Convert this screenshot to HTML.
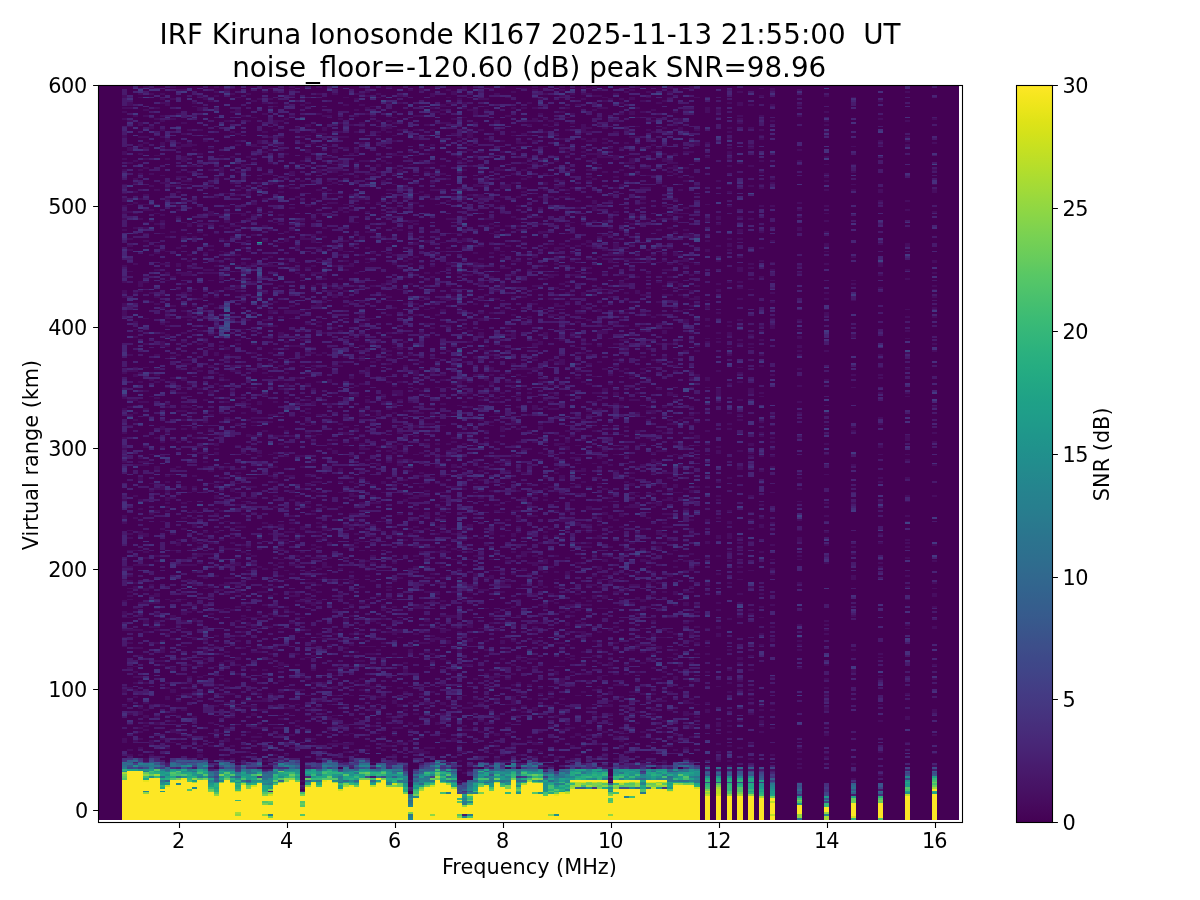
<!DOCTYPE html>
<html lang="en"><head><meta charset="utf-8"><title>IRF Kiruna Ionosonde KI167</title>
<style>html,body{margin:0;padding:0;background:#fff}svg{display:block}text{font-family:"DejaVu Sans","Liberation Sans",sans-serif;fill:#000}</style></head>
<body>
<svg width="1200" height="900" viewBox="0 0 1200 900">
<rect width="1200" height="900" fill="#fff"/>
<defs><linearGradient id="vg" x1="0" y1="0" x2="0" y2="1"><stop offset="0.0000" stop-color="#fde725"/><stop offset="0.0159" stop-color="#f4e61e"/><stop offset="0.0317" stop-color="#eae51a"/><stop offset="0.0476" stop-color="#dfe318"/><stop offset="0.0635" stop-color="#d5e21a"/><stop offset="0.0794" stop-color="#cae11f"/><stop offset="0.0952" stop-color="#c0df25"/><stop offset="0.1111" stop-color="#b5de2b"/><stop offset="0.1270" stop-color="#aadc32"/><stop offset="0.1429" stop-color="#a0da39"/><stop offset="0.1587" stop-color="#95d840"/><stop offset="0.1746" stop-color="#8bd646"/><stop offset="0.1905" stop-color="#81d34d"/><stop offset="0.2063" stop-color="#77d153"/><stop offset="0.2222" stop-color="#6ece58"/><stop offset="0.2381" stop-color="#65cb5e"/><stop offset="0.2540" stop-color="#5ac864"/><stop offset="0.2698" stop-color="#52c569"/><stop offset="0.2857" stop-color="#4ac16d"/><stop offset="0.3016" stop-color="#42be71"/><stop offset="0.3175" stop-color="#3bbb75"/><stop offset="0.3333" stop-color="#35b779"/><stop offset="0.3492" stop-color="#2fb47c"/><stop offset="0.3651" stop-color="#2ab07f"/><stop offset="0.3810" stop-color="#26ad81"/><stop offset="0.3968" stop-color="#23a983"/><stop offset="0.4127" stop-color="#21a585"/><stop offset="0.4286" stop-color="#1fa187"/><stop offset="0.4444" stop-color="#1f9e89"/><stop offset="0.4603" stop-color="#1f9a8a"/><stop offset="0.4762" stop-color="#1f968b"/><stop offset="0.4921" stop-color="#20928c"/><stop offset="0.5079" stop-color="#218e8d"/><stop offset="0.5238" stop-color="#238a8d"/><stop offset="0.5397" stop-color="#24868e"/><stop offset="0.5556" stop-color="#26828e"/><stop offset="0.5714" stop-color="#277f8e"/><stop offset="0.5873" stop-color="#297b8e"/><stop offset="0.6032" stop-color="#2a778e"/><stop offset="0.6190" stop-color="#2c738e"/><stop offset="0.6349" stop-color="#2d708e"/><stop offset="0.6508" stop-color="#2f6c8e"/><stop offset="0.6667" stop-color="#31688e"/><stop offset="0.6825" stop-color="#32648e"/><stop offset="0.6984" stop-color="#34608d"/><stop offset="0.7143" stop-color="#365c8d"/><stop offset="0.7302" stop-color="#38588c"/><stop offset="0.7460" stop-color="#3a538b"/><stop offset="0.7619" stop-color="#3d4e8a"/><stop offset="0.7778" stop-color="#3e4989"/><stop offset="0.7937" stop-color="#404588"/><stop offset="0.8095" stop-color="#424086"/><stop offset="0.8254" stop-color="#443b84"/><stop offset="0.8413" stop-color="#453781"/><stop offset="0.8571" stop-color="#46327e"/><stop offset="0.8730" stop-color="#472d7b"/><stop offset="0.8889" stop-color="#482878"/><stop offset="0.9048" stop-color="#482374"/><stop offset="0.9206" stop-color="#481d6f"/><stop offset="0.9365" stop-color="#48186a"/><stop offset="0.9524" stop-color="#471365"/><stop offset="0.9683" stop-color="#470d60"/><stop offset="0.9841" stop-color="#46075a"/><stop offset="1.0000" stop-color="#440154"/></linearGradient><clipPath id="ac"><rect x="99" y="86" width="860" height="734"/></clipPath></defs>
<g clip-path="url(#ac)" shape-rendering="crispEdges"><rect x="99" y="86" width="860" height="734" fill="#440154"/>
<g transform="translate(121.850 818.694) scale(5.400 -1.8120)" fill="none" stroke-width="1">
<path stroke="#470d60" d="M33 17h1m91 3h1m-93 1h1m19 0h1m8 0h1m72 1h1m4 2h1m-78 1h1m71 1h1m-74 1h1m1 0h1m55 0h1m-105 1h1m8 0h1m39 0h1m11 0h1m4 0h1m42 0h1m-109 1h1m9 0h1m51 0h1m8 0h2m22 0h1m37 0h1m-86 1h1m26 0h1m5 0h1m1 0h1m24 0h1m9 0h1m-128 1h1m11 0h2m14 0h1m3 0h1m5 0h2m4 0h1m33 0h1m3 0h2m1 0h1m-90 1h1m11 0h1m9 0h1m1 0h1m11 0h1m21 0h1m6 0h3m24 0h3m1 0h1m4 0h1m4 0h1m1 0h1m-109 1h1m13 0h1m1 0h1m29 0h1m18 0h1m5 0h1m4 0h1m2 0h1m7 0h1m12 0h1m11 0h1m8 0h1m-112 1h1m7 0h1m13 0h1m2 0h1m1 0h1m34 0h1m1 0h1m1 0h1m8 0h1m40 0h1m-130 1h1m1 0h1m1 0h1m8 0h1m13 0h1m1 0h1m12 0h1m6 0h1m19 0h1m2 0h1m10 0h1m35 0h1m-65 1h1m8 0h1m2 0h1m16 0h1m3 0h1m3 0h1m4 0h1m31 0h1m19 0h1m-137 1h1m8 0h1m17 0h1m12 0h3m5 0h2m13 0h1m32 0h1m14 0h1m14 0h1m-140 1h1m26 0h1m14 0h1m1 0h1m2 0h1m5 0h2m11 0h1m1 0h1m1 0h2m3 0h1m3 0h1m21 0h1m-100 1h1m4 0h1m17 0h1m4 0h1m24 0h2m1 0h1m32 0h1m11 0h1m9 0h1m10 0h1m-112 1h1m1 0h1m3 0h1m20 0h1m3 0h1m2 0h2m12 0h1m4 0h1m4 0h1m10 0h1m1 0h1m15 0h1m10 0h1m-108 1h1m32 0h5m5 0h1m2 0h1m24 0h2m10 0h1m21 0h1m5 0h1m-117 1h1m4 0h1m2 0h2m1 0h1m6 0h1m16 0h1m6 0h1m7 0h3m19 0h1m3 0h1m3 0h1m13 0h1m50 0h1m-146 1h1m1 0h1m2 0h1m7 0h1m5 0h1m4 0h1m14 0h1m13 0h1m5 0h1m1 0h1m3 0h1m9 0h1m16 0h1m9 0h2m-104 1h1m2 0h1m3 0h1m11 0h1m1 0h1m13 0h1m23 0h1m1 0h1m36 0h1m2 0h1m-90 1h1m2 0h1m8 0h2m22 0h1m6 0h1m27 0h1m4 0h1m2 0h1m1 0h1m2 0h1m6 0h1m1 0h1m-77 1h1m1 0h1m9 0h1m8 0h1m18 0h1m1 0h1m12 0h1m1 0h1m15 0h1m3 0h1m23 0h1m19 0h1m-149 1h1m7 0h1m6 0h2m6 0h1m12 0h1m3 0h1m4 0h1m11 0h1m8 0h2m11 0h1m2 0h1m8 0h1m3 0h1m32 0h1m-128 1h1m5 0h2m6 0h1m5 0h1m42 0h1m10 0h1m11 0h1m2 0h1m3 0h1m3 0h1m11 0h1m5 0h1m-115 1h1m4 0h1m3 0h1m24 0h1m14 0h1m9 0h2m16 0h1m-79 1h1m15 0h1m4 0h2m2 0h2m13 0h1m6 0h2m7 0h1m22 0h2m21 0h1m14 0h1m-117 1h1m15 0h1m11 0h1m6 0h1m1 0h1m4 0h1m16 0h1m15 0h1m5 0h1m19 0h1m4 0h1m1 0h1m5 0h1m-118 1h1m3 0h2m3 0h1m14 0h1m15 0h1m11 0h1m1 0h1m2 0h1m3 0h1m4 0h1m31 0h1m5 0h1m4 0h1m3 0h1m15 0h1m-127 1h1m1 0h1m9 0h1m33 0h1m2 0h1m4 0h1m8 0h1m3 0h1m10 0h1m7 0h1m4 0h1m14 0h1m7 0h1m-110 1h1m22 0h1m33 0h1m20 0h1m5 0h1m6 0h1m11 0h1m1 0h1m3 0h1m21 0h1m-112 1h1m8 0h2m3 0h1m3 0h1m2 0h1m13 0h1m25 0h1m8 0h1m45 0h1m-142 1h1m1 0h1m6 0h1m6 0h1m14 0h1m2 0h1m10 0h1m5 0h1m1 0h1m3 0h1m7 0h1m10 0h1m7 0h1m7 0h1m1 0h1m7 0h1m38 0h1m-142 1h1m3 0h1m1 0h1m7 0h1m5 0h1m4 0h1m4 0h1m4 0h1m16 0h1m11 0h2m3 0h1m6 0h1m23 0h1m-104 1h1m1 0h1m20 0h1m12 0h1m13 0h1m2 0h1m4 0h1m27 0h1m2 0h1m7 0h1m5 0h2m10 0h1m-114 1h1m5 0h1m10 0h1m14 0h1m35 0h1m2 0h1m20 0h1m8 0h1m3 0h1m41 0h1m-147 1h1m6 0h1m8 0h1m4 0h2m10 0h1m8 0h1m5 0h1m9 0h1m5 0h1m4 0h1m2 0h1m21 0h1m2 0h1m6 0h1m9 0h1m1 0h1m9 0h1m19 0h1m-148 1h1m17 0h1m2 0h1m5 0h2m1 0h1m1 0h1m10 0h1m16 0h2m7 0h1m3 0h1m6 0h1m2 0h1m6 0h1m4 0h1m31 0h1m-131 1h1m6 0h1m9 0h1m1 0h1m2 0h3m3 0h1m12 0h1m2 0h1m6 0h1m8 0h2m12 0h1m4 0h1m9 0h2m27 0h1m-114 1h1m1 0h1m10 0h1m13 0h1m5 0h1m12 0h2m1 0h1m1 0h1m2 0h1m8 0h1m2 0h2m4 0h1m3 0h1m8 0h1m15 0h1m9 0h1m3 0h1m19 0h1m-137 1h1m14 0h1m30 0h1m2 0h1m2 0h1m2 0h1m4 0h1m1 0h1m5 0h1m31 0h2m2 0h1m9 0h1m-118 1h1m8 0h1m11 0h5m9 0h1m2 0h1m8 0h1m1 0h1m3 0h1m14 0h1m2 0h1m17 0h1m6 0h1m1 0h2m3 0h1m-97 1h1m4 0h1m12 0h1m38 0h1m6 0h1m2 0h1m1 0h1m3 0h1m23 0h1m10 0h1m-115 1h1m5 0h1m36 0h1m1 0h2m2 0h1m20 0h1m6 0h1m8 0h1m3 0h1m7 0h1m29 0h1m-121 1h1m1 0h2m14 0h1m3 0h1m1 0h1m4 0h1m2 0h1m3 0h1m16 0h1m9 0h1m10 0h1m9 0h1m2 0h1m16 0h1m1 0h1m-106 1h2m2 0h1m2 0h3m4 0h1m1 0h1m27 0h1m18 0h1m2 0h1m12 0h1m5 0h1m1 0h1m31 0h1m14 0h1m-146 1h1m8 0h1m3 0h1m10 0h1m4 0h1m15 0h1m6 0h1m4 0h1m21 0h1m5 0h1m4 0h1m3 0h1m6 0h1m10 0h1m-113 1h1m1 0h1m6 0h1m22 0h2m10 0h1m42 0h1m12 0h1m13 0h1m1 0h1m-116 1h1m6 0h1m3 0h1m24 0h1m1 0h1m6 0h1m4 0h1m16 0h1m1 0h1m6 0h1m20 0h1m4 0h1m26 0h1m-131 1h1m14 0h2m2 0h1m19 0h1m1 0h1m3 0h2m2 0h1m5 0h1m24 0h1m2 0h1m4 0h1m7 0h1m7 0h1m5 0h1m-94 1h1m27 0h1m13 0h1m12 0h1m2 0h1m15 0h2m-91 1h1m1 0h1m3 0h1m3 0h1m22 0h1m1 0h1m35 0h1m7 0h1m30 0h1m-110 1h1m15 0h1m4 0h1m4 0h1m13 0h1m37 0h1m4 0h1m18 0h1m8 0h1m-97 1h1m15 0h1m9 0h1m20 0h1m2 0h1m2 0h1m9 0h1m6 0h1m10 0h1m2 0h1m27 0h1m9 0h1m9 0h1m-149 1h2m8 0h1m1 0h1m7 0h1m3 0h1m6 0h1m34 0h2m18 0h1m11 0h1m1 0h1m17 0h1m-106 1h1m2 0h1m20 0h1m12 0h1m16 0h1m19 0h1m50 0h1m-120 1h1m45 0h1m4 0h1m7 0h1m4 0h2m4 0h1m1 0h1m-92 1h1m49 0h1m27 0h1m2 0h1m11 0h1m4 0h1m7 0h1m26 0h1m-127 1h1m14 0h1m1 0h1m8 0h1m2 0h2m12 0h1m8 0h1m6 0h2m42 0h1m3 0h1m18 0h1m-135 1h1m7 0h1m12 0h1m6 0h1m11 0h1m15 0h1m15 0h2m1 0h1m13 0h1m7 0h1m26 0h1m-124 1h1m5 0h1m8 0h1m21 0h1m2 0h1m3 0h1m9 0h1m6 0h1m17 0h1m21 0h1m-97 1h1m4 0h1m1 0h1m6 0h1m7 0h2m1 0h1m12 0h1m17 0h2m7 0h1m17 0h1m2 0h1m9 0h1m26 0h1m19 0h1m-136 1h1m2 0h1m10 0h1m22 0h1m32 0h1m2 0h1m1 0h1m5 0h1m8 0h1m8 0h1m-109 1h2m11 0h2m22 0h2m1 0h1m10 0h1m2 0h1m13 0h1m6 0h1m12 0h1m2 0h1m-88 1h1m1 0h1m2 0h1m5 0h1m5 0h1m5 0h1m25 0h1m10 0h1m2 0h1m1 0h2m6 0h1m14 0h1m6 0h1m4 0h1m3 0h1m-104 1h1m9 0h1m12 0h1m12 0h2m3 0h1m29 0h1m7 0h1m6 0h1m3 0h1m12 0h1m25 0h1m-138 1h1m31 0h1m6 0h1m30 0h1m9 0h1m3 0h1m28 0h1m-99 1h1m8 0h1m4 0h1m12 0h2m3 0h1m6 0h1m40 0h1m3 0h1m3 0h1m1 0h1m31 0h1m-134 1h1m7 0h1m3 0h1m4 0h2m9 0h1m5 0h1m1 0h1m9 0h1m2 0h1m5 0h1m5 0h1m16 0h1m10 0h1m-90 1h1m7 0h1m12 0h1m18 0h1m5 0h1m8 0h1m4 0h1m13 0h1m6 0h1m2 0h1m2 0h1m7 0h1m9 0h1m12 0h1m9 0h1m-134 1h2m12 0h1m5 0h1m2 0h1m2 0h1m9 0h1m2 0h1m21 0h1m31 0h1m3 0h1m-100 1h1m6 0h1m3 0h1m3 0h1m1 0h1m7 0h1m18 0h3m52 0h1m8 0h1m-71 1h1m3 0h1m10 0h1m12 0h1m10 0h1m4 0h1m10 0h1m1 0h3m20 0h1m6 0h1m-125 1h1m4 0h1m28 0h1m12 0h1m6 0h2m3 0h1m9 0h1m9 0h2m6 0h1m2 0h1m14 0h1m-100 1h1m7 0h1m5 0h1m35 0h1m2 0h1m3 0h1m2 0h1m2 0h1m1 0h1m3 0h1m10 0h1m7 0h1m9 0h1m2 0h1m11 0h1m4 0h1m-117 1h1m3 0h1m6 0h1m16 0h1m6 0h1m1 0h1m10 0h3m4 0h1m18 0h1m22 0h1m13 0h1m-121 1h1m12 0h1m1 0h1m17 0h1m2 0h1m10 0h1m3 0h1m6 0h1m6 0h1m19 0h1m6 0h1m6 0h2m24 0h1m-109 1h1m3 0h1m35 0h1m4 0h1m23 0h1m11 0h1m11 0h1m-103 1h1m27 0h1m2 0h1m2 0h1m1 0h1m5 0h1m3 0h1m30 0h1m12 0h1m3 0h1m2 0h1m4 0h1m7 0h1m11 0h1m-127 1h1m17 0h1m9 0h1m10 0h1m5 0h3m4 0h1m2 0h1m2 0h1m19 0h1m1 0h2m2 0h1m12 0h1m3 0h1m-106 1h4m2 0h1m27 0h1m5 0h1m6 0h1m3 0h1m7 0h2m8 0h1m6 0h1m13 0h1m9 0h1m29 0h1m-122 1h1m1 0h1m11 0h1m5 0h1m1 0h1m14 0h1m11 0h1m3 0h1m3 0h1m1 0h1m13 0h1m13 0h1m11 0h1m1 0h1m34 0h1m4 0h1m-146 1h2m17 0h1m2 0h1m21 0h1m8 0h1m2 0h1m2 0h1m11 0h1m8 0h1m5 0h1m14 0h1m3 0h1m9 0h1m29 0h1m-144 1h1m2 0h1m12 0h1m20 0h1m11 0h1m7 0h1m17 0h1m42 0h1m4 0h1m14 0h1m-142 1h1m9 0h1m8 0h1m7 0h1m15 0h1m20 0h1m1 0h1m5 0h2m4 0h1m2 0h1m18 0h1m-101 1h1m1 0h1m4 0h1m1 0h1m7 0h1m19 0h1m4 0h1m4 0h1m4 0h1m14 0h1m12 0h1m13 0h1m6 0h1m24 0h1m-123 1h1m4 0h1m8 0h1m18 0h1m6 0h1m61 0h1m1 0h1m-113 1h2m7 0h1m13 0h4m5 0h2m4 0h1m21 0h2m32 0h1m3 0h1m2 0h2m2 0h1m8 0h1m3 0h1m-116 1h1m5 0h1m12 0h1m5 0h1m13 0h1m16 0h3m6 0h1m4 0h1m3 0h1m5 0h1m30 0h1m20 0h1m-136 1h1m5 0h1m4 0h1m4 0h1m8 0h1m1 0h1m67 0h1m20 0h1m-117 1h1m10 0h2m18 0h1m37 0h1m11 0h1m1 0h1m2 0h1m19 0h1m7 0h1m-102 1h1m4 0h1m1 0h1m9 0h1m8 0h1m8 0h1m33 0h1m1 0h1m11 0h1m13 0h1m5 0h1m-115 1h1m3 0h1m5 0h1m6 0h1m28 0h1m5 0h2m11 0h1m3 0h1m13 0h1m2 0h2m1 0h1m7 0h1m-85 1h1m5 0h1m1 0h1m3 0h2m1 0h1m19 0h1m3 0h2m16 0h1m5 0h1m3 0h1m14 0h1m20 0h1m31 0h1m-138 1h1m8 0h1m3 0h1m8 0h1m6 0h1m2 0h1m2 0h1m6 0h1m3 0h1m17 0h2m3 0h2m1 0h2m5 0h1m9 0h1m1 0h1m1 0h1m13 0h1m-118 1h4m27 0h2m8 0h1m35 0h1m3 0h1m9 0h1m9 0h1m5 0h1m3 0h1m-115 1h1m8 0h2m21 0h2m2 0h1m20 0h1m1 0h1m3 0h1m15 0h1m3 0h1m2 0h1m9 0h1m-96 1h1m6 0h1m2 0h1m13 0h1m8 0h1m7 0h1m2 0h1m4 0h1m22 0h1m21 0h2m7 0h1m40 0h1m-130 1h1m17 0h1m5 0h1m8 0h1m14 0h1m20 0h1m1 0h1m1 0h1m2 0h1m2 0h1m-95 1h1m3 0h2m20 0h1m3 0h2m14 0h1m39 0h1m1 0h1m60 0h1m-145 1h1m4 0h1m7 0h1m2 0h1m5 0h1m3 0h1m7 0h1m17 0h1m15 0h1m1 0h1m2 0h1m4 0h1m13 0h1m3 0h1m11 0h1m3 0h1m31 0h1m-150 1h1m19 0h1m3 0h2m4 0h1m4 0h1m19 0h3m2 0h1m2 0h1m5 0h1m11 0h1m8 0h2m7 0h1m1 0h1m1 0h2m-102 1h1m12 0h2m16 0h1m13 0h1m16 0h2m16 0h1m8 0h1m-93 1h2m1 0h2m9 0h1m23 0h1m37 0h1m14 0h1m57 0h1m-149 1h1m13 0h1m9 0h1m1 0h1m15 0h1m4 0h1m15 0h1m12 0h1m1 0h2m6 0h1m16 0h1m10 0h1m28 0h1m-141 1h1m7 0h1m1 0h1m2 0h2m1 0h1m14 0h1m3 0h1m18 0h1m4 0h1m5 0h2m2 0h1m2 0h1m8 0h2m6 0h2m12 0h1m-107 1h1m16 0h1m2 0h1m11 0h2m6 0h1m12 0h2m1 0h1m11 0h1m6 0h1m12 0h1m6 0h1m1 0h1m8 0h1m3 0h1m12 0h1m24 0h1m-150 1h1m10 0h1m15 0h1m9 0h1m3 0h1m3 0h1m3 0h1m20 0h1m16 0h1m1 0h1m7 0h1m-99 1h1m11 0h1m11 0h1m5 0h1m3 0h1m1 0h1m3 0h1m2 0h1m36 0h1m7 0h1m13 0h1m5 0h1m5 0h1m20 0h1m-121 1h1m3 0h2m16 0h1m4 0h1m8 0h1m5 0h1m1 0h1m7 0h2m6 0h1m16 0h1m42 0h1m-135 1h1m15 0h1m11 0h1m4 0h1m10 0h1m14 0h1m4 0h1m2 0h1m8 0h1m9 0h1m1 0h1m11 0h1m33 0h1m9 0h1m-115 1h1m5 0h1m19 0h1m7 0h1m6 0h1m2 0h1m6 0h1m10 0h1m1 0h1m7 0h1m6 0h1m9 0h1m-108 1h1m20 0h1m7 0h1m19 0h1m7 0h1m7 0h1m1 0h1m1 0h1m8 0h1m6 0h1m15 0h1m-114 1h1m21 0h1m6 0h1m14 0h1m22 0h1m8 0h1m5 0h1m13 0h1m6 0h2m10 0h1m-93 1h1m1 0h1m1 0h1m7 0h1m3 0h1m12 0h1m8 0h1m11 0h1m13 0h1m16 0h1m14 0h1m-121 1h2m15 0h1m7 0h1m9 0h1m1 0h2m6 0h1m8 0h1m4 0h1m19 0h1m8 0h1m8 0h1m4 0h1m11 0h1m25 0h1m-139 1h3m5 0h4m6 0h2m6 0h1m2 0h2m4 0h1m38 0h1m29 0h1m-93 1h1m6 0h1m2 0h1m4 0h1m7 0h1m6 0h1m1 0h1m3 0h1m24 0h4m5 0h1m45 0h1m9 0h1m-135 1h1m38 0h1m16 0h1m8 0h1m6 0h1m10 0h1m6 0h2m4 0h1m1 0h1m7 0h1m1 0h1m35 0h1m-142 1h1m19 0h1m1 0h1m12 0h1m3 0h1m1 0h1m3 0h1m6 0h1m2 0h1m3 0h1m9 0h1m7 0h1m2 0h1m3 0h1m2 0h1m1 0h1m7 0h1m13 0h1m4 0h1m-122 1h1m7 0h1m8 0h1m11 0h1m1 0h4m17 0h1m2 0h1m13 0h1m3 0h1m4 0h1m4 0h1m20 0h1m36 0h1m-140 1h1m6 0h2m9 0h1m7 0h1m7 0h1m5 0h1m7 0h1m10 0h2m7 0h1m1 0h1m3 0h1m8 0h1m6 0h1m13 0h1m14 0h1m-112 1h3m6 0h1m50 0h1m12 0h1m5 0h1m7 0h1m3 0h1m29 0h1m-132 1h1m5 0h1m11 0h1m10 0h1m21 0h1m2 0h3m3 0h1m4 0h1m2 0h1m1 0h2m36 0h1m5 0h1m-118 1h2m6 0h1m20 0h1m13 0h1m14 0h1m2 0h1m3 0h1m9 0h1m2 0h1m14 0h1m7 0h1m-90 1h1m5 0h3m3 0h1m3 0h1m5 0h1m25 0h1m31 0h1m2 0h1m2 0h1m14 0h1m-101 1h1m8 0h1m12 0h1m4 0h3m10 0h1m2 0h1m27 0h2m3 0h1m8 0h1m35 0h1m9 0h1m-136 1h1m11 0h1m12 0h1m16 0h1m2 0h1m4 0h1m2 0h1m3 0h1m52 0h1m9 0h1m19 0h1m-141 1h1m3 0h1m1 0h1m3 0h1m9 0h1m7 0h1m4 0h1m33 0h1m6 0h1m1 0h1m7 0h1m4 0h1m8 0h1m5 0h1m25 0h1m4 0h1m-133 1h1m13 0h1m16 0h1m6 0h1m20 0h1m20 0h1m10 0h1m3 0h1m7 0h1m8 0h1m-116 1h1m2 0h1m4 0h1m10 0h2m1 0h1m3 0h1m6 0h1m8 0h1m9 0h2m37 0h1m23 0h1m19 0h1m-145 1h1m18 0h1m16 0h1m16 0h2m8 0h1m1 0h1m14 0h1m5 0h2m21 0h1m1 0h1m1 0h1m10 0h1m-122 1h1m10 0h1m13 0h1m16 0h1m4 0h2m17 0h1m1 0h1m2 0h1m2 0h1m1 0h1m7 0h1m21 0h1m1 0h1m-112 1h1m1 0h2m4 0h1m17 0h1m4 0h1m10 0h1m9 0h1m4 0h1m2 0h1m6 0h1m3 0h1m22 0h1m3 0h2m4 0h1m6 0h1m27 0h1m-138 1h1m11 0h1m1 0h1m12 0h2m4 0h1m14 0h1m2 0h1m4 0h1m2 0h1m5 0h1m4 0h1m4 0h1m7 0h1m12 0h1m30 0h1m-130 1h1m32 0h1m2 0h1m3 0h1m8 0h1m12 0h2m11 0h1m8 0h1m1 0h1m3 0h1m10 0h1m2 0h1m14 0h1m4 0h1m-119 1h1m3 0h1m15 0h1m3 0h1m1 0h1m3 0h2m8 0h1m5 0h1m2 0h1m4 0h1m1 0h1m15 0h1m6 0h1m9 0h1m8 0h1m10 0h1m-104 1h1m7 0h2m6 0h1m3 0h1m2 0h1m4 0h2m1 0h1m9 0h1m3 0h2m4 0h1m5 0h1m2 0h1m16 0h1m1 0h1m7 0h2m16 0h1m-106 1h1m13 0h1m1 0h1m7 0h1m3 0h1m3 0h2m12 0h1m4 0h1m17 0h1m1 0h1m1 0h1m1 0h1m29 0h1m-119 1h1m20 0h1m4 0h1m4 0h1m4 0h1m6 0h1m40 0h1m15 0h1m11 0h1m7 0h1m-114 1h1m11 0h1m12 0h1m9 0h1m5 0h1m32 0h2m3 0h1m21 0h1m3 0h1m32 0h1m-103 1h1m10 0h1m16 0h1m1 0h1m7 0h3m4 0h1m2 0h1m13 0h1m2 0h1m7 0h1m8 0h1m-126 1h1m1 0h1m8 0h1m1 0h1m9 0h1m34 0h1m14 0h1m14 0h1m1 0h1m6 0h1m3 0h1m8 0h1m7 0h1m-119 1h1m30 0h1m24 0h1m2 0h1m3 0h1m11 0h2m4 0h1m5 0h1m2 0h1m1 0h1m37 0h1m14 0h1m-141 1h1m11 0h1m4 0h1m12 0h1m6 0h2m7 0h1m4 0h1m32 0h1m2 0h1m7 0h2m-89 1h1m10 0h1m31 0h1m13 0h1m8 0h1m1 0h1m7 0h1m20 0h1m5 0h1m-111 1h1m1 0h1m4 0h1m4 0h1m16 0h1m23 0h1m9 0h1m2 0h2m6 0h1m1 0h1m29 0h1m-110 1h1m13 0h1m4 0h1m7 0h1m23 0h1m31 0h1m17 0h1m-97 1h1m19 0h1m5 0h1m2 0h1m2 0h1m17 0h2m13 0h1m12 0h1m2 0h1m3 0h3m2 0h1m-78 1h1m47 0h1m5 0h1m18 0h2m3 0h1m18 0h1m-111 1h1m2 0h1m11 0h1m9 0h2m9 0h1m1 0h2m50 0h2m30 0h1m4 0h1m4 0h1m-137 1h1m7 0h1m9 0h1m9 0h1m19 0h1m6 0h1m11 0h1m16 0h1m1 0h1m11 0h1m1 0h1m20 0h1m14 0h1m4 0h1m-146 1h1m2 0h1m4 0h1m22 0h1m20 0h1m23 0h1m1 0h1m4 0h1m10 0h1m5 0h2m3 0h1m4 0h1m-103 1h2m7 0h1m2 0h1m2 0h2m28 0h2m4 0h1m2 0h1m3 0h1m7 0h1m15 0h1m10 0h1m1 0h1m-102 1h1m14 0h1m10 0h1m3 0h1m9 0h2m2 0h1m7 0h3m21 0h1m16 0h1m14 0h1m5 0h1m28 0h1m4 0h1m-109 1h1m9 0h1m2 0h1m20 0h1m4 0h1m2 0h1m5 0h1m3 0h1m2 0h2m-91 1h1m3 0h1m8 0h1m14 0h1m3 0h1m7 0h1m4 0h1m4 0h2m9 0h1m25 0h1m6 0h2m1 0h1m14 0h1m-116 1h1m2 0h1m4 0h1m1 0h1m2 0h1m1 0h1m7 0h1m2 0h1m3 0h1m20 0h1m9 0h1m1 0h1m4 0h1m6 0h1m20 0h1m3 0h1m-100 1h2m3 0h1m8 0h1m12 0h1m12 0h1m16 0h1m8 0h1m5 0h1m10 0h1m14 0h1m20 0h1m-119 1h1m3 0h1m1 0h1m9 0h2m25 0h1m4 0h1m5 0h2m7 0h1m8 0h1m3 0h1m2 0h1m13 0h1m1 0h1m3 0h1m1 0h1m-92 1h1m16 0h1m11 0h1m28 0h1m8 0h1m9 0h1m5 0h1m1 0h1m-98 1h2m9 0h1m4 0h1m7 0h1m13 0h1m4 0h1m2 0h1m3 0h2m1 0h2m5 0h1m8 0h1m3 0h1m9 0h1m5 0h1m2 0h1m20 0h1m-111 1h1m9 0h1m9 0h1m6 0h2m3 0h1m1 0h1m2 0h1m2 0h1m19 0h1m16 0h1m7 0h1m16 0h1m29 0h1m-138 1h1m48 0h1m13 0h1m-64 1h1m14 0h1m4 0h2m3 0h1m15 0h1m11 0h2m7 0h1m12 0h1m2 0h1m6 0h1m5 0h1m6 0h1m10 0h1m12 0h1m14 0h1m4 0h1m-138 1h1m4 0h1m7 0h1m5 0h1m2 0h2m2 0h1m20 0h1m3 0h1m3 0h1m17 0h1m-73 1h1m25 0h1m47 0h1m8 0h1m37 0h1m-110 1h1m6 0h1m8 0h1m17 0h1m18 0h1m5 0h1m7 0h1m5 0h1m3 0h1m1 0h2m23 0h1m-110 1h1m23 0h1m3 0h1m8 0h1m12 0h1m4 0h1m12 0h2m5 0h1m26 0h1m-113 1h1m2 0h1m8 0h1m2 0h2m17 0h1m22 0h1m3 0h1m5 0h1m6 0h1m4 0h1m2 0h1m25 0h1m-109 1h1m3 0h1m4 0h1m1 0h1m1 0h1m8 0h1m4 0h1m24 0h2m1 0h1m4 0h1m14 0h1m13 0h1m7 0h1m10 0h1m5 0h1m-119 1h3m21 0h1m20 0h1m3 0h1m6 0h1m2 0h1m6 0h1m1 0h1m4 0h1m14 0h1m5 0h1m2 0h1m3 0h1m31 0h1m14 0h1m-112 1h1m7 0h1m3 0h1m4 0h1m25 0h1m1 0h1m2 0h1m1 0h1m-90 1h1m2 0h2m10 0h1m19 0h1m13 0h1m3 0h1m11 0h1m4 0h1m18 0h1m8 0h2m-55 1h1m5 0h1m1 0h1m17 0h1m5 0h1m2 0h1m17 0h1m46 0h1m-143 1h1m54 0h1m10 0h1m13 0h2m3 0h1m17 0h1m-100 1h1m7 0h1m9 0h1m4 0h1m1 0h2m8 0h1m16 0h1m12 0h1m15 0h1m4 0h1m9 0h1m12 0h1m1 0h1m1 0h1m-116 1h1m11 0h1m9 0h1m26 0h1m1 0h1m4 0h1m10 0h1m5 0h2m4 0h1m6 0h1m10 0h1m5 0h1m21 0h1m9 0h1m4 0h1m-132 1h2m1 0h1m4 0h1m2 0h1m2 0h1m1 0h1m8 0h1m10 0h1m1 0h1m2 0h1m21 0h1m20 0h1m11 0h1m5 0h1m-104 1h1m11 0h1m13 0h1m9 0h1m1 0h1m8 0h2m27 0h1m9 0h2m5 0h1m3 0h1m3 0h1m-115 1h1m16 0h1m20 0h1m5 0h2m4 0h1m11 0h1m11 0h2m6 0h1m8 0h1m1 0h1m26 0h1m-117 1h1m2 0h1m6 0h2m28 0h1m2 0h1m2 0h1m30 0h2m5 0h1m15 0h1m5 0h1m29 0h1m-124 1h1m3 0h1m19 0h1m7 0h2m14 0h1m6 0h1m7 0h1m3 0h1m7 0h2m1 0h1m10 0h1m9 0h1m23 0h1m-124 1h1m11 0h1m8 0h1m5 0h1m6 0h1m4 0h1m1 0h1m1 0h1m2 0h1m16 0h2m14 0h1m11 0h1m7 0h1m13 0h1m-124 1h1m2 0h1m24 0h1m25 0h1m5 0h1m1 0h1m3 0h1m2 0h1m5 0h1m7 0h1m11 0h1m17 0h1m29 0h1m-142 1h1m29 0h1m3 0h1m38 0h1m2 0h1m59 0h1m-146 1h1m5 0h1m6 0h1m20 0h1m7 0h1m18 0h1m2 0h1m32 0h2m7 0h1m13 0h1m4 0h1m19 0h1m-128 1h1m4 0h2m3 0h2m1 0h1m3 0h1m18 0h1m26 0h1m1 0h1m11 0h1m10 0h1m11 0h1m26 0h1m-134 1h1m2 0h1m7 0h1m3 0h1m8 0h1m4 0h1m2 0h1m1 0h1m17 0h1m11 0h1m3 0h1m9 0h1m1 0h1m27 0h1m9 0h1m-131 1h1m7 0h1m25 0h1m6 0h2m8 0h1m4 0h1m38 0h1m4 0h1m4 0h1m12 0h1m31 0h1m-125 1h1m3 0h1m36 0h1m2 0h1m4 0h1m6 0h1m1 0h1m2 0h1m7 0h1m3 0h1m1 0h1m6 0h1m26 0h1m-129 1h1m3 0h1m1 0h1m2 0h1m26 0h1m26 0h1m2 0h1m3 0h1m12 0h1m21 0h1m-106 1h1m21 0h1m11 0h1m12 0h1m8 0h1m6 0h1m6 0h1m13 0h1m1 0h1m41 0h1m-136 1h2m13 0h1m8 0h1m9 0h1m16 0h1m2 0h2m3 0h1m8 0h1m51 0h1m9 0h1m-110 1h1m13 0h1m4 0h1m15 0h2m14 0h2m3 0h1m23 0h2m1 0h1m7 0h1m27 0h1m-128 1h1m1 0h1m8 0h1m2 0h1m6 0h1m11 0h1m21 0h1m3 0h1m33 0h1m11 0h1m-117 1h1m8 0h1m8 0h1m2 0h1m42 0h1m18 0h1m11 0h1m3 0h1m1 0h1m10 0h1m-103 1h1m6 0h1m4 0h3m23 0h1m6 0h1m24 0h1m21 0h2m34 0h1m-137 1h2m25 0h1m1 0h1m3 0h1m3 0h1m2 0h1m1 0h1m21 0h2m14 0h1m3 0h1m7 0h1m3 0h1m-100 1h1m14 0h1m10 0h2m7 0h1m7 0h1m2 0h1m9 0h1m17 0h1m10 0h1m18 0h1m8 0h1m5 0h1m-119 1h1m15 0h1m3 0h1m11 0h1m9 0h1m2 0h1m2 0h1m3 0h2m5 0h1m7 0h1m25 0h1m2 0h1m7 0h1m5 0h1m12 0h1m4 0h1m-121 1h2m4 0h1m7 0h1m21 0h1m5 0h1m33 0h1m10 0h2m9 0h1m-109 1h1m3 0h1m8 0h1m20 0h1m9 0h1m4 0h1m26 0h1m2 0h2m7 0h1m-88 1h1m6 0h1m2 0h2m10 0h1m40 0h1m1 0h1m6 0h1m2 0h1m1 0h1m11 0h1m1 0h1m4 0h1m2 0h1m4 0h1m44 0h1m-149 1h1m8 0h1m26 0h1m11 0h1m4 0h1m1 0h1m4 0h1m13 0h1m15 0h1m37 0h1m-123 1h1m14 0h1m1 0h1m7 0h1m1 0h1m2 0h1m11 0h1m8 0h1m31 0h1m-89 1h2m14 0h1m2 0h1m2 0h1m2 0h1m3 0h1m2 0h1m9 0h1m2 0h1m4 0h1m9 0h1m5 0h1m9 0h1m7 0h1m22 0h1m14 0h1m-125 1h2m12 0h1m7 0h1m10 0h1m10 0h1m5 0h1m14 0h1m11 0h1m9 0h1m3 0h1m1 0h2m2 0h1m3 0h1m11 0h1m-115 1h1m5 0h1m14 0h1m8 0h1m17 0h1m18 0h1m1 0h1m3 0h1m-69 1h1m5 0h1m12 0h1m18 0h1m1 0h1m7 0h1m35 0h1m28 0h1m26 0h1m-120 1h1m15 0h2m4 0h1m2 0h1m4 0h1m6 0h1m9 0h1m6 0h1m1 0h1m8 0h1m9 0h2m7 0h1m-101 1h2m4 0h1m33 0h2m12 0h1m5 0h1m4 0h1m3 0h1m7 0h2m2 0h1m3 0h1m5 0h1m8 0h1m5 0h1m1 0h1m21 0h1m4 0h1m-142 1h1m11 0h1m3 0h1m9 0h1m19 0h2m3 0h1m12 0h1m14 0h1m5 0h1m20 0h1m5 0h1m-103 1h1m3 0h1m5 0h1m4 0h1m5 0h1m18 0h1m18 0h1m15 0h1m9 0h1m10 0h1m5 0h1m-117 1h1m7 0h1m1 0h2m1 0h1m9 0h1m34 0h1m1 0h1m33 0h1m10 0h1m2 0h1m26 0h1m-118 1h1m8 0h1m2 0h1m12 0h1m6 0h1m15 0h1m5 0h1m5 0h1m46 0h1m-114 1h1m4 0h1m12 0h1m3 0h1m9 0h1m16 0h2m5 0h1m17 0h1m3 0h1m21 0h1m-110 1h1m2 0h1m2 0h1m26 0h1m1 0h1m10 0h1m1 0h1m10 0h1m1 0h1m3 0h1m2 0h2m4 0h1m7 0h1m28 0h1m-110 1h1m1 0h1m3 0h1m7 0h1m9 0h1m8 0h1m15 0h1m4 0h1m2 0h2m3 0h1m40 0h1m21 0h1m-122 1h1m8 0h1m13 0h1m9 0h1m41 0h1m9 0h1m2 0h1m7 0h1m2 0h1m31 0h1m-139 1h1m7 0h1m4 0h1m7 0h1m3 0h1m6 0h1m7 0h1m4 0h1m26 0h1m12 0h1m18 0h1m-105 1h1m3 0h1m11 0h1m35 0h1m4 0h1m5 0h1m2 0h1m1 0h1m2 0h1m16 0h1m3 0h1m11 0h1m13 0h1m14 0h1m4 0h1m-141 1h1m2 0h1m13 0h1m8 0h1m3 0h1m3 0h1m9 0h1m9 0h1m2 0h1m13 0h1m3 0h1m20 0h1m17 0h1m-114 1h2m11 0h1m5 0h2m2 0h1m20 0h1m8 0h1m13 0h1m15 0h1m7 0h1m9 0h1m2 0h1m4 0h1m-105 1h1m3 0h1m2 0h1m12 0h1m1 0h1m6 0h1m9 0h1m9 0h1m12 0h1m4 0h5m11 0h1m3 0h1m2 0h1m28 0h1m19 0h1m-144 1h1m1 0h1m8 0h2m2 0h1m8 0h1m9 0h1m1 0h1m6 0h1m22 0h1m5 0h1m1 0h1m6 0h1m13 0h1m16 0h1m25 0h1m-125 1h1m3 0h1m1 0h1m6 0h1m3 0h1m1 0h1m3 0h2m11 0h1m5 0h1m2 0h1m29 0h1m10 0h1m15 0h1m-108 1h2m5 0h1m8 0h1m21 0h1m22 0h1m8 0h1m4 0h1m-52 1h1m4 0h1m5 0h1m8 0h1m5 0h1m1 0h1m16 0h2m6 0h1m3 0h1m6 0h1m-89 1h2m6 0h1m24 0h1m2 0h1m28 0h1m2 0h1m1 0h1m9 0h1m6 0h1m-56 1h1m2 0h1m2 0h1m8 0h1m3 0h1m2 0h1m26 0h1m7 0h1m1 0h1m37 0h1m-132 1h1m23 0h1m7 0h1m2 0h1m12 0h1m7 0h1m3 0h1m6 0h1m19 0h1m3 0h1m-100 1h1m4 0h1m3 0h1m6 0h1m1 0h1m16 0h1m3 0h1m4 0h1m3 0h1m1 0h1m1 0h1m13 0h2m17 0h1m25 0h1m5 0h1m6 0h1m14 0h1m-124 1h1m6 0h1m2 0h1m6 0h2m1 0h1m47 0h1m59 0h1m-103 1h1m4 0h2m10 0h1m6 0h1m24 0h2m10 0h1m1 0h1m18 0h1m4 0h1m19 0h1m-135 1h1m2 0h1m8 0h1m1 0h1m20 0h1m14 0h1m30 0h1m-88 1h1m8 0h1m13 0h1m1 0h1m2 0h1m11 0h3m21 0h1m9 0h1m7 0h2m18 0h1m3 0h1m8 0h1m-119 1h2m9 0h1m12 0h3m10 0h1m14 0h1m7 0h1m2 0h1m5 0h1m11 0h1m3 0h2m2 0h1m9 0h1m18 0h1m-122 1h1m2 0h1m6 0h1m6 0h1m2 0h1m21 0h1m3 0h1m25 0h2m8 0h1m4 0h1m5 0h1m1 0h1m1 0h1m12 0h1m1 0h1m33 0h1m-144 1h1m3 0h1m3 0h1m14 0h1m14 0h1m1 0h1m4 0h1m11 0h1m12 0h1m7 0h1m16 0h1m5 0h1m1 0h1m-90 1h1m11 0h1m5 0h1m3 0h1m25 0h1m6 0h1m4 0h1m10 0h2m11 0h1m8 0h1m3 0h1m-104 1h1m3 0h1m7 0h1m14 0h1m16 0h1m25 0h1m4 0h1m17 0h1m1 0h1m5 0h1m8 0h1m19 0h1m-144 1h1m5 0h1m23 0h1m15 0h2m6 0h1m15 0h1m10 0h1m41 0h1m9 0h1m-128 1h1m7 0h1m12 0h1m14 0h1m10 0h1m7 0h1m2 0h1m4 0h2m5 0h1m5 0h1m27 0h1m3 0h1m18 0h1m-129 1h1m3 0h1m5 0h1m11 0h1m7 0h1m11 0h1m1 0h1m3 0h1m10 0h1m5 0h1m5 0h1m4 0h1m4 0h2m10 0h1m4 0h1m4 0h1m1 0h1m-99 1h1m18 0h1m6 0h1m23 0h1m23 0h2m6 0h1m3 0h1m17 0h1m26 0h1m-144 1h1m19 0h1m12 0h1m30 0h1m10 0h1m3 0h1m23 0h2m18 0h1m-87 1h1m17 0h1m5 0h1m7 0h1m9 0h1m8 0h1m5 0h1m3 0h2m18 0h1m-113 1h1m6 0h1m10 0h1m1 0h1m7 0h1m1 0h1m21 0h1m28 0h1m3 0h1m1 0h1m12 0h1m3 0h1m1 0h1m3 0h1m1 0h1m-114 1h1m26 0h1m9 0h1m11 0h1m18 0h1m6 0h1m5 0h1m2 0h1m7 0h1m-98 1h1m5 0h1m27 0h1m47 0h1m19 0h1m7 0h1m-101 1h1m10 0h1m2 0h2m17 0h1m20 0h1m14 0h1m4 0h1m17 0h1m3 0h1m5 0h1m10 0h1m-125 1h1m2 0h1m3 0h2m3 0h2m5 0h1m10 0h1m13 0h2m18 0h2m10 0h1m11 0h1m3 0h1m14 0h1m1 0h1m9 0h1m-113 1h1m2 0h2m16 0h1m45 0h1m16 0h1m5 0h1m46 0h1m4 0h1m-151 1h1m11 0h1m31 0h1m4 0h1m2 0h1m1 0h1m3 0h1m13 0h1m6 0h2m16 0h1m1 0h1m30 0h1m-131 1h1m7 0h1m3 0h1m14 0h1m2 0h3m33 0h1m1 0h1m15 0h2m7 0h1m2 0h1m13 0h1m19 0h1m-131 1h1m10 0h1m15 0h2m1 0h4m25 0h1m2 0h1m7 0h1m17 0h1m2 0h1m11 0h1m-48 1h1m2 0h1m20 0h1m5 0h1m1 0h1m4 0h1m10 0h1m15 0h1m9 0h1m14 0h1m-144 1h1m4 0h1m7 0h1m1 0h1m32 0h1m6 0h1m4 0h1m14 0h1m7 0h1m16 0h1m5 0h1m41 0h1m-151 1h1m8 0h1m1 0h1m1 0h1m11 0h1m5 0h1m3 0h2m4 0h1m38 0h2m3 0h1m3 0h1m15 0h1m2 0h1m-109 1h1m5 0h1m9 0h1m19 0h1m15 0h1m1 0h1m2 0h1m7 0h1m1 0h1m8 0h1m3 0h1m25 0h1m-102 1h1m16 0h1m5 0h1m8 0h1m4 0h1m1 0h1m37 0h1m16 0h1m20 0h1m-90 1h1m17 0h2m4 0h1m4 0h1m15 0h1m11 0h1m4 0h1m8 0h1m5 0h1m26 0h1m-122 1h1m22 0h1m21 0h2m5 0h1m2 0h1m9 0h1m25 0h2m7 0h1m15 0h1m-131 1h1m5 0h1m8 0h1m1 0h1m21 0h1m1 0h1m7 0h1m6 0h1m4 0h1m10 0h1m1 0h1m15 0h1m13 0h1m1 0h1m43 0h1m-144 1h1m4 0h1m9 0h1m16 0h1m8 0h1m18 0h1m17 0h1m10 0h2m2 0h2m1 0h1m-104 1h1m1 0h1m2 0h1m5 0h1m5 0h1m8 0h1m35 0h1m1 0h1m17 0h1m2 0h1m3 0h1m3 0h1m1 0h1m24 0h1m9 0h1m-131 1h1m2 0h1m13 0h1m3 0h1m16 0h2m1 0h1m19 0h1m7 0h1m18 0h1m1 0h1m4 0h1m9 0h1m4 0h1m-101 1h1m2 0h1m5 0h1m20 0h1m10 0h1m12 0h1m11 0h1m6 0h1m6 0h1m9 0h1m3 0h1m5 0h1m5 0h1m33 0h1m-132 1h3m17 0h1m4 0h1m24 0h2m9 0h1m7 0h1m8 0h1m16 0h1m25 0h1m-138 1h1m17 0h1m7 0h1m5 0h1m2 0h1m1 0h1m2 0h1m2 0h1m1 0h1m11 0h1m9 0h1m5 0h2m22 0h1m2 0h1m2 0h1m43 0h1m-148 1h1m7 0h1m24 0h1m11 0h1m4 0h1m12 0h1m3 0h1m10 0h1m10 0h2m9 0h1m6 0h1m24 0h1m-136 1h1m2 0h2m19 0h1m24 0h1m16 0h1m15 0h1m9 0h1m6 0h1m1 0h2m9 0h1m1 0h1m-107 1h1m7 0h1m32 0h1m6 0h1m13 0h1m3 0h1m12 0h1m32 0h1m14 0h1m-118 1h1m18 0h1m2 0h1m37 0h1m14 0h1m22 0h1m28 0h1m-142 1h1m4 0h1m8 0h1m3 0h1m3 0h1m6 0h1m18 0h1m4 0h1m10 0h1m2 0h1m7 0h1m15 0h1m5 0h1m16 0h1m-108 1h2m24 0h1m26 0h1m1 0h1m5 0h1m6 0h2m2 0h2m7 0h2m11 0h1m34 0h1m-133 1h1m1 0h3m2 0h3m1 0h1m12 0h1m2 0h3m5 0h1m12 0h1m1 0h1m3 0h1m23 0h1m2 0h1m7 0h1m27 0h1m24 0h1m-150 1h1m19 0h1m5 0h1m35 0h1m9 0h1m6 0h1m33 0h1m-109 1h1m8 0h2m24 0h1m33 0h1m24 0h2m12 0h1m5 0h1m24 0h1m-134 1h1m19 0h1m1 0h1m2 0h1m13 0h1m8 0h1m4 0h2m3 0h2m14 0h1m7 0h1m19 0h1m1 0h1m-117 1h1m9 0h1m2 0h1m3 0h1m1 0h1m1 0h1m1 0h1m2 0h3m6 0h1m3 0h1m1 0h2m14 0h1m6 0h1m13 0h1m25 0h1m20 0h1m14 0h1m-139 1h1m4 0h2m1 0h1m11 0h1m1 0h1m2 0h1m2 0h1m11 0h1m7 0h1m2 0h1m6 0h2m3 0h2m13 0h1m20 0h1m1 0h1m2 0h1m9 0h1m13 0h1m9 0h1m-123 1h1m3 0h1m9 0h1m12 0h1m9 0h1m4 0h1m3 0h2m24 0h1m6 0h1m1 0h1m5 0h1m14 0h1m29 0h1m-139 1h1m4 0h1m2 0h1m20 0h1m4 0h1m5 0h1m19 0h2m9 0h1m6 0h1m6 0h1m2 0h1m2 0h2m5 0h1m7 0h1m31 0h1m-131 1h1m9 0h1m5 0h1m8 0h1m7 0h1m12 0h1m3 0h1m10 0h1m4 0h1m2 0h2m2 0h2m9 0h1m-78 1h1m26 0h1m21 0h1m5 0h1m5 0h1m25 0h1m20 0h1m-131 1h1m6 0h1m8 0h1m18 0h1m3 0h1m5 0h1m7 0h1m11 0h1m19 0h3m5 0h1m1 0h1m1 0h2m-98 1h1m8 0h1m3 0h1m26 0h1m2 0h1m7 0h1m7 0h1m2 0h1m14 0h1m6 0h1m4 0h1m6 0h1m-95 1h1m9 0h1m22 0h1m17 0h1m10 0h1m6 0h1m1 0h1m13 0h1m14 0h1m21 0h1m-130 1h1m5 0h1m8 0h1m6 0h1m16 0h1m28 0h1m10 0h1m8 0h1m7 0h1m10 0h1m3 0h1m-103 1h1m11 0h1m9 0h1m3 0h1m3 0h1m4 0h1m7 0h1m6 0h1m17 0h1m1 0h2m5 0h1m3 0h1m7 0h1m1 0h1m16 0h1m-118 1h1m4 0h1m9 0h1m15 0h1m4 0h1m25 0h1m2 0h1m4 0h1m10 0h1m1 0h1m1 0h1m4 0h1m18 0h1m1 0h1m17 0h1m14 0h1m-92 1h1m24 0h1m1 0h1m3 0h1m5 0h1m2 0h1m17 0h1m17 0h1m9 0h1m4 0h1m-117 1h1m5 0h1m13 0h1m4 0h1m1 0h1m2 0h1m6 0h1m1 0h1m5 0h1m11 0h2m9 0h1m-94 1h1m14 0h1m3 0h1m2 0h1m3 0h1m4 0h1m5 0h1m14 0h1m5 0h2m22 0h1m21 0h1m11 0h1m-120 1h1m16 0h1m11 0h1m2 0h3m6 0h1m1 0h1m2 0h1m15 0h1m19 0h2m6 0h1m20 0h1m1 0h1m-107 1h1m2 0h1m1 0h1m6 0h1m12 0h1m3 0h1m6 0h1m3 0h1m9 0h1m29 0h1m13 0h1m2 0h1m-91 1h1m8 0h1m10 0h1m53 0h2m4 0h1m8 0h2m-102 1h1m2 0h1m9 0h1m14 0h1m3 0h1m6 0h1m17 0h2m5 0h1m2 0h1m5 0h1m4 0h2m9 0h1m10 0h1m-96 1h1m4 0h1m6 0h1m8 0h1m14 0h2m6 0h1m15 0h1m7 0h2m23 0h1m11 0h1m3 0h1m11 0h1m-131 1h1m26 0h1m3 0h1m19 0h1m21 0h1m18 0h1m6 0h1m4 0h1m9 0h1m10 0h1m-124 1h1m1 0h1m2 0h1m11 0h1m17 0h1m12 0h1m17 0h1m6 0h1m14 0h1m10 0h1m23 0h1m-119 1h1m4 0h1m5 0h1m1 0h2m4 0h1m6 0h1m33 0h1m1 0h1m1 0h1m1 0h1m-68 1h1m5 0h1m1 0h3m12 0h1m24 0h1m13 0h1m8 0h1m4 0h1m2 0h1m8 0h1m15 0h1m-107 1h1m2 0h1m3 0h1m7 0h1m1 0h1m6 0h1m13 0h2m4 0h1m4 0h1m29 0h1m5 0h1m5 0h2m17 0h1m-110 1h1m1 0h1m11 0h1m12 0h2m19 0h2m32 0h1m1 0h1m12 0h1m5 0h1m21 0h1m-131 1h1m2 0h1m19 0h1m11 0h1m24 0h2m5 0h2m4 0h1m16 0h1m2 0h1m3 0h1m1 0h1m1 0h1m6 0h1m1 0h1m5 0h1m-107 1h1m14 0h1m23 0h1m13 0h1m8 0h1m3 0h2m17 0h1m7 0h1m6 0h1m3 0h1m10 0h1m-119 1h1m8 0h3m3 0h1m1 0h1m4 0h1m8 0h1m36 0h1m25 0h1m-102 1h1m1 0h1m3 0h1m8 0h2m3 0h3m3 0h1m9 0h1m11 0h1m15 0h1m5 0h1m19 0h1m9 0h1m1 0h3m1 0h1m23 0h1m-131 1h2m14 0h1m2 0h1m21 0h1m3 0h1m45 0h1m10 0h1m47 0h1m-147 1h2m4 0h1m29 0h1m1 0h1m7 0h1m2 0h1m28 0h1m4 0h1m18 0h1m18 0h1m19 0h1m-125 1h1m9 0h1m8 0h1m9 0h1m26 0h1m6 0h1m2 0h1m16 0h1m-105 1h1m9 0h1m8 0h1m14 0h1m35 0h1m2 0h1m13 0h1m12 0h1m11 0h1m5 0h1m1 0h1m9 0h1m-130 1h1m1 0h2m1 0h1m17 0h1m16 0h1m1 0h1m14 0h1m36 0h1m12 0h1m31 0h1m-139 1h1m21 0h1m13 0h2m5 0h1m1 0h1m6 0h1m32 0h1m8 0h1m28 0h1m-126 1h1m10 0h1m1 0h1m19 0h1m26 0h1m5 0h1m2 0h1m14 0h1m2 0h1m2 0h1m49 0h1m4 0h1m-146 1h1m2 0h1m4 0h1m17 0h1m8 0h1m6 0h3m5 0h1m1 0h1m4 0h1m5 0h1m32 0h1m5 0h1m-86 1h1m14 0h1m15 0h1m16 0h3m2 0h1m2 0h1m3 0h1m1 0h1m1 0h2m-79 1h1m16 0h1m1 0h1m18 0h1m13 0h1m7 0h1m1 0h1m23 0h1m-91 1h1m18 0h1m3 0h1m15 0h1m14 0h1m-53 1h1m7 0h1m12 0h1m5 0h1m7 0h1m17 0h1m18 0h1m37 0h1m27 0h1m9 0h1m-145 1h1m14 0h1m2 0h1m11 0h1m1 0h1m10 0h2m6 0h2m4 0h1m14 0h1m3 0h1m20 0h1m26 0h1m4 0h1m4 0h1m9 0h1m-143 1h1m2 0h1m10 0h1m3 0h1m2 0h1m1 0h1m20 0h1m9 0h1m7 0h2m2 0h1m5 0h1m2 0h1m7 0h1m4 0h2m20 0h1m-114 1h1m3 0h2m19 0h1m34 0h2m3 0h2m8 0h2m10 0h1m7 0h1m5 0h1m9 0h1m-117 1h1m11 0h1m14 0h1m8 0h1m1 0h1m11 0h1m14 0h1m1 0h1m3 0h1m6 0h1m13 0h1m19 0h1m1 0h1m3 0h1m16 0h1m14 0h1m-149 1h1m4 0h2m7 0h1m3 0h1m4 0h1m1 0h2m6 0h1m3 0h1m5 0h1m11 0h1m14 0h1m5 0h1m41 0h1m-110 1h2m20 0h1m4 0h1m9 0h1m18 0h1m13 0h1m4 0h1m6 0h1m10 0h1m5 0h1m19 0h1m-129 1h1m22 0h1m27 0h1m6 0h1m4 0h1m1 0h1m1 0h1m4 0h1m5 0h1m6 0h1m32 0h1m-111 1h2m5 0h1m12 0h1m12 0h1m31 0h1m10 0h1m4 0h1m11 0h1m1 0h1m24 0h1m-124 1h1m26 0h1m5 0h1m2 0h1m29 0h1m19 0h1m3 0h2m-96 1h1m1 0h1m20 0h2m3 0h1m9 0h1m3 0h2m3 0h1m6 0h1m1 0h1m2 0h1m3 0h1m5 0h1m5 0h1m14 0h1m1 0h1m6 0h1m27 0h1m-121 1h1m1 0h1m5 0h1m2 0h1m9 0h1m4 0h1m2 0h1m7 0h1m3 0h1m4 0h1m26 0h1m5 0h1m11 0h1m16 0h1m16 0h1m-136 1h1m2 0h1m12 0h1m1 0h1m17 0h1m1 0h3m2 0h1m7 0h1m11 0h1m2 0h1m2 0h2m3 0h1m11 0h1m5 0h1m10 0h1m46 0h1m-147 1h1m13 0h1m31 0h1m5 0h1m12 0h1m5 0h1m6 0h1m13 0h2m3 0h2m1 0h1m-93 1h2m8 0h1m24 0h1m11 0h1m4 0h1m13 0h1m15 0h1m7 0h1m9 0h1m3 0h1m-95 1h1m5 0h1m3 0h1m6 0h1m7 0h1m5 0h1m21 0h1m12 0h1m41 0h1m4 0h1m-135 1h1m25 0h1m12 0h1m2 0h1m5 0h1m7 0h1m5 0h1m10 0h1m1 0h1m1 0h1m14 0h2m6 0h2m11 0h1m-113 1h1m8 0h1m4 0h2m15 0h1m6 0h1m3 0h2m2 0h1m6 0h1m6 0h1m17 0h1m6 0h1m6 0h1m5 0h2m16 0h1m6 0h1m-126 1h1m3 0h1m3 0h1m2 0h1m41 0h1m21 0h1m1 0h1m9 0h1m3 0h1m2 0h1m5 0h1m11 0h1m-102 1h1m8 0h1m2 0h1m10 0h1m2 0h2m9 0h1m13 0h1m2 0h1m19 0h1m2 0h4m16 0h1m21 0h1m-125 1h1m11 0h1m5 0h1m22 0h1m2 0h3m1 0h1m6 0h1m3 0h1m2 0h1m1 0h1m8 0h1m2 0h1m5 0h1m2 0h1m1 0h1m-94 1h1m2 0h1m10 0h1m15 0h1m11 0h1m7 0h1m5 0h1m29 0h3m11 0h1m1 0h1m9 0h1m-113 1h1m25 0h1m7 0h1m4 0h1m3 0h1m9 0h1m12 0h1m3 0h1m1 0h1m9 0h1m2 0h1m2 0h1m9 0h1m5 0h2m6 0h1m-112 1h1m11 0h1m13 0h1m1 0h1m4 0h1m4 0h1m3 0h1m13 0h1m6 0h1m8 0h1m7 0h1m43 0h1m-125 1h1m2 0h1m2 0h1m2 0h1m5 0h1m24 0h1m13 0h1m29 0h1m4 0h1m1 0h1m4 0h1m1 0h1m12 0h1m3 0h1m-114 1h1m6 0h3m11 0h2m12 0h1m16 0h2m5 0h1m2 0h1m7 0h1m3 0h2m21 0h1m34 0h1m9 0h1m-143 1h1m3 0h1m3 0h3m7 0h1m2 0h1m3 0h2m18 0h1m8 0h1m6 0h1m16 0h1m16 0h1m7 0h1m9 0h1m23 0h1m4 0h1m-142 1h1m2 0h1m2 0h1m1 0h1m12 0h1m1 0h1m5 0h1m1 0h1m8 0h1m14 0h1m13 0h2m14 0h1m3 0h1m11 0h2m1 0h1m41 0h1m-143 1h1m6 0h1m5 0h1m3 0h1m24 0h1m17 0h1m1 0h1m2 0h1m2 0h1m9 0h2m52 0h1m4 0h1m-138 1h1m45 0h1m12 0h1m13 0h1m3 0h1m1 0h1m1 0h1m8 0h1m13 0h1m5 0h1m-119 1h1m2 0h2m2 0h1m19 0h1m1 0h1m3 0h1m6 0h2m12 0h1m7 0h1m1 0h1m13 0h1m15 0h2m49 0h1m-146 1h1m14 0h1m3 0h1m14 0h1m12 0h1m2 0h1m7 0h1m5 0h1m7 0h1m2 0h1m28 0h1m13 0h1m11 0h1m-120 1h1m9 0h1m14 0h2m23 0h1m2 0h1m9 0h1m5 0h1m-61 1h1m5 0h1m8 0h1m4 0h1m2 0h1m3 0h1m1 0h1m14 0h1m7 0h1m5 0h1m6 0h2m4 0h1m2 0h1m3 0h1m13 0h1m17 0h1m-124 1h1m4 0h1m1 0h1m13 0h1m8 0h1m10 0h1m2 0h1m2 0h1m2 0h1m5 0h1m2 0h1m2 0h1m12 0h1m2 0h1m7 0h1m3 0h1m5 0h1m2 0h1m11 0h1m-114 1h1m26 0h1m4 0h1m10 0h2m35 0h2m2 0h1m10 0h1m2 0h1m8 0h1m3 0h1m-116 1h1m3 0h1m28 0h1m9 0h1m4 0h1m29 0h1m5 0h1m7 0h1m1 0h1m-93 1h1m30 0h1m7 0h1m13 0h1m18 0h1m2 0h1m6 0h1m2 0h1m13 0h1m27 0h1m-128 1h1m7 0h1m16 0h1m11 0h1m3 0h1m5 0h1m8 0h2m4 0h1m3 0h1m10 0h1m2 0h1m30 0h1m-114 1h1m5 0h1m11 0h1m3 0h1m4 0h2m17 0h1m1 0h1m19 0h1m5 0h2m2 0h1m11 0h1m5 0h2m3 0h2m16 0h1m9 0h1m14 0h1m-146 1h1m5 0h1m2 0h1m20 0h1m9 0h1m20 0h1m14 0h1m1 0h1m24 0h1m10 0h1m25 0h1m9 0h1m-127 1h1m25 0h1m12 0h1m18 0h1m5 0h1m6 0h1m1 0h2m11 0h1m-109 1h1m1 0h1m2 0h1m14 0h1m8 0h1m5 0h2m4 0h1m2 0h1m7 0h2m15 0h1m42 0h1m3 0h1m6 0h1m-116 1h1m15 0h1m9 0h1m8 0h1m13 0h1m5 0h1m1 0h1m9 0h1m5 0h1m8 0h1m1 0h1m-95 1h1m19 0h2m16 0h1m18 0h2m6 0h1m15 0h1m12 0h1m1 0h1m5 0h1m5 0h1m1 0h1m19 0h1m-127 1h1m9 0h1m6 0h1m21 0h1m15 0h1m4 0h2m1 0h1m19 0h1m10 0h1m5 0h2m2 0h1m1 0h1m-111 1h2m4 0h1m7 0h1m12 0h1m17 0h1m11 0h1m5 0h1m8 0h1m1 0h1m1 0h1m5 0h1m5 0h2m5 0h1m12 0h1m-96 1h1m14 0h1m5 0h1m11 0h1m12 0h2m6 0h1m-67 1h1m6 0h1m21 0h1m2 0h1m7 0h1m2 0h1m14 0h1m24 0h1m29 0h1m1 0h1m3 0h1m4 0h1m-125 1h1m5 0h2m4 0h1m12 0h1m1 0h1m5 0h1m14 0h1m1 0h1m8 0h2m1 0h1m11 0h1m16 0h1m6 0h1m12 0h1m1 0h1m-99 1h1m7 0h1m64 0h1m6 0h1m3 0h1m39 0h1m-134 1h1m1 0h1m5 0h1m9 0h1m1 0h1m5 0h1m9 0h1m18 0h1m3 0h2m9 0h1m7 0h1m4 0h1m1 0h1m1 0h1m-95 1h1m2 0h1m11 0h1m5 0h1m4 0h1m14 0h1m5 0h1m12 0h1m10 0h1m6 0h1m10 0h1m4 0h1m2 0h1m3 0h1m4 0h1m28 0h1m-136 1h1m13 0h1m2 0h1m13 0h1m13 0h1m5 0h1m5 0h1m23 0h1m5 0h2m29 0h1m11 0h1m-128 1h1m1 0h1m1 0h1m12 0h1m2 0h1m12 0h1m2 0h1m3 0h2m2 0h1m9 0h1m3 0h1m7 0h1m8 0h1m4 0h1m1 0h2m4 0h1m-75 1h1m8 0h1m1 0h1m16 0h1m15 0h1m10 0h1m20 0h1m3 0h1m3 0h1m12 0h1m30 0h1m-136 1h2m7 0h1m11 0h1m21 0h1m1 0h1m4 0h1m15 0h1m4 0h1m6 0h1m5 0h1m25 0h1m4 0h1m-121 1h1m14 0h1m6 0h1m1 0h1m15 0h1m9 0h1m7 0h1m2 0h1m1 0h1m5 0h1m11 0h1m14 0h1m3 0h1m12 0h1m1 0h1m-117 1h1m4 0h1m7 0h1m13 0h1m4 0h1m12 0h1m13 0h1m6 0h1m5 0h1m4 0h1m3 0h1m1 0h1m7 0h1m5 0h1m3 0h1m-104 1h1m17 0h1m1 0h1m3 0h1m6 0h1m1 0h1m13 0h1m7 0h1m6 0h2m4 0h1m1 0h1m26 0h1m4 0h1m25 0h1"/>
<path stroke="#481a6c" d="M63 2h1m71 11h1m-109 2h1m5 0h1m19 1h1m86 0h1m-108 2h1m28 1h1m72 1h1m-46 1h1m49 1h1m-95 1h1m43 0h1m-27 3h1m13 0h1m41 0h1m19 0h1m-115 1h1m81 0h1m1 0h1m1 0h1m3 0h1m1 0h1m26 0h1m4 0h1m-138 1h1m20 0h1m7 0h1m3 0h1m5 0h1m8 0h1m6 0h1m15 0h1m4 0h2m3 0h2m1 0h1m1 0h1m1 0h1m-76 1h1m37 0h1m13 0h1m2 0h1m12 0h2m12 0h1m11 0h1m19 0h1m-133 1h1m13 0h1m32 0h1m4 0h1m7 0h1m4 0h1m9 0h1m1 0h1m10 0h2m16 0h1m1 0h1m13 0h1m-97 1h1m6 0h1m6 0h1m2 0h1m2 0h1m4 0h1m7 0h1m4 0h1m15 0h1m10 0h2m19 0h1m-114 1h1m14 0h1m4 0h1m2 0h1m11 0h1m7 0h1m22 0h1m2 0h1m5 0h1m9 0h1m15 0h1m-97 1h1m14 0h3m1 0h2m3 0h1m29 0h1m19 0h2m4 0h2m3 0h2m11 0h1m19 0h1m9 0h1m-140 1h1m3 0h3m3 0h1m12 0h1m9 0h1m5 0h1m8 0h2m1 0h1m4 0h1m3 0h1m4 0h2m1 0h1m2 0h1m8 0h1m6 0h1m3 0h2m1 0h1m14 0h1m3 0h1m-115 1h1m18 0h1m20 0h1m13 0h1m7 0h1m11 0h1m14 0h1m2 0h1m-86 1h1m12 0h1m9 0h1m7 0h1m1 0h1m11 0h1m2 0h1m45 0h3m8 0h1m-108 1h1m1 0h1m12 0h3m14 0h1m4 0h1m8 0h1m1 0h1m13 0h1m25 0h2m4 0h1m30 0h1m-128 1h1m14 0h1m33 0h1m51 0h1m1 0h1m38 0h1m-127 1h1m2 0h1m9 0h1m4 0h1m9 0h1m4 0h1m18 0h1m11 0h2m4 0h1m-83 1h1m3 0h2m5 0h1m5 0h1m1 0h1m9 0h2m1 0h1m10 0h1m18 0h1m22 0h1m4 0h1m2 0h1m39 0h1m-134 1h1m2 0h1m4 0h1m6 0h1m7 0h2m15 0h1m4 0h1m19 0h3m7 0h1m4 0h1m5 0h1m51 0h1m-144 1h3m8 0h1m2 0h1m13 0h1m2 0h1m7 0h1m26 0h1m1 0h1m16 0h1m28 0h1m3 0h1m4 0h1m-118 1h1m6 0h1m2 0h1m12 0h1m14 0h1m13 0h1m5 0h1m2 0h2m9 0h1m6 0h1m-80 1h1m1 0h1m23 0h1m10 0h1m19 0h1m4 0h1m2 0h1m7 0h1m4 0h1m4 0h2m11 0h1m7 0h1m12 0h1m9 0h1m4 0h1m-128 1h2m2 0h1m10 0h2m13 0h1m18 0h1m12 0h1m3 0h1m5 0h1m1 0h1m4 0h1m-92 1h1m4 0h2m3 0h1m10 0h1m13 0h1m8 0h1m7 0h1m3 0h2m2 0h1m1 0h1m3 0h1m11 0h1m8 0h1m1 0h1m12 0h1m-88 1h1m10 0h2m3 0h1m13 0h1m16 0h1m7 0h1m4 0h1m15 0h1m9 0h1m5 0h1m1 0h1m-98 1h1m14 0h1m21 0h1m5 0h1m11 0h1m3 0h1m18 0h1m38 0h1m4 0h1m-119 1h1m1 0h2m13 0h1m6 0h1m3 0h1m2 0h1m28 0h2m3 0h1m3 0h1m1 0h1m4 0h1m3 0h1m12 0h1m-111 1h1m1 0h1m3 0h2m7 0h1m10 0h1m6 0h1m4 0h1m1 0h1m24 0h1m2 0h1m2 0h1m20 0h1m1 0h1m4 0h1m1 0h1m6 0h1m21 0h1m-113 1h1m4 0h2m15 0h1m6 0h1m6 0h1m49 0h1m-98 1h3m7 0h1m3 0h1m5 0h2m13 0h4m26 0h2m8 0h1m23 0h1m1 0h1m-106 1h1m3 0h1m5 0h1m11 0h1m5 0h1m8 0h1m2 0h2m2 0h1m1 0h1m1 0h1m16 0h1m17 0h1m1 0h2m9 0h1m2 0h1m1 0h1m-97 1h1m4 0h1m20 0h1m1 0h1m2 0h2m3 0h1m6 0h1m7 0h2m12 0h1m5 0h1m2 0h1m3 0h1m2 0h1m16 0h1m-104 1h1m14 0h1m47 0h1m2 0h1m17 0h1m22 0h1m-111 1h1m9 0h1m8 0h1m3 0h1m12 0h1m13 0h2m8 0h1m12 0h1m5 0h1m13 0h1m24 0h1m1 0h1m-119 1h1m3 0h1m5 0h1m4 0h1m13 0h1m10 0h1m8 0h2m6 0h1m7 0h1m6 0h1m9 0h1m4 0h2m-89 1h1m15 0h1m1 0h1m9 0h1m5 0h1m5 0h1m1 0h1m4 0h1m2 0h1m12 0h1m4 0h1m6 0h2m2 0h1m7 0h1m2 0h1m1 0h1m30 0h1m24 0h1m-150 1h2m5 0h1m6 0h4m3 0h1m59 0h1m3 0h2m14 0h1m9 0h1m3 0h1m13 0h1m-124 1h1m1 0h1m5 0h2m1 0h1m13 0h1m1 0h1m10 0h1m1 0h1m27 0h1m5 0h1m12 0h1m4 0h1m-99 1h1m3 0h1m4 0h2m3 0h2m23 0h1m15 0h1m10 0h1m26 0h1m7 0h1m7 0h1m1 0h1m1 0h1m25 0h1m4 0h1m-143 1h1m1 0h1m2 0h1m7 0h1m10 0h1m1 0h1m1 0h1m4 0h1m11 0h1m13 0h1m2 0h2m11 0h1m3 0h3m7 0h2m36 0h1m4 0h1m-136 1h1m5 0h1m5 0h1m7 0h2m7 0h2m3 0h1m4 0h1m7 0h1m18 0h1m16 0h2m2 0h1m20 0h1m-107 1h1m9 0h1m7 0h1m13 0h1m10 0h1m9 0h1m1 0h1m3 0h1m15 0h1m2 0h1m7 0h2m4 0h1m21 0h1m3 0h1m-107 1h1m2 0h2m8 0h1m7 0h1m1 0h1m18 0h1m10 0h1m20 0h2m2 0h1m1 0h2m2 0h1m26 0h1m4 0h1m-130 1h1m14 0h1m10 0h1m8 0h2m1 0h2m5 0h1m13 0h1m1 0h1m3 0h1m2 0h1m8 0h1m12 0h1m5 0h1m1 0h1m2 0h1m32 0h1m9 0h1m-132 1h1m3 0h1m2 0h1m1 0h1m4 0h1m17 0h1m5 0h1m2 0h1m6 0h1m2 0h1m1 0h1m38 0h1m5 0h1m27 0h1m9 0h1m-137 1h1m6 0h1m18 0h1m4 0h1m2 0h1m2 0h1m1 0h1m2 0h1m31 0h1m23 0h1m7 0h1m9 0h1m9 0h1m4 0h1m-146 1h1m2 0h1m13 0h1m23 0h1m6 0h1m3 0h2m4 0h1m8 0h1m33 0h2m1 0h1m30 0h1m-134 1h3m9 0h1m7 0h1m26 0h1m11 0h1m3 0h1m1 0h1m5 0h1m7 0h1m13 0h1m18 0h1m5 0h1m-117 1h1m13 0h1m4 0h1m1 0h1m3 0h1m1 0h1m10 0h1m4 0h1m7 0h1m3 0h2m12 0h1m14 0h1m9 0h1m36 0h1m-136 1h1m2 0h1m7 0h1m1 0h1m3 0h1m1 0h1m3 0h2m10 0h1m2 0h1m15 0h2m11 0h1m3 0h1m18 0h1m44 0h1m4 0h1m-136 1h1m15 0h1m1 0h1m6 0h1m5 0h1m5 0h1m10 0h1m2 0h1m1 0h1m5 0h2m3 0h1m3 0h1m5 0h1m2 0h1m18 0h1m3 0h1m2 0h1m5 0h1m-115 1h1m6 0h1m5 0h1m4 0h1m12 0h1m5 0h1m2 0h1m3 0h1m2 0h1m7 0h1m1 0h1m3 0h2m4 0h1m13 0h3m12 0h1m4 0h2m11 0h1m1 0h1m28 0h1m-135 1h1m2 0h3m8 0h1m2 0h1m7 0h1m5 0h1m2 0h1m6 0h1m6 0h1m6 0h1m1 0h1m11 0h1m5 0h1m13 0h1m7 0h1m11 0h1m29 0h1m-139 1h1m35 0h1m1 0h1m8 0h1m7 0h1m8 0h1m7 0h1m6 0h2m2 0h1m10 0h1m23 0h1m9 0h1m4 0h1m-140 1h1m5 0h1m26 0h1m18 0h1m18 0h1m4 0h1m15 0h1m5 0h1m1 0h1m3 0h1m3 0h1m5 0h1m-98 1h1m7 0h1m17 0h1m11 0h2m8 0h1m5 0h1m4 0h1m29 0h1m32 0h1m-129 1h1m7 0h1m28 0h1m15 0h2m2 0h1m4 0h1m3 0h1m11 0h1m8 0h1m1 0h1m-106 1h1m8 0h2m5 0h1m8 0h1m6 0h1m6 0h1m1 0h1m2 0h1m6 0h3m14 0h1m4 0h1m9 0h1m16 0h1m28 0h1m4 0h1m-123 1h1m15 0h1m41 0h1m4 0h2m8 0h1m3 0h1m5 0h1m6 0h1m1 0h1m24 0h1m14 0h1m4 0h1m-151 1h2m9 0h1m6 0h1m28 0h1m11 0h1m11 0h1m1 0h1m2 0h1m2 0h1m5 0h1m1 0h2m13 0h1m1 0h1m-94 1h1m4 0h1m2 0h1m15 0h1m4 0h1m2 0h1m4 0h1m1 0h1m1 0h1m7 0h1m9 0h2m28 0h1m4 0h2m5 0h1m-104 1h1m3 0h2m3 0h1m3 0h1m5 0h1m12 0h1m2 0h1m14 0h1m4 0h1m8 0h1m2 0h1m3 0h1m69 0h1m-150 1h1m1 0h1m7 0h1m8 0h1m19 0h1m3 0h1m3 0h1m2 0h1m2 0h1m11 0h1m10 0h1m5 0h1m1 0h1m3 0h1m20 0h1m5 0h1m23 0h1m4 0h1m-126 1h1m6 0h1m9 0h1m10 0h1m8 0h1m8 0h1m2 0h1m1 0h1m3 0h1m32 0h1m36 0h1m-145 1h2m2 0h1m7 0h2m1 0h1m7 0h1m3 0h1m6 0h1m2 0h1m1 0h1m21 0h1m4 0h1m19 0h1m10 0h1m19 0h1m21 0h1m-140 1h1m2 0h1m11 0h1m9 0h1m8 0h1m12 0h1m41 0h1m6 0h1m4 0h1m32 0h1m-129 1h1m6 0h1m1 0h1m9 0h1m4 0h1m18 0h1m3 0h1m1 0h2m5 0h1m9 0h2m10 0h2m1 0h1m3 0h1m-91 1h1m10 0h1m5 0h1m8 0h1m29 0h1m4 0h1m3 0h1m9 0h1m2 0h1m7 0h1m56 0h1m-141 1h1m11 0h1m4 0h1m8 0h1m15 0h1m5 0h1m1 0h1m12 0h2m6 0h1m13 0h1m21 0h1m-109 1h1m1 0h1m2 0h1m1 0h1m1 0h1m12 0h1m38 0h1m5 0h1m17 0h1m9 0h1m-76 1h1m12 0h1m2 0h1m34 0h1m10 0h1m11 0h1m2 0h1m14 0h1m-116 1h1m5 0h1m6 0h1m2 0h2m2 0h1m4 0h1m8 0h2m3 0h1m20 0h1m9 0h1m4 0h1m6 0h1m13 0h1m32 0h1m-108 1h1m2 0h1m1 0h1m2 0h1m4 0h1m3 0h1m7 0h1m3 0h2m5 0h1m4 0h2m7 0h1m4 0h1m9 0h1m2 0h1m3 0h1m8 0h1m9 0h1m3 0h1m1 0h1m14 0h1m-136 1h1m15 0h1m3 0h1m8 0h2m3 0h1m27 0h1m25 0h1m1 0h1m7 0h1m4 0h1m2 0h1m7 0h1m1 0h1m18 0h1m-136 1h1m2 0h1m1 0h1m5 0h2m2 0h1m3 0h1m3 0h1m10 0h1m7 0h1m20 0h1m9 0h1m2 0h1m1 0h1m25 0h1m7 0h1m32 0h1m-146 1h1m16 0h1m5 0h1m16 0h1m4 0h1m4 0h1m3 0h1m22 0h1m14 0h2m4 0h1m5 0h1m25 0h1m9 0h1m-140 1h1m13 0h1m10 0h1m11 0h2m1 0h2m19 0h1m5 0h1m3 0h1m2 0h1m9 0h1m8 0h1m2 0h1m16 0h1m25 0h1m-140 1h1m10 0h1m6 0h1m4 0h1m15 0h1m19 0h1m2 0h1m6 0h2m5 0h1m3 0h1m2 0h1m5 0h1m5 0h1m4 0h1m14 0h1m-109 1h1m2 0h1m7 0h2m1 0h1m1 0h1m12 0h1m25 0h1m16 0h1m4 0h1m9 0h1m7 0h1m1 0h2m5 0h1m7 0h1m-120 1h1m25 0h1m40 0h1m7 0h1m5 0h1m3 0h1m-82 1h1m3 0h1m1 0h2m1 0h1m6 0h1m7 0h1m8 0h1m9 0h1m6 0h1m8 0h1m1 0h1m7 0h1m2 0h1m5 0h1m7 0h1m28 0h1m4 0h1m-119 1h2m1 0h1m3 0h2m17 0h1m4 0h1m5 0h1m10 0h1m11 0h1m10 0h1m13 0h1m2 0h1m12 0h1m-109 1h2m13 0h1m1 0h2m6 0h1m12 0h1m20 0h1m7 0h1m1 0h1m6 0h2m1 0h1m10 0h1m9 0h2m-100 1h1m7 0h1m4 0h1m5 0h2m3 0h1m6 0h1m5 0h1m1 0h1m20 0h1m5 0h1m1 0h1m3 0h1m12 0h1m16 0h1m13 0h1m-99 1h1m3 0h1m3 0h1m3 0h1m2 0h1m5 0h1m13 0h1m3 0h1m3 0h1m8 0h1m1 0h1m4 0h1m4 0h2m9 0h1m-96 1h1m5 0h1m3 0h3m7 0h1m12 0h1m1 0h1m2 0h1m4 0h1m6 0h1m7 0h1m1 0h1m1 0h1m1 0h1m4 0h1m5 0h1m2 0h1m1 0h1m10 0h1m6 0h1m15 0h1m5 0h1m-114 1h1m2 0h1m3 0h1m16 0h1m4 0h1m8 0h1m4 0h1m13 0h1m1 0h1m7 0h2m2 0h1m10 0h1m2 0h1m11 0h1m11 0h1m-114 1h2m5 0h1m6 0h1m6 0h1m2 0h1m4 0h1m11 0h1m1 0h2m1 0h1m6 0h1m5 0h1m6 0h1m19 0h1m5 0h1m39 0h1m14 0h1m-144 1h1m31 0h1m11 0h1m10 0h1m2 0h1m6 0h2m1 0h1m6 0h1m3 0h1m5 0h2m3 0h1m2 0h1m-101 1h1m1 0h1m23 0h1m2 0h1m10 0h1m7 0h1m13 0h1m8 0h1m10 0h1m7 0h1m5 0h1m1 0h1m2 0h1m-101 1h1m1 0h1m28 0h1m12 0h1m10 0h1m2 0h1m2 0h1m14 0h2m1 0h1m8 0h1m15 0h1m29 0h1m-134 1h1m3 0h1m7 0h1m3 0h2m10 0h1m8 0h1m3 0h1m5 0h1m6 0h1m93 0h1m-148 1h1m13 0h1m5 0h1m4 0h1m6 0h1m15 0h1m1 0h1m10 0h1m5 0h1m3 0h1m3 0h1m20 0h1m5 0h1m19 0h1m-92 1h1m1 0h1m4 0h1m2 0h1m4 0h1m7 0h1m4 0h1m6 0h1m5 0h1m20 0h1m3 0h1m24 0h1m-124 1h2m32 0h1m5 0h1m13 0h1m2 0h1m16 0h1m6 0h1m12 0h1m33 0h1m4 0h1m-136 1h1m10 0h2m2 0h1m12 0h1m9 0h1m15 0h1m18 0h1m24 0h1m17 0h1m13 0h1m-131 1h1m11 0h1m1 0h1m1 0h1m6 0h1m4 0h1m7 0h1m4 0h1m14 0h3m2 0h2m1 0h1m1 0h1m4 0h1m1 0h1m4 0h1m12 0h2m13 0h1m28 0h1m-132 1h1m9 0h1m19 0h1m5 0h1m20 0h1m11 0h1m14 0h1m3 0h1m-88 1h2m3 0h1m22 0h1m1 0h1m1 0h1m1 0h2m52 0h2m2 0h1m2 0h1m2 0h1m-90 1h2m30 0h1m8 0h1m2 0h1m3 0h1m19 0h1m15 0h1m1 0h1m19 0h1m-105 1h1m4 0h1m13 0h1m3 0h2m8 0h1m22 0h1m2 0h2m3 0h1m16 0h1m22 0h1m-119 1h1m1 0h1m4 0h2m3 0h1m1 0h1m13 0h1m3 0h1m6 0h1m7 0h1m1 0h1m13 0h1m2 0h1m6 0h1m15 0h1m16 0h1m1 0h1m-100 1h1m5 0h1m1 0h1m10 0h1m1 0h1m7 0h1m4 0h1m6 0h2m8 0h1m3 0h1m2 0h1m7 0h1m3 0h1m6 0h1m31 0h1m-119 1h1m3 0h1m3 0h1m10 0h1m20 0h1m12 0h1m7 0h1m18 0h1m21 0h1m3 0h1m9 0h1m-116 1h1m15 0h1m7 0h1m3 0h1m2 0h1m8 0h1m10 0h1m7 0h4m7 0h1m22 0h1m8 0h1m10 0h1m18 0h1m-131 1h1m2 0h1m12 0h1m12 0h1m12 0h1m6 0h1m6 0h1m2 0h1m5 0h2m4 0h1m7 0h1m1 0h1m2 0h1m2 0h1m1 0h2m2 0h1m13 0h1m5 0h1m-119 1h1m6 0h1m1 0h1m1 0h1m2 0h1m7 0h1m1 0h2m1 0h1m19 0h1m6 0h2m7 0h1m1 0h1m2 0h2m5 0h1m8 0h1m12 0h1m27 0h1m-126 1h1m12 0h1m6 0h2m32 0h1m4 0h1m2 0h2m42 0h1m11 0h1m26 0h1m-146 1h1m2 0h1m1 0h1m5 0h1m1 0h1m8 0h1m16 0h1m13 0h1m11 0h1m1 0h1m2 0h1m1 0h1m4 0h1m7 0h1m5 0h1m1 0h1m9 0h1m1 0h1m-83 1h1m8 0h1m5 0h1m2 0h1m3 0h1m23 0h1m1 0h1m17 0h1m1 0h1m6 0h2m-77 1h1m3 0h1m22 0h1m5 0h1m5 0h1m13 0h1m7 0h1m15 0h1m39 0h1m-138 1h1m5 0h1m4 0h2m8 0h1m17 0h1m7 0h1m2 0h1m28 0h1m7 0h1m7 0h1m13 0h1m-112 1h1m3 0h1m5 0h1m11 0h1m4 0h1m6 0h2m14 0h2m5 0h1m2 0h1m8 0h1m16 0h1m3 0h1m8 0h2m-97 1h1m8 0h1m13 0h1m10 0h1m13 0h2m9 0h1m23 0h2m2 0h1m11 0h1m1 0h1m33 0h1m-141 1h1m6 0h1m6 0h1m5 0h1m12 0h1m13 0h3m3 0h1m15 0h2m3 0h1m14 0h1m2 0h1m27 0h1m24 0h1m-146 1h2m18 0h1m25 0h1m7 0h1m22 0h1m12 0h1m-84 1h1m11 0h2m1 0h1m6 0h1m2 0h1m11 0h1m4 0h1m6 0h1m12 0h1m7 0h1m6 0h1m2 0h1m17 0h1m2 0h1m-109 1h1m18 0h1m4 0h1m16 0h2m1 0h1m3 0h1m14 0h1m1 0h1m14 0h1m10 0h1m7 0h1m35 0h1m-136 1h1m2 0h1m6 0h1m9 0h1m6 0h1m3 0h1m1 0h2m7 0h1m15 0h1m12 0h1m8 0h1m4 0h1m12 0h1m15 0h1m5 0h1m14 0h1m-136 1h1m2 0h1m7 0h1m12 0h1m7 0h1m3 0h1m4 0h1m2 0h1m5 0h1m5 0h1m15 0h1m1 0h1m6 0h1m10 0h1m12 0h1m2 0h1m7 0h1m1 0h1m-108 1h2m4 0h1m31 0h1m16 0h1m25 0h1m10 0h1m10 0h1m3 0h1m21 0h1m-141 1h1m12 0h1m2 0h1m11 0h1m1 0h1m10 0h1m4 0h1m5 0h1m18 0h1m13 0h1m5 0h2m5 0h2m12 0h1m-111 1h1m4 0h2m25 0h1m1 0h1m13 0h1m1 0h1m3 0h1m13 0h1m2 0h1m5 0h1m7 0h1m2 0h1m1 0h1m2 0h1m3 0h1m4 0h1m7 0h1m17 0h1m9 0h1m-128 1h1m15 0h1m36 0h1m10 0h1m6 0h1m13 0h1m13 0h1m1 0h1m-114 1h1m16 0h1m11 0h1m5 0h1m2 0h1m9 0h1m6 0h2m5 0h1m2 0h1m30 0h1m27 0h1m-123 1h1m1 0h1m4 0h1m1 0h1m2 0h1m13 0h1m2 0h1m13 0h1m1 0h1m34 0h1m4 0h2m3 0h1m2 0h1m17 0h1m-111 1h1m2 0h1m8 0h1m1 0h1m9 0h1m35 0h1m10 0h1m36 0h1m-110 1h1m3 0h1m10 0h1m12 0h1m18 0h1m5 0h1m2 0h1m8 0h1m1 0h2m1 0h1m2 0h1m21 0h1m15 0h1m-115 1h1m6 0h1m13 0h1m1 0h1m5 0h1m8 0h1m3 0h1m6 0h1m1 0h1m2 0h1m18 0h2m1 0h1m12 0h1m2 0h1m8 0h1m14 0h1m-110 1h1m1 0h1m7 0h1m5 0h1m1 0h1m20 0h1m20 0h1m3 0h1m7 0h2m4 0h1m14 0h1m4 0h1m10 0h1m8 0h1m9 0h1m-127 1h1m5 0h1m10 0h1m2 0h1m15 0h1m1 0h2m30 0h1m1 0h1m16 0h1m41 0h1m-126 1h1m30 0h1m7 0h4m3 0h1m17 0h1m11 0h1m1 0h1m8 0h1m11 0h1m3 0h1m-112 1h1m5 0h1m2 0h1m5 0h1m2 0h1m2 0h1m3 0h1m14 0h1m11 0h2m13 0h1m3 0h1m16 0h1m1 0h1m3 0h2m27 0h1m-128 1h1m17 0h1m6 0h1m1 0h1m2 0h1m2 0h1m8 0h1m3 0h1m12 0h2m12 0h1m6 0h1m16 0h1m39 0h1m-141 1h1m6 0h1m4 0h1m1 0h1m5 0h1m3 0h2m2 0h2m7 0h1m3 0h1m3 0h1m4 0h1m6 0h1m4 0h1m13 0h1m6 0h1m5 0h1m3 0h1m12 0h1m1 0h1m-109 1h1m1 0h1m25 0h1m5 0h2m9 0h1m2 0h1m1 0h1m9 0h1m14 0h1m6 0h1m1 0h1m5 0h1m2 0h1m1 0h1m9 0h1m-98 1h1m6 0h1m2 0h1m1 0h1m17 0h1m8 0h1m6 0h2m4 0h1m7 0h1m2 0h1m17 0h1m9 0h1m30 0h1m4 0h1m-132 1h1m15 0h1m4 0h1m16 0h1m2 0h1m21 0h2m4 0h1m8 0h1m6 0h1m3 0h2m2 0h1m10 0h1m11 0h1m4 0h1m14 0h1m-133 1h1m8 0h1m1 0h1m6 0h1m1 0h1m5 0h1m15 0h1m12 0h1m4 0h1m9 0h1m6 0h2m25 0h1m12 0h1m14 0h1m-138 1h1m4 0h1m1 0h1m31 0h1m1 0h1m30 0h1m9 0h1m-78 1h1m9 0h1m30 0h1m16 0h1m2 0h2m4 0h1m22 0h1m-99 1h1m4 0h1m23 0h1m14 0h1m2 0h1m1 0h1m24 0h1m2 0h1m16 0h1m9 0h1m5 0h1m19 0h1m19 0h1m-148 1h1m10 0h1m2 0h1m13 0h1m5 0h1m1 0h1m13 0h1m5 0h1m17 0h1m1 0h1m4 0h2m14 0h1m3 0h1m-101 1h2m12 0h1m6 0h1m10 0h2m3 0h2m5 0h1m4 0h2m1 0h1m8 0h1m16 0h2m3 0h1m16 0h1m15 0h1m-115 1h2m4 0h1m1 0h1m1 0h2m7 0h1m4 0h1m7 0h1m5 0h2m9 0h1m17 0h1m22 0h1m7 0h1m13 0h1m21 0h1m-131 1h1m13 0h1m1 0h1m7 0h1m5 0h1m17 0h1m3 0h1m2 0h1m6 0h1m10 0h1m9 0h1m2 0h1m13 0h1m-110 1h1m3 0h2m5 0h1m1 0h1m38 0h1m4 0h1m1 0h1m1 0h3m2 0h1m1 0h1m13 0h1m13 0h1m14 0h1m-92 1h1m22 0h4m17 0h1m10 0h1m15 0h1m11 0h1m5 0h1m9 0h1m19 0h1m-126 1h1m5 0h1m1 0h1m2 0h2m8 0h1m1 0h2m20 0h1m3 0h1m18 0h1m3 0h2m19 0h1m5 0h1m-114 1h1m3 0h1m18 0h3m3 0h1m12 0h2m17 0h1m12 0h2m5 0h1m8 0h1m28 0h1m9 0h1m9 0h1m-122 1h1m2 0h1m7 0h1m1 0h1m3 0h1m7 0h1m4 0h1m4 0h1m3 0h1m8 0h1m11 0h1m2 0h1m8 0h1m9 0h1m2 0h1m1 0h1m18 0h1m9 0h1m-119 1h2m5 0h1m7 0h1m18 0h1m1 0h4m3 0h1m4 0h1m4 0h1m4 0h1m6 0h1m12 0h1m1 0h1m8 0h1m3 0h1m3 0h1m-112 1h1m10 0h1m3 0h1m1 0h1m2 0h1m10 0h1m4 0h1m7 0h1m3 0h1m4 0h1m3 0h2m4 0h1m7 0h1m5 0h1m10 0h1m13 0h1m12 0h1m16 0h1m-132 1h3m3 0h1m8 0h1m8 0h2m9 0h1m2 0h1m3 0h1m13 0h1m8 0h1m3 0h2m12 0h1m15 0h1m31 0h1m4 0h1m-141 1h1m17 0h1m2 0h1m4 0h1m2 0h1m5 0h1m3 0h1m1 0h1m18 0h1m2 0h1m4 0h1m3 0h1m3 0h1m12 0h1m4 0h1m10 0h1m10 0h1m-117 1h1m4 0h1m16 0h1m1 0h1m11 0h1m12 0h1m10 0h1m4 0h1m1 0h1m7 0h1m9 0h1m5 0h1m-86 1h1m1 0h1m1 0h1m11 0h1m1 0h1m20 0h1m7 0h1m2 0h1m25 0h1m2 0h1m14 0h1m17 0h1m-105 1h2m1 0h1m4 0h1m1 0h1m6 0h1m5 0h1m7 0h1m4 0h3m7 0h1m4 0h1m5 0h1m9 0h1m6 0h1m5 0h1m2 0h1m37 0h1m-110 1h1m3 0h1m7 0h1m2 0h1m9 0h1m18 0h3m2 0h2m2 0h1m1 0h1m6 0h1m1 0h1m8 0h1m6 0h1m5 0h1m17 0h1m-126 1h1m7 0h1m14 0h1m3 0h1m9 0h1m22 0h1m16 0h1m8 0h1m38 0h1m4 0h1m-133 1h2m1 0h1m12 0h1m8 0h1m1 0h1m10 0h1m1 0h1m16 0h1m11 0h1m7 0h1m3 0h1m3 0h1m4 0h1m-88 1h2m18 0h1m5 0h1m2 0h1m14 0h1m8 0h1m3 0h1m8 0h1m3 0h1m19 0h1m1 0h1m15 0h1m20 0h1m-136 1h1m19 0h1m13 0h1m19 0h1m12 0h1m2 0h1m12 0h1m15 0h1m12 0h1m7 0h1m4 0h1m-116 1h1m6 0h1m2 0h1m1 0h1m4 0h1m10 0h1m11 0h1m5 0h1m1 0h1m8 0h1m1 0h1m2 0h1m24 0h1m1 0h1m50 0h1m-150 1h1m49 0h1m8 0h1m3 0h1m2 0h1m1 0h1m4 0h1m6 0h1m13 0h2m2 0h1m2 0h1m7 0h1m7 0h1m26 0h1m-141 1h1m13 0h1m2 0h1m8 0h1m4 0h1m5 0h1m6 0h1m4 0h1m16 0h1m15 0h1m16 0h1m-102 1h1m24 0h1m6 0h1m5 0h1m8 0h1m3 0h1m1 0h1m5 0h1m5 0h1m3 0h1m18 0h1m1 0h1m8 0h1m5 0h1m5 0h1m-107 1h1m17 0h1m7 0h1m11 0h2m8 0h1m3 0h1m2 0h1m10 0h2m9 0h1m5 0h1m6 0h1m21 0h1m-121 1h1m1 0h1m1 0h2m20 0h1m12 0h1m4 0h1m2 0h1m15 0h2m2 0h1m2 0h2m3 0h1m15 0h1m13 0h1m14 0h1m-119 1h1m1 0h1m1 0h1m2 0h3m33 0h1m24 0h1m2 0h1m13 0h1m8 0h1m3 0h1m5 0h1m-93 1h1m5 0h1m9 0h1m6 0h2m8 0h1m20 0h1m6 0h1m30 0h1m9 0h1m1 0h1m21 0h1m-125 1h1m1 0h1m1 0h1m6 0h1m9 0h2m13 0h2m8 0h1m4 0h1m5 0h1m1 0h1m12 0h1m7 0h1m1 0h1m6 0h1m24 0h1m4 0h1m-136 1h2m10 0h2m10 0h1m14 0h3m2 0h2m10 0h1m6 0h1m1 0h1m7 0h1m2 0h1m3 0h1m33 0h1m15 0h1m-126 1h1m13 0h1m2 0h1m2 0h3m16 0h1m1 0h1m8 0h1m3 0h1m5 0h1m14 0h1m12 0h1m3 0h1m8 0h1m7 0h1m1 0h1m-116 1h1m10 0h2m7 0h1m3 0h1m2 0h1m14 0h1m7 0h1m3 0h1m13 0h1m1 0h1m2 0h2m18 0h1m13 0h1m3 0h1m32 0h1m-146 1h1m4 0h1m7 0h1m24 0h1m10 0h1m2 0h1m12 0h1m15 0h1m2 0h1m55 0h1m-140 1h1m22 0h1m3 0h1m17 0h1m15 0h1m17 0h1m12 0h1m22 0h1m-117 1h2m27 0h1m5 0h1m10 0h1m2 0h1m6 0h1m1 0h1m1 0h1m2 0h1m3 0h1m1 0h3m1 0h1m15 0h1m11 0h1m2 0h1m7 0h1m22 0h1m-129 1h2m12 0h1m1 0h1m18 0h1m14 0h2m1 0h1m2 0h1m16 0h1m4 0h2m11 0h1m13 0h1m7 0h1m4 0h1m9 0h1m-136 1h1m1 0h1m28 0h1m10 0h1m1 0h1m12 0h1m3 0h1m6 0h1m10 0h1m1 0h1m1 0h1m3 0h2m5 0h1m10 0h1m24 0h1m-131 1h1m21 0h1m1 0h1m22 0h1m4 0h1m3 0h1m1 0h1m3 0h1m11 0h1m33 0h1m-99 1h1m11 0h1m35 0h1m2 0h1m7 0h1m8 0h1m10 0h1m2 0h1m2 0h1m8 0h1m3 0h1m-109 1h1m10 0h3m7 0h1m1 0h1m6 0h1m18 0h1m2 0h1m3 0h1m14 0h2m16 0h1m3 0h1m1 0h1m54 0h1m-151 1h1m3 0h1m9 0h1m21 0h2m8 0h1m1 0h1m3 0h1m3 0h1m5 0h1m10 0h1m17 0h1m10 0h2m1 0h1m-92 1h1m1 0h1m7 0h1m30 0h1m10 0h1m3 0h1m16 0h1m15 0h1m36 0h1m4 0h1m-134 1h1m5 0h1m4 0h1m1 0h1m4 0h2m9 0h1m3 0h2m2 0h2m2 0h2m19 0h1m3 0h1m14 0h2m5 0h1m-90 1h1m6 0h1m5 0h1m6 0h1m3 0h1m2 0h1m6 0h1m2 0h1m7 0h1m17 0h1m5 0h1m6 0h1m1 0h2m7 0h1m-98 1h1m12 0h1m2 0h2m8 0h2m3 0h1m19 0h1m14 0h1m9 0h1m4 0h1m7 0h1m4 0h1m9 0h1m-102 1h1m2 0h1m4 0h1m7 0h1m4 0h1m4 0h1m13 0h1m7 0h1m17 0h1m15 0h1m6 0h1m5 0h1m16 0h1m8 0h1m-121 1h1m11 0h2m1 0h2m25 0h1m1 0h1m2 0h1m4 0h1m2 0h1m4 0h1m17 0h1m12 0h2m18 0h1m28 0h1m-141 1h1m8 0h1m3 0h1m1 0h2m18 0h1m7 0h1m13 0h2m3 0h1m10 0h1m1 0h1m20 0h1m1 0h1m10 0h1m15 0h1m4 0h1m-134 1h1m5 0h1m7 0h1m3 0h1m13 0h2m7 0h1m1 0h2m2 0h1m1 0h4m2 0h1m30 0h1m4 0h1m2 0h1m17 0h1m-109 1h1m1 0h2m27 0h2m1 0h1m10 0h1m1 0h1m4 0h1m4 0h1m1 0h1m5 0h1m11 0h2m4 0h1m11 0h1m8 0h1m-110 1h1m11 0h1m8 0h1m24 0h1m2 0h1m1 0h2m2 0h1m15 0h1m1 0h1m8 0h1m2 0h1m12 0h2m17 0h1m31 0h1m-140 1h1m4 0h2m3 0h1m15 0h1m5 0h1m22 0h1m15 0h2m3 0h1m17 0h1m4 0h1m-109 1h1m30 0h1m18 0h2m7 0h1m5 0h1m3 0h1m13 0h1m12 0h1m11 0h1m-111 1h1m7 0h1m9 0h1m6 0h2m10 0h1m1 0h1m10 0h2m6 0h1m8 0h1m2 0h1m7 0h2m7 0h1m2 0h1m34 0h1m4 0h1m-131 1h1m6 0h1m1 0h1m3 0h1m1 0h1m3 0h1m14 0h1m3 0h1m3 0h1m1 0h2m4 0h1m4 0h1m13 0h1m2 0h1m6 0h1m28 0h1m9 0h1m31 0h1m-136 1h1m18 0h1m6 0h1m5 0h1m4 0h1m3 0h1m2 0h1m10 0h2m8 0h2m2 0h1m1 0h1m4 0h1m6 0h1m21 0h1m4 0h1m4 0h1m-130 1h1m1 0h1m25 0h1m8 0h1m9 0h2m4 0h1m3 0h3m4 0h1m6 0h2m6 0h1m5 0h2m4 0h1m2 0h1m18 0h1m15 0h1m-131 1h1m30 0h1m5 0h1m3 0h1m7 0h1m9 0h1m11 0h1m2 0h1m1 0h1m7 0h1m7 0h1m1 0h2m29 0h1m-120 1h1m6 0h1m5 0h1m5 0h1m3 0h1m1 0h1m7 0h1m17 0h1m5 0h1m7 0h1m11 0h1m7 0h1m5 0h1m7 0h1m10 0h1m3 0h1m24 0h1m4 0h1m-151 1h1m6 0h1m12 0h1m4 0h1m7 0h1m13 0h1m5 0h2m4 0h2m10 0h1m15 0h2m2 0h1m7 0h1m14 0h1m-91 1h1m6 0h1m13 0h1m9 0h3m1 0h1m6 0h1m10 0h1m13 0h1m13 0h1m4 0h1m-102 1h1m4 0h1m1 0h1m3 0h1m1 0h1m6 0h1m1 0h1m6 0h1m1 0h1m9 0h1m3 0h2m7 0h1m17 0h1m20 0h1m1 0h1m5 0h1m-104 1h1m1 0h1m20 0h1m2 0h3m31 0h1m13 0h1m5 0h1m8 0h1m1 0h1m1 0h2m2 0h1m45 0h1m-130 1h2m9 0h1m1 0h1m4 0h1m3 0h1m4 0h1m32 0h1m7 0h1m18 0h1m-103 1h1m1 0h1m2 0h2m5 0h1m21 0h1m5 0h1m2 0h1m1 0h1m2 0h1m13 0h1m1 0h1m4 0h1m1 0h1m8 0h1m-75 1h2m19 0h1m3 0h1m3 0h1m11 0h2m2 0h2m12 0h1m1 0h1m23 0h1m8 0h1m9 0h1m23 0h1m-140 1h3m7 0h1m5 0h1m1 0h1m2 0h1m4 0h1m4 0h1m3 0h1m4 0h1m22 0h1m13 0h3m3 0h1m4 0h1m2 0h1m19 0h1m-113 1h1m11 0h1m13 0h1m13 0h1m7 0h1m10 0h1m10 0h1m1 0h1m2 0h2m2 0h1m4 0h1m9 0h1m15 0h1m19 0h1m-109 1h1m2 0h1m24 0h1m8 0h1m5 0h1m2 0h1m8 0h1m16 0h1m3 0h1m17 0h1m-103 1h1m5 0h1m5 0h1m3 0h1m2 0h1m5 0h1m3 0h1m3 0h1m15 0h1m2 0h2m12 0h1m25 0h1m-104 1h1m5 0h1m25 0h1m1 0h1m9 0h1m5 0h1m5 0h1m4 0h1m4 0h1m1 0h1m5 0h1m6 0h1m21 0h1m-107 1h2m8 0h1m1 0h1m7 0h1m9 0h1m25 0h1m2 0h1m3 0h2m2 0h1m7 0h1m5 0h1m9 0h1m1 0h1m-82 1h1m2 0h1m5 0h1m2 0h1m8 0h1m8 0h1m3 0h1m6 0h1m8 0h1m9 0h1m23 0h1m2 0h1m2 0h1m37 0h1m-131 1h1m5 0h1m3 0h1m10 0h1m2 0h1m28 0h1m4 0h1m2 0h1m2 0h1m5 0h1m1 0h1m4 0h1m5 0h2m17 0h1m5 0h1m11 0h1m-126 1h1m3 0h1m3 0h1m8 0h1m9 0h1m6 0h1m2 0h1m2 0h1m7 0h1m1 0h1m23 0h1m1 0h1m13 0h1m10 0h1m-106 1h1m6 0h1m6 0h1m7 0h1m3 0h1m13 0h1m3 0h1m6 0h1m5 0h1m19 0h1m13 0h1m3 0h2m18 0h1m-99 1h1m4 0h1m2 0h3m1 0h2m25 0h1m2 0h1m10 0h1m1 0h1m29 0h1m1 0h1m29 0h1m-136 1h1m10 0h1m3 0h1m15 0h1m1 0h1m12 0h1m1 0h1m7 0h1m6 0h1m3 0h1m9 0h2m1 0h1m19 0h1m15 0h1m28 0h1m4 0h1m-147 1h1m8 0h1m15 0h1m19 0h1m6 0h1m4 0h1m26 0h1m3 0h1m7 0h2m43 0h1m4 0h1m-129 1h1m13 0h1m1 0h1m3 0h1m2 0h1m4 0h1m1 0h1m4 0h2m7 0h1m10 0h1m6 0h1m1 0h1m14 0h1m12 0h1m10 0h1m-121 1h1m10 0h1m4 0h1m1 0h1m15 0h1m5 0h1m13 0h1m30 0h1m2 0h1m5 0h1m5 0h1m19 0h1m-126 1h1m15 0h1m22 0h1m4 0h1m7 0h2m3 0h1m3 0h1m7 0h1m6 0h1m8 0h2m13 0h1m29 0h1m-131 1h1m1 0h1m4 0h1m3 0h1m11 0h2m5 0h1m18 0h1m2 0h1m19 0h1m18 0h1m7 0h1m16 0h1m-101 1h1m3 0h1m4 0h1m5 0h1m20 0h1m4 0h1m4 0h1m19 0h1m1 0h2m12 0h2m45 0h1m-146 1h1m20 0h1m3 0h1m10 0h2m27 0h1m1 0h1m9 0h1m8 0h1m14 0h1m3 0h1m10 0h1m3 0h1m9 0h1m4 0h1m4 0h1m9 0h1m-151 1h1m8 0h1m5 0h1m9 0h1m4 0h1m8 0h1m8 0h1m5 0h1m9 0h1m5 0h1m3 0h1m2 0h2m1 0h1m3 0h1m10 0h1m9 0h1m14 0h1m19 0h1m-141 1h1m4 0h1m3 0h1m9 0h1m2 0h1m5 0h1m2 0h1m7 0h1m1 0h2m7 0h1m7 0h1m5 0h1m3 0h1m1 0h1m7 0h1m15 0h1m6 0h1m43 0h1m-128 1h1m6 0h1m1 0h1m2 0h1m18 0h2m3 0h1m4 0h1m1 0h1m4 0h1m7 0h1m9 0h1m9 0h2m16 0h1m3 0h1m-109 1h1m4 0h1m5 0h1m1 0h1m4 0h1m2 0h1m1 0h2m11 0h1m12 0h1m3 0h1m4 0h1m2 0h1m2 0h1m7 0h1m13 0h1m8 0h1m41 0h1m-146 1h1m4 0h1m8 0h1m5 0h2m2 0h1m7 0h1m15 0h1m3 0h1m2 0h1m24 0h1m3 0h1m4 0h1m55 0h1m-143 1h1m11 0h1m9 0h1m2 0h2m2 0h1m1 0h1m3 0h1m8 0h1m6 0h1m2 0h1m11 0h1m2 0h1m1 0h1m6 0h1m5 0h1m5 0h1m4 0h1m1 0h1m2 0h1m-95 1h1m3 0h1m1 0h1m7 0h1m8 0h1m20 0h1m5 0h1m24 0h1m11 0h1m15 0h1m3 0h1m-114 1h1m7 0h1m3 0h1m6 0h1m11 0h1m4 0h1m4 0h2m22 0h1m2 0h1m3 0h2m9 0h1m11 0h1m11 0h1m5 0h1m-115 1h1m22 0h1m19 0h1m2 0h1m23 0h1m12 0h1m7 0h1m4 0h1m1 0h1m-96 1h1m9 0h1m5 0h1m3 0h1m8 0h1m6 0h1m29 0h1m4 0h1m8 0h1m4 0h1m9 0h1m-85 1h1m21 0h2m2 0h1m18 0h1m9 0h1m11 0h1m16 0h1m7 0h1m5 0h1m5 0h1m-121 1h2m4 0h1m3 0h1m1 0h1m3 0h1m11 0h1m12 0h1m13 0h1m13 0h1m9 0h1m5 0h1m2 0h1m3 0h1m1 0h1m1 0h1m3 0h1m1 0h1m5 0h1m3 0h1m5 0h1m11 0h1m-125 1h1m6 0h1m4 0h1m8 0h1m27 0h1m3 0h5m32 0h1m15 0h1m17 0h1m-128 1h1m1 0h1m3 0h1m1 0h1m3 0h1m18 0h1m6 0h1m4 0h2m3 0h1m7 0h1m5 0h1m1 0h1m2 0h1m4 0h1m9 0h1m11 0h2m4 0h1m46 0h1m-137 1h1m17 0h1m32 0h1m2 0h2m1 0h2m7 0h1m14 0h1m-89 1h1m10 0h1m7 0h2m1 0h3m1 0h1m5 0h1m1 0h1m1 0h1m1 0h2m18 0h2m11 0h1m2 0h1m6 0h1m10 0h1m12 0h1m3 0h1m33 0h1m-148 1h1m9 0h1m24 0h1m3 0h1m10 0h2m3 0h1m18 0h1m3 0h1m1 0h1m4 0h1m2 0h2m1 0h1m45 0h1m-137 1h1m1 0h1m13 0h1m1 0h1m2 0h1m10 0h1m1 0h2m2 0h1m1 0h1m2 0h1m2 0h1m6 0h1m11 0h1m4 0h1m-72 1h1m8 0h1m2 0h1m8 0h1m11 0h1m15 0h2m1 0h1m15 0h1m9 0h1m15 0h1m6 0h1m11 0h1m23 0h1m-137 1h1m16 0h1m3 0h1m5 0h2m1 0h1m3 0h1m4 0h1m7 0h1m10 0h1m19 0h1m11 0h1m19 0h1m25 0h1m-124 1h1m6 0h1m6 0h1m10 0h1m3 0h1m13 0h1m4 0h1m2 0h1m7 0h1m22 0h1m18 0h1m16 0h1m9 0h1m-144 1h1m6 0h2m2 0h1m3 0h1m9 0h1m16 0h1m6 0h1m7 0h1m25 0h4m2 0h2m6 0h1m30 0h1m19 0h1m-149 1h1m23 0h1m20 0h1m1 0h1m2 0h1m4 0h1m5 0h1m1 0h1m8 0h1m6 0h1m8 0h1m5 0h1m3 0h1m3 0h1m11 0h1m1 0h1m1 0h1m14 0h1m-129 1h1m9 0h1m3 0h1m12 0h1m25 0h1m4 0h1m8 0h1m3 0h3m10 0h1m11 0h1m21 0h1m14 0h1m4 0h1m-140 1h1m13 0h1m30 0h1m7 0h1m2 0h2m3 0h1m7 0h1m12 0h1m3 0h1m9 0h1m3 0h1m13 0h1m-106 1h1m6 0h1m18 0h1m1 0h1m13 0h1m6 0h1m2 0h2m5 0h1m6 0h1m2 0h2m4 0h1m15 0h1m-107 1h1m12 0h1m1 0h1m11 0h1m4 0h1m3 0h1m7 0h1m8 0h1m25 0h1m1 0h1m1 0h2m3 0h1m13 0h1m27 0h1m-123 1h1m5 0h1m18 0h2m4 0h3m13 0h1m26 0h1m12 0h1m4 0h2m3 0h1m10 0h1m3 0h1m-115 1h1m9 0h1m7 0h1m3 0h1m15 0h1m3 0h1m2 0h1m10 0h1m1 0h1m4 0h2m7 0h1m2 0h1m10 0h1m47 0h1m-136 1h2m1 0h1m6 0h1m25 0h1m21 0h1m2 0h1m9 0h1m2 0h1m4 0h1m2 0h1m2 0h1m5 0h2m2 0h1m1 0h1m-102 1h1m11 0h1m20 0h1m18 0h1m18 0h1m5 0h1m2 0h1m12 0h1m13 0h1m1 0h1m7 0h1m6 0h1m24 0h1m-150 1h1m20 0h1m6 0h2m4 0h2m12 0h1m4 0h1m16 0h1m2 0h2m10 0h1m27 0h1m3 0h1m-118 1h1m16 0h1m24 0h2m1 0h1m2 0h1m5 0h1m4 0h1m9 0h1m16 0h1m52 0h1m-139 1h1m18 0h1m4 0h2m4 0h1m9 0h2m1 0h1m12 0h1m3 0h2m6 0h2m1 0h1m1 0h1m6 0h1m1 0h1m1 0h1m3 0h1m59 0h1m-144 1h1m33 0h1m5 0h1m5 0h1m4 0h2m24 0h1m3 0h1m5 0h1m6 0h2m3 0h1m-103 1h1m3 0h1m3 0h1m9 0h1m4 0h1m8 0h1m1 0h1m2 0h1m2 0h1m2 0h1m18 0h1m3 0h1m14 0h1m15 0h1m16 0h1m1 0h1m4 0h1m24 0h1m-144 1h1m2 0h1m2 0h1m15 0h1m26 0h1m4 0h1m3 0h1m15 0h1m1 0h3m7 0h1m24 0h1m6 0h1m9 0h1m-135 1h1m19 0h2m1 0h2m7 0h1m21 0h1m2 0h2m3 0h1m2 0h1m24 0h1m43 0h1m-132 1h1m5 0h2m3 0h1m7 0h1m7 0h1m6 0h1m1 0h1m1 0h1m3 0h1m13 0h1m14 0h1m1 0h1m2 0h1m2 0h1m3 0h1m22 0h1m5 0h1m33 0h1m-145 1h2m21 0h1m8 0h1m4 0h1m3 0h1m4 0h1m18 0h1m2 0h1m4 0h1m10 0h1m6 0h1m7 0h1m-104 1h1m4 0h1m4 0h1m2 0h1m6 0h1m2 0h2m4 0h1m3 0h1m1 0h1m5 0h1m8 0h1m4 0h1m1 0h1m8 0h1m6 0h1m7 0h1m2 0h2m3 0h1m10 0h1m37 0h1m-137 1h1m7 0h1m7 0h1m4 0h1m22 0h1m12 0h3m2 0h1m1 0h1m1 0h1m1 0h1m1 0h1m6 0h1m6 0h2m2 0h1m10 0h1m-94 1h1m17 0h1m11 0h1m4 0h1m3 0h2m4 0h1m17 0h2m19 0h1m7 0h1m17 0h1m14 0h1m-99 1h1m3 0h2m4 0h1m8 0h1m1 0h1m7 0h1m15 0h1m1 0h1m2 0h1m2 0h1m1 0h3m19 0h1m-93 1h3m1 0h2m9 0h1m1 0h1m9 0h1m15 0h1m18 0h1m9 0h1m-94 1h1m5 0h1m10 0h1m4 0h1m6 0h2m12 0h1m5 0h1m7 0h2m4 0h1m3 0h1m4 0h1m34 0h1m-98 1h2m12 0h1m7 0h1m8 0h1m1 0h1m1 0h1m3 0h1m12 0h2m2 0h2m3 0h1m10 0h1m8 0h1m4 0h1m6 0h1m1 0h1m23 0h1m19 0h1m-144 1h1m15 0h1m12 0h1m8 0h1m4 0h1m5 0h1m17 0h1m2 0h1m8 0h2m17 0h2m11 0h1m-119 1h2m3 0h1m56 0h1m11 0h1m7 0h1m1 0h1m12 0h1m1 0h1m-92 1h1m4 0h1m19 0h1m1 0h1m14 0h1m3 0h1m8 0h1m7 0h1m6 0h1m3 0h1m6 0h1m1 0h1m2 0h1m21 0h1m3 0h1m4 0h1m-112 1h1m7 0h1m4 0h2m24 0h1m6 0h1m4 0h1m6 0h1m12 0h1m14 0h1m3 0h1m1 0h1m9 0h1m3 0h1m19 0h1m-129 1h1m7 0h1m10 0h1m12 0h1m3 0h1m3 0h1m6 0h1m2 0h1m6 0h1m5 0h2m1 0h1m5 0h1m7 0h1m4 0h1m27 0h1m-119 1h1m24 0h1m1 0h1m13 0h1m11 0h1m4 0h1m26 0h1m1 0h1m1 0h1m11 0h1m1 0h1m-111 1h1m12 0h2m8 0h1m7 0h1m13 0h3m28 0h1m6 0h1m1 0h1m4 0h1m13 0h1m13 0h1m6 0h1m-118 1h1m3 0h1m11 0h1m7 0h1m7 0h1m14 0h1m5 0h1m3 0h1m1 0h2m1 0h1m6 0h1m3 0h2m8 0h1m20 0h1m-100 1h1m12 0h1m11 0h1m18 0h1m14 0h1m2 0h1m11 0h1m32 0h1m4 0h1m-125 1h1m4 0h1m1 0h1m18 0h1m1 0h1m4 0h1m1 0h1m13 0h1m11 0h1m14 0h1m6 0h1m6 0h1m2 0h2m6 0h1m37 0h1m-125 1h1m1 0h1m12 0h1m5 0h2m1 0h1m2 0h1m5 0h1m7 0h1m1 0h1m3 0h1m16 0h1m12 0h1m8 0h1m-103 1h2m9 0h1m7 0h1m3 0h1m2 0h1m4 0h1m27 0h1m11 0h1m1 0h1m1 0h1m4 0h1m3 0h1m2 0h1m4 0h1m2 0h1m1 0h1m2 0h1m44 0h1m-95 1h2m15 0h1m2 0h1m8 0h1m16 0h1m12 0h1m-96 1h1m2 0h1m1 0h1m20 0h1m5 0h1m3 0h2m7 0h1m1 0h1m11 0h1m1 0h1m12 0h1m5 0h1m29 0h1m4 0h1m-128 1h1m5 0h1m16 0h2m2 0h1m4 0h1m19 0h1m19 0h1m1 0h1m2 0h2m10 0h1m7 0h1m11 0h1m-104 1h1m1 0h1m8 0h1m2 0h1m10 0h1m1 0h1m5 0h1m3 0h1m1 0h1m6 0h1m1 0h1m2 0h2m19 0h1m17 0h1m2 0h1m13 0h1m23 0h1m4 0h1m-114 1h1m3 0h1m1 0h1m38 0h1m12 0h1m-91 1h1m33 0h2m7 0h1m5 0h1m2 0h1m10 0h1m5 0h1m4 0h1m8 0h1m4 0h2m2 0h2m12 0h1m7 0h1m1 0h1m-113 1h1m6 0h1m27 0h1m2 0h1m22 0h1m11 0h1m9 0h1m6 0h1m5 0h1m4 0h1m8 0h1m35 0h1m-150 1h1m3 0h1m16 0h1m17 0h1m2 0h1m9 0h1m3 0h2m9 0h1m1 0h1m7 0h1m9 0h1m12 0h1m48 0h1m-151 1h1m4 0h2m14 0h2m13 0h1m2 0h1m22 0h1m28 0h1m3 0h2m17 0h1m-115 1h1m6 0h1m5 0h1m26 0h1m16 0h1m2 0h2m2 0h1m6 0h1m1 0h1m8 0h1m57 0h1m-130 1h1m1 0h1m7 0h1m4 0h1m22 0h1m4 0h1m6 0h1m2 0h1m23 0h1m3 0h1m2 0h1m5 0h1m1 0h1m-102 1h3m4 0h1m25 0h1m4 0h1m5 0h1m3 0h1m4 0h1m1 0h1m16 0h1m3 0h1m11 0h1m3 0h1m5 0h1m3 0h1m1 0h1m43 0h1m-147 1h1m17 0h1m11 0h1m8 0h1m9 0h1m5 0h1m2 0h1m6 0h1m15 0h1m7 0h1m14 0h1m16 0h1m4 0h1m-129 1h1m3 0h1m5 0h1m16 0h1m30 0h1m27 0h1m9 0h1m15 0h1m10 0h1m-109 1h1m2 0h1m5 0h1m9 0h1m6 0h1m13 0h2m4 0h1m8 0h1m6 0h1m3 0h1m6 0h1m49 0h1m-130 1h1m27 0h2m8 0h1m5 0h1m2 0h1m4 0h1m1 0h1m4 0h1m3 0h1m8 0h1m34 0h1m-116 1h1m19 0h1m7 0h1m8 0h2m5 0h1m5 0h1m10 0h1m7 0h1m10 0h1m24 0h1m11 0h1m-121 1h1m13 0h1m1 0h1m18 0h1m2 0h2m5 0h1m7 0h1m7 0h1m4 0h1m12 0h2m1 0h1m3 0h1m5 0h1m3 0h1m48 0h1m-146 1h1m6 0h1m12 0h1m10 0h1m1 0h1m1 0h1m10 0h1m1 0h1m2 0h1m10 0h1m13 0h1m2 0h1m16 0h2m7 0h1m12 0h1m21 0h1m-141 1h1m23 0h1m7 0h1m17 0h1m10 0h1m13 0h1m10 0h1m3 0h1m2 0h1m3 0h1m5 0h2m1 0h1m3 0h1m-111 1h1m13 0h1m2 0h1m5 0h1m3 0h1m1 0h1m6 0h1m5 0h1m7 0h1m1 0h1m27 0h1m1 0h1m2 0h1m34 0h1m14 0h1m9 0h1m-136 1h1m13 0h1m3 0h1m4 0h1m8 0h1m6 0h1m13 0h1m15 0h1m1 0h1m12 0h1m5 0h1m4 0h1m8 0h1m5 0h1m-121 1h2m11 0h3m8 0h1m10 0h1m6 0h2m1 0h1m2 0h1m1 0h2m5 0h1m10 0h1m10 0h1m1 0h1m3 0h1m4 0h1m17 0h1m9 0h1m-119 1h1m4 0h1m8 0h1m20 0h1m1 0h1m1 0h1m28 0h1m13 0h1m8 0h1m2 0h1m1 0h1m8 0h2m28 0h1m-117 1h1m12 0h1m4 0h2m17 0h1m3 0h1m2 0h1m2 0h1m4 0h1m12 0h2m3 0h1m4 0h1m3 0h1m13 0h1m-90 1h1m1 0h1m1 0h1m11 0h1m9 0h1m12 0h2m4 0h1m1 0h2m2 0h1m35 0h1m5 0h1m-117 1h1m6 0h1m28 0h1m11 0h1m15 0h2m4 0h1m2 0h1m3 0h1m2 0h1m7 0h2m12 0h1m11 0h1m15 0h1m-131 1h1m7 0h1m3 0h1m12 0h1m2 0h1m9 0h1m2 0h1m4 0h1m2 0h1m2 0h2m12 0h2m1 0h1m5 0h1m17 0h1m2 0h1m4 0h2m22 0h1m-112 1h1m6 0h2m4 0h2m13 0h1m8 0h1m1 0h1m1 0h1m8 0h1m3 0h1m10 0h1m1 0h1m4 0h1m1 0h2m8 0h1m6 0h1m34 0h1m9 0h1m-146 1h1m16 0h1m8 0h1m2 0h2m1 0h1m9 0h1m14 0h1m4 0h2m6 0h1m17 0h1m7 0h1m-93 1h1m39 0h1m1 0h1m1 0h1m5 0h1m3 0h1m2 0h1m8 0h1m13 0h2m4 0h1m44 0h1m-133 1h1m3 0h1m11 0h1m18 0h1m4 0h1m1 0h1m11 0h1m2 0h1m1 0h1m8 0h1m1 0h1m16 0h1m2 0h1m3 0h1m3 0h1m5 0h1m-112 1h1m2 0h1m2 0h1m5 0h1m6 0h2m6 0h1m2 0h1m1 0h1m3 0h2m6 0h1m7 0h1m12 0h3m2 0h2m5 0h1m1 0h1m2 0h1m16 0h2m-102 1h1m1 0h1m5 0h1m7 0h1m20 0h1m2 0h1m2 0h1m1 0h1m12 0h1m2 0h1m1 0h1m4 0h1m2 0h1m6 0h1m7 0h1m4 0h1m2 0h1m1 0h1m9 0h1m-98 1h1m7 0h1m2 0h1m1 0h1m2 0h1m2 0h1m22 0h2m9 0h1m2 0h1m8 0h1m16 0h1m2 0h1m5 0h2m-93 1h1m8 0h1m14 0h2m3 0h1m1 0h1m2 0h1m5 0h1m11 0h1m6 0h1m7 0h1m5 0h1m9 0h1m13 0h1m3 0h1m1 0h1m-113 1h1m50 0h1m33 0h1m2 0h1m2 0h1m3 0h2m4 0h1m-99 1h1m48 0h1m6 0h1m5 0h1m3 0h1m11 0h1m2 0h1m2 0h1m7 0h3m-98 1h1m14 0h1m1 0h1m14 0h1m20 0h1m23 0h1m7 0h1m22 0h1m1 0h1m3 0h1m35 0h1m-151 1h1m7 0h1m6 0h2m4 0h1m1 0h1m1 0h1m7 0h1m11 0h1m6 0h1m2 0h1m11 0h1m18 0h1m2 0h1m28 0h1m1 0h1m19 0h1m-139 1h1m1 0h1m3 0h1m2 0h1m21 0h1m6 0h1m19 0h1m2 0h1m6 0h1m10 0h1m14 0h3m4 0h1m2 0h1m13 0h1m19 0h1m-131 1h1m10 0h1m21 0h1m4 0h1m5 0h1m11 0h1m6 0h1m10 0h1m14 0h1m6 0h1m-104 1h1m2 0h1m1 0h1m7 0h1m18 0h1m4 0h1m2 0h2m12 0h1m22 0h1m15 0h1m-97 1h1m7 0h1m1 0h1m6 0h1m1 0h1m2 0h1m5 0h1m1 0h1m1 0h1m5 0h2m1 0h1m3 0h1m3 0h1m2 0h1m5 0h2m24 0h1m31 0h1m1 0h1m16 0h1m14 0h1m-148 1h1m18 0h1m6 0h1m27 0h1m12 0h1m12 0h2m13 0h1m21 0h1m24 0h1m-123 1h1m1 0h1m2 0h1m2 0h1m4 0h1m17 0h1m3 0h1m1 0h1m4 0h1m5 0h1m7 0h1m16 0h1m4 0h1m23 0h1m24 0h1m-150 1h1m12 0h1m22 0h1m4 0h1m5 0h1m9 0h1m10 0h1m6 0h1m9 0h1m21 0h1m3 0h1m-113 1h1m12 0h1m8 0h1m10 0h1m4 0h1m4 0h3m8 0h1m7 0h1m5 0h1m4 0h1m8 0h1m8 0h1m3 0h1m10 0h1m7 0h1m10 0h1m14 0h1m9 0h1m-146 1h2m4 0h1m11 0h1m3 0h1m9 0h1m3 0h1m4 0h1m11 0h1m13 0h1m14 0h1m12 0h1m1 0h1m3 0h1m28 0h1m4 0h1m-135 1h1m14 0h1m1 0h1m1 0h1m4 0h1m7 0h3m2 0h1m2 0h1m5 0h1m8 0h1m10 0h1m3 0h1m3 0h1m7 0h1m5 0h1m4 0h1m35 0h1m14 0h1m-144 1h1m2 0h1m3 0h1m2 0h1m16 0h1m1 0h1m3 0h1m10 0h1m13 0h2m10 0h1m5 0h1m13 0h1m-83 1h1m1 0h1m5 0h1m9 0h1m7 0h1m24 0h1m4 0h1m4 0h1m6 0h1m12 0h1m8 0h1m19 0h1m-126 1h1m9 0h1m3 0h1m6 0h1m2 0h1m13 0h1m2 0h1m14 0h1m5 0h1m9 0h2m5 0h1m60 0h1m9 0h1m-114 1h1m1 0h1m1 0h1m10 0h2m6 0h1m3 0h1m10 0h1m10 0h1m19 0h1m3 0h1m9 0h1m19 0h1m-136 1h1m4 0h1m1 0h1m5 0h1m5 0h1m9 0h1m7 0h1m16 0h1m3 0h1m2 0h1m17 0h1m13 0h1m2 0h1m-92 1h1m18 0h1m6 0h1m2 0h1m28 0h1m4 0h2m5 0h1m1 0h1m13 0h2m14 0h1m27 0h1m-131 1h1m1 0h1m16 0h1m2 0h1m8 0h3m18 0h1m6 0h1m6 0h1m20 0h1m3 0h2m5 0h1m41 0h1m-130 1h1m3 0h1m1 0h1m7 0h1m11 0h1m1 0h1m27 0h1m5 0h1m10 0h2m8 0h1m11 0h1m3 0h1m14 0h1m9 0h1m-136 1h1m13 0h1m26 0h1m11 0h1m26 0h1m17 0h1m-105 1h1m3 0h2m8 0h1m18 0h1m3 0h1m4 0h1m29 0h1m6 0h1m8 0h1m1 0h1m-69 1h1m2 0h2m9 0h1m2 0h1m5 0h1m19 0h1m2 0h1m4 0h1m3 0h3m3 0h1m8 0h1m7 0h1m-105 1h1m38 0h1m8 0h1m4 0h1m15 0h2m19 0h1m6 0h1m7 0h1m2 0h1m7 0h1m23 0h1m-141 1h2m3 0h1m28 0h1m2 0h1m1 0h1m4 0h1m2 0h1m18 0h3m2 0h1m28 0h1m1 0h1m1 0h2m2 0h1m3 0h1m-113 1h1m25 0h1m20 0h3m13 0h1m1 0h1m10 0h1m2 0h1m11 0h1m3 0h1m8 0h1m11 0h1m23 0h1m-141 1h1m8 0h1m7 0h1m4 0h1m3 0h1m5 0h1m7 0h1m8 0h1m1 0h1m10 0h1m27 0h1m6 0h1m12 0h1m5 0h1m-117 1h1m14 0h1m12 0h1m8 0h1m17 0h2m2 0h1m3 0h1m1 0h1m2 0h1m4 0h1m1 0h1m6 0h1m14 0h1m7 0h1m44 0h1m-125 1h1m1 0h1m8 0h1m1 0h1m15 0h1m12 0h1m27 0h1m2 0h1m12 0h1m5 0h1m-113 1h1m6 0h1m8 0h1m3 0h1m18 0h1m10 0h1m4 0h2m11 0h1m5 0h1m9 0h2m20 0h1m-113 1h1m11 0h1m33 0h1m15 0h1m5 0h1m1 0h1m13 0h1m1 0h1m3 0h2m1 0h1m3 0h1m3 0h1m3 0h2m38 0h1m-146 1h1m2 0h1m2 0h1m2 0h1m7 0h1m14 0h1m6 0h1m1 0h1m4 0h1m6 0h1m2 0h1m5 0h1m7 0h1m4 0h1m11 0h2m4 0h1m5 0h2m3 0h1m-95 1h1m2 0h1m11 0h1m5 0h2m2 0h1m8 0h1m7 0h1m2 0h1m6 0h1m14 0h1m5 0h1m15 0h1m2 0h1m5 0h1m7 0h1m-113 1h1m2 0h1m8 0h1m1 0h1m6 0h1m3 0h1m30 0h2m8 0h1m22 0h1m12 0h1m3 0h1m3 0h1m-115 1h1m6 0h1m2 0h1m6 0h1m7 0h1m1 0h1m4 0h1m5 0h1m8 0h1m14 0h1m2 0h1m9 0h1m7 0h1m6 0h1m8 0h1m5 0h2m3 0h1m29 0h1m-136 1h1m14 0h1m7 0h1m9 0h2m1 0h1m1 0h2m4 0h1m10 0h2m12 0h1m5 0h1m20 0h1m2 0h1m5 0h1m7 0h1m1 0h1m4 0h1m24 0h1m-145 1h1m19 0h2m2 0h1m4 0h1m15 0h1m6 0h1m29 0h2m12 0h1m15 0h1m-103 1h1m3 0h1m1 0h1m2 0h1m1 0h1m13 0h1m22 0h1m9 0h1m2 0h1m9 0h1m2 0h1m1 0h1m21 0h1m-108 1h2m4 0h1m13 0h1m18 0h1m15 0h1m17 0h1m6 0h2m1 0h2m1 0h1m3 0h1m1 0h2m1 0h1m15 0h1m-114 1h1m5 0h1m5 0h1m2 0h1m6 0h1m10 0h1m14 0h1m24 0h1m2 0h1m14 0h1m3 0h1m19 0h1m9 0h1m19 0h1m-143 1h1m2 0h1m1 0h1m9 0h1m16 0h1m1 0h1m6 0h1m15 0h1m11 0h1m2 0h1m7 0h1m1 0h1m-90 1h1m9 0h1m2 0h1m16 0h1m1 0h1m10 0h1m3 0h1m12 0h1m10 0h1m13 0h1m1 0h1m10 0h1m4 0h2m4 0h1m29 0h1m-136 1h1m5 0h1m28 0h2m8 0h1m29 0h1m5 0h1m5 0h1m4 0h1m14 0h1m-96 1h1m15 0h1m3 0h2m6 0h2m13 0h1m9 0h1m14 0h1m-81 1h1m3 0h1m5 0h1m1 0h1m2 0h2m1 0h1m10 0h1m12 0h1m1 0h1m2 0h1m1 0h2m2 0h1m6 0h1m11 0h1m3 0h1m21 0h3m4 0h1m14 0h1m-99 1h1m9 0h1m11 0h1m16 0h1m11 0h1m41 0h1m9 0h1m-131 1h1m1 0h1m12 0h1m6 0h1m8 0h1m17 0h1m13 0h1m5 0h1m2 0h1m1 0h1m3 0h1m3 0h1m2 0h1m1 0h1m5 0h1m24 0h1m16 0h1m-136 1h1m26 0h1m12 0h1m11 0h1m1 0h1m3 0h1m5 0h1m1 0h1m20 0h1m15 0h2m20 0h1m9 0h1m9 0h1m-146 1h2m11 0h1m18 0h1m5 0h1m4 0h1m11 0h1m6 0h1m21 0h1m12 0h1m10 0h1m1 0h1m-111 1h1m28 0h2m20 0h1m20 0h1m7 0h1m1 0h1m18 0h1m10 0h1m12 0h1m-125 1h1m5 0h1m2 0h1m3 0h1m1 0h1m11 0h1m5 0h1m1 0h1m16 0h1m10 0h1m1 0h1m5 0h1m3 0h1m4 0h3m24 0h1m1 0h1m7 0h1m26 0h1m4 0h1m-139 1h1m6 0h1m2 0h1m7 0h1m2 0h1m3 0h1m8 0h1m1 0h1m3 0h1m9 0h2m4 0h2m12 0h1m14 0h1m4 0h1m2 0h1m6 0h1m7 0h1m-121 1h1m12 0h1m21 0h1m1 0h1m13 0h1m6 0h2m4 0h1m11 0h2m1 0h1m21 0h1m23 0h1m4 0h1m-131 1h1m3 0h1m8 0h1m5 0h1m1 0h1m7 0h1m2 0h1m6 0h1m4 0h1m10 0h1m10 0h1m10 0h1m7 0h1m30 0h1m3 0h1m-121 1h1m8 0h1m6 0h1m7 0h1m14 0h1m2 0h1m2 0h1m17 0h1m4 0h1m5 0h1m3 0h2m7 0h1m1 0h1m10 0h1m4 0h1m6 0h1m-110 1h1m2 0h2m11 0h1m5 0h1m6 0h1m16 0h1m3 0h1m13 0h1m5 0h1m4 0h1m13 0h2m4 0h1m3 0h1m1 0h1m1 0h1m-102 1h1m2 0h1m6 0h1m4 0h1m4 0h1m3 0h1m4 0h1m3 0h1m5 0h1m2 0h1m4 0h1m5 0h1m6 0h1m17 0h1m10 0h1m19 0h1m35 0h1m-141 1h1m1 0h1m6 0h1m10 0h2m8 0h1m27 0h1m2 0h1m1 0h2m8 0h1m1 0h3m1 0h1m26 0h1m8 0h1"/>
<path stroke="#482475" d="M53 17h1m-20 6h1m85 2h1m19 0h1m-125 2h1m10 0h1m24 0h1m61 0h1m20 0h1m-126 1h1m10 0h1m1 0h2m10 0h1m13 0h1m29 0h1m7 0h1m4 0h1m37 0h1m4 0h1m-128 1h1m25 0h1m7 0h1m9 0h1m9 0h1m4 0h1m5 0h1m3 0h1m14 0h2m2 0h1m2 0h1m16 0h1m-101 1h2m9 0h2m12 0h1m7 0h2m13 0h1m9 0h1m14 0h1m3 0h2m50 0h1m4 0h1m-149 1h1m19 0h1m26 0h2m5 0h1m3 0h1m3 0h1m5 0h2m5 0h1m4 0h1m4 0h1m4 0h1m2 0h1m9 0h1m-100 1h1m12 0h1m17 0h1m1 0h1m9 0h1m5 0h1m24 0h1m2 0h2m1 0h1m6 0h1m-88 1h1m6 0h1m1 0h1m8 0h1m13 0h1m3 0h1m2 0h1m2 0h1m5 0h2m1 0h1m7 0h1m6 0h1m1 0h1m1 0h1m7 0h1m4 0h1m4 0h1m23 0h1m1 0h1m-98 1h1m18 0h1m13 0h1m18 0h1m10 0h1m48 0h1m9 0h1m-128 1h1m17 0h1m1 0h2m39 0h1m30 0h1m5 0h1m1 0h1m-119 1h1m23 0h1m38 0h1m6 0h2m19 0h1m24 0h1m-117 1h1m3 0h1m3 0h1m26 0h1m8 0h1m19 0h1m5 0h1m1 0h1m2 0h1m28 0h1m45 0h1m-137 1h1m4 0h2m5 0h1m2 0h1m2 0h1m17 0h1m11 0h1m3 0h1m3 0h1m4 0h1m13 0h1m5 0h1m2 0h1m36 0h1m4 0h1m-135 1h1m4 0h1m1 0h1m9 0h1m9 0h2m3 0h1m2 0h1m30 0h1m6 0h1m15 0h1m34 0h1m9 0h1m-135 1h1m1 0h1m21 0h1m1 0h2m1 0h1m80 0h1m8 0h1m24 0h1m-138 1h1m4 0h1m6 0h1m28 0h1m31 0h1m2 0h1m5 0h1m-74 1h1m3 0h1m27 0h1m8 0h1m1 0h1m9 0h1m9 0h1m12 0h1m6 0h1m6 0h1m27 0h1m-135 1h1m42 0h1m1 0h1m10 0h1m41 0h1m-103 1h1m6 0h1m1 0h1m2 0h1m62 0h1m15 0h1m5 0h1m3 0h1m10 0h1m-113 1h1m2 0h1m32 0h1m25 0h1m2 0h1m12 0h1m16 0h1m3 0h1m4 0h1m-95 1h1m14 0h1m11 0h1m3 0h2m42 0h1m9 0h1m-44 1h1m3 0h1m3 0h1m-61 1h1m5 0h1m13 0h1m14 0h1m2 0h1m5 0h1m6 0h2m3 0h1m17 0h1m4 0h1m12 0h1m4 0h1m50 0h1m-140 1h1m35 0h1m17 0h1m1 0h1m8 0h1m13 0h1m7 0h1m3 0h1m13 0h1m-97 1h1m18 0h1m1 0h1m2 0h1m3 0h1m13 0h1m4 0h1m20 0h1m13 0h1m1 0h1m-95 1h1m2 0h1m31 0h1m6 0h1m7 0h1m32 0h1m14 0h1m-98 1h1m11 0h1m15 0h1m16 0h1m8 0h1m14 0h1m9 0h1m2 0h1m4 0h1m2 0h1m16 0h1m-118 1h1m3 0h1m31 0h1m18 0h1m2 0h1m2 0h1m2 0h1m13 0h1m18 0h1m2 0h1m28 0h1m-113 1h1m3 0h1m22 0h1m4 0h1m11 0h1m21 0h1m17 0h1m47 0h1m-146 1h2m6 0h1m16 0h1m4 0h1m9 0h1m9 0h2m2 0h1m21 0h2m1 0h1m8 0h1m8 0h2m-96 1h1m50 0h1m5 0h4m3 0h1m4 0h1m9 0h1m1 0h1m4 0h1m2 0h1m-89 1h1m10 0h1m19 0h1m16 0h1m8 0h1m8 0h1m20 0h1m17 0h1m35 0h1m-145 1h1m27 0h1m21 0h1m1 0h1m1 0h1m36 0h1m8 0h1m5 0h1m27 0h1m-141 1h1m18 0h1m6 0h1m11 0h1m2 0h1m18 0h2m6 0h1m6 0h1m2 0h2m13 0h1m2 0h1m-75 1h1m12 0h2m6 0h1m10 0h1m4 0h1m19 0h1m2 0h1m9 0h1m23 0h1m18 0h1m-127 1h1m10 0h1m6 0h1m1 0h1m14 0h1m3 0h1m12 0h1m12 0h1m12 0h1m9 0h1m-92 1h1m8 0h1m30 0h1m10 0h1m9 0h1m20 0h1m10 0h1m-85 1h1m8 0h1m11 0h1m4 0h1m13 0h1m14 0h1m23 0h1m1 0h1m2 0h1m-87 1h1m26 0h1m28 0h1m3 0h1m23 0h1m32 0h1m-93 1h1m19 0h1m2 0h1m11 0h1m66 0h1m-131 1h1m17 0h1m2 0h2m2 0h1m8 0h1m26 0h1m17 0h1m3 0h1m36 0h1m9 0h1m-129 1h1m4 0h1m7 0h1m1 0h1m1 0h1m7 0h1m12 0h1m20 0h1m2 0h1m16 0h1m5 0h1m4 0h1m1 0h1m-100 1h1m5 0h1m5 0h1m9 0h1m1 0h1m14 0h1m24 0h1m7 0h1m26 0h1m-103 1h1m1 0h1m8 0h1m10 0h1m8 0h1m1 0h1m2 0h1m21 0h2m8 0h1m8 0h1m9 0h1m26 0h1m-98 1h1m12 0h1m3 0h1m10 0h2m11 0h1m13 0h1m13 0h1m15 0h1m20 0h1m4 0h1m-130 1h1m12 0h1m1 0h1m23 0h1m20 0h1m10 0h1m9 0h1m67 0h1m-144 1h1m12 0h2m4 0h1m14 0h1m6 0h1m16 0h1m14 0h1m14 0h1m4 0h1m7 0h1m9 0h1m-117 1h1m19 0h1m25 0h1m19 0h1m6 0h1m1 0h1m17 0h1m1 0h1m-83 1h2m5 0h1m13 0h1m6 0h1m10 0h1m5 0h1m8 0h1m3 0h1m19 0h1m3 0h1m7 0h1m-103 1h1m1 0h1m3 0h2m11 0h1m3 0h1m13 0h1m15 0h1m1 0h1m5 0h1m17 0h2m8 0h1m6 0h1m40 0h1m-136 1h1m10 0h1m16 0h1m4 0h1m7 0h1m15 0h1m6 0h1m10 0h1m4 0h1m3 0h1m26 0h1m-101 1h1m7 0h1m21 0h1m13 0h1m1 0h1m16 0h1m15 0h1m16 0h1m22 0h1m9 0h1m-142 1h1m27 0h1m1 0h1m1 0h1m26 0h1m3 0h1m42 0h1m3 0h1m-109 1h1m15 0h1m1 0h1m8 0h1m3 0h2m1 0h1m7 0h3m16 0h1m9 0h1m30 0h1m5 0h1m-112 1h1m28 0h1m5 0h1m7 0h1m2 0h1m1 0h1m8 0h1m1 0h1m12 0h1m3 0h1m24 0h1m-85 1h1m19 0h3m13 0h1m2 0h1m28 0h1m2 0h1m2 0h1m19 0h1m-93 1h1m20 0h1m22 0h1m32 0h1m14 0h1m-107 1h1m4 0h1m32 0h1m2 0h1m11 0h1m29 0h1m1 0h1m-75 1h1m15 0h1m16 0h1m9 0h1m31 0h2m4 0h1m24 0h1m-120 1h1m16 0h1m11 0h1m3 0h1m1 0h1m19 0h1m22 0h1m29 0h1m-114 1h1m8 0h2m2 0h1m9 0h1m21 0h1m15 0h1m14 0h1m15 0h1m7 0h1m1 0h1m21 0h1m-118 1h1m55 0h1m7 0h1m18 0h1m3 0h1m34 0h1m-128 1h1m1 0h1m3 0h1m1 0h1m11 0h1m32 0h1m8 0h1m28 0h1m4 0h1m20 0h1m4 0h1m24 0h1m-139 1h2m29 0h1m2 0h1m11 0h1m45 0h1m1 0h1m9 0h1m3 0h1m-113 1h2m21 0h1m9 0h1m1 0h2m8 0h1m49 0h1m14 0h1m-105 1h2m12 0h1m10 0h1m42 0h1m3 1h1m17 0h1m9 0h1m-110 1h1m4 0h1m5 0h1m1 0h1m13 0h1m3 0h1m19 0h1m1 0h1m13 0h1m20 0h1m3 0h1m-89 1h1m5 0h1m11 0h1m4 0h1m1 0h1m33 0h1m1 0h1m10 0h1m9 0h1m1 0h2m3 0h1m15 0h1m-96 1h1m30 0h1m28 0h1m7 0h1m13 0h1m10 0h1m3 0h1m8 0h1m4 0h1m-126 1h1m4 0h1m17 0h1m10 0h1m80 0h1m29 0h1m-121 1h1m10 0h1m7 0h1m3 0h1m5 0h1m30 0h1m5 0h2m4 0h1m5 0h1m-105 1h1m14 0h1m5 0h1m11 0h1m21 0h1m14 0h1m13 0h1m-89 1h1m27 0h1m2 0h1m11 0h1m3 0h2m7 0h1m33 0h1m7 0h1m4 0h1m-75 1h1m1 0h1m3 0h1m10 0h1m58 0h1m-103 1h1m27 0h1m6 0h1m7 0h1m9 0h1m14 0h1m9 0h1m2 0h1m33 0h1m26 0h1m-143 1h1m3 0h1m4 0h1m2 0h1m3 0h1m3 0h1m10 0h1m8 0h1m2 0h1m16 0h1m11 0h1m18 0h1m-72 1h1m1 0h1m11 0h1m15 0h1m18 0h1m7 0h1m16 0h1m8 0h1m-91 1h1m2 0h1m4 0h1m25 0h1m5 0h1m13 0h1m4 0h1m1 0h1m9 0h1m6 0h1m4 0h1m5 0h1m-69 1h1m11 0h1m22 0h1m21 0h1m2 0h1m6 0h1m25 0h1m-131 1h1m29 0h1m26 0h1m14 0h1m15 0h1m9 0h1m41 0h1m-127 1h1m27 0h1m5 0h1m1 0h1m10 0h2m4 0h1m20 0h1m-88 1h1m30 0h1m12 0h1m5 0h1m42 0h1m50 0h1m-121 1h2m11 0h1m21 0h1m15 0h1m2 0h1m30 0h1m-102 1h1m27 0h1m5 0h1m8 0h1m5 0h1m1 0h1m9 0h1m7 0h1m1 0h1m4 0h1m8 0h1m21 0h1m-107 1h1m5 0h1m2 0h1m33 0h1m24 0h1m16 0h2m43 0h1m9 0h1m-145 1h1m23 0h1m8 0h1m29 0h2m4 0h2m17 0h1m7 0h1m3 0h1m9 0h1m-112 1h1m1 0h1m20 0h1m11 0h1m6 0h1m3 0h2m12 0h1m2 0h1m18 0h1m15 0h1m4 0h1m5 0h1m5 0h1m-96 1h1m14 0h1m21 0h1m8 0h1m18 0h1m12 0h1m4 0h1m11 0h1m14 0h1m-125 1h1m4 0h1m4 0h1m28 0h1m43 0h1m9 0h1m9 0h1m3 0h1m21 0h1m-85 1h1m24 0h1m4 0h1m11 0h1m41 0h1m9 0h1m-144 1h1m5 0h1m15 0h1m3 0h1m4 0h1m5 0h2m2 0h1m13 0h1m18 0h1m18 0h1m5 0h1m38 0h1m-143 1h2m4 0h1m6 0h1m10 0h1m29 0h1m2 0h1m4 0h1m18 0h1m9 0h1m4 0h1m-78 1h1m1 0h1m21 0h1m6 0h1m39 0h1m-88 1h1m17 0h2m2 0h1m15 0h1m2 0h1m16 0h3m5 0h1m20 0h1m-78 1h1m7 0h1m23 0h1m2 0h2m15 0h1m7 0h1m3 0h1m18 0h1m-95 1h1m47 0h1m2 0h2m12 0h1m6 0h1m19 0h1m20 0h1m16 0h1m9 0h1m-93 1h1m8 0h1m16 0h1m8 0h1m17 0h1m38 0h1m-128 1h1m54 0h1m3 0h1m-69 1h1m2 0h2m6 0h1m12 0h1m9 0h1m16 0h1m22 0h1m1 0h1m1 0h1m10 0h1m-60 1h1m22 0h1m26 0h1m2 0h1m1 0h1m2 0h1m18 0h1m8 0h1m-119 1h2m2 0h1m30 0h1m25 0h1m5 0h2m5 0h1m1 0h2m4 0h1m1 0h1m1 0h1m5 0h2m7 0h1m1 0h1m-104 1h1m9 0h1m24 0h1m16 0h1m9 0h1m27 0h1m2 0h1m-85 1h1m13 0h1m4 0h1m17 0h1m3 0h1m31 0h2m15 0h1m-95 1h1m1 0h1m18 0h1m4 0h1m2 0h1m7 0h1m3 0h1m15 0h1m5 0h1m4 0h1m7 0h1m11 0h1m9 0h1m-107 1h1m22 0h1m1 0h1m25 0h2m29 0h1m5 0h1m57 0h1m-147 1h1m34 0h1m10 0h1m14 0h1m1 0h1m29 0h1m22 0h1m-121 1h1m5 0h2m2 0h1m20 0h2m32 0h1m4 0h1m11 0h1m3 0h1m3 0h1m4 0h2m15 0h1m-113 1h1m27 0h1m26 0h1m7 0h1m9 0h3m-56 1h1m1 0h1m10 0h2m12 0h1m5 0h1m9 0h1m12 0h1m21 0h1m41 0h1m-137 1h1m19 0h1m36 0h1m5 0h1m4 0h1m11 0h2m9 0h1m1 0h1m2 0h1m11 0h1m7 0h1m29 0h1m-148 1h1m20 0h1m10 0h1m4 0h1m15 0h2m4 0h1m10 0h1m20 0h1m15 0h1m14 0h1m9 0h1m-118 1h1m26 0h1m11 0h1m12 0h1m1 0h1m12 0h1m39 0h1m14 0h1m-125 1h1m16 0h1m13 0h2m17 0h1m45 0h1m12 0h1m9 0h1m-119 1h1m22 0h1m2 0h1m2 0h1m36 0h1m6 0h1m9 0h1m4 0h1m-97 1h1m6 0h1m6 0h1m35 0h1m2 0h1m10 0h1m20 0h1m2 0h1m7 0h2m9 0h1m-115 1h1m7 0h1m1 0h1m1 0h1m5 0h1m14 0h1m12 0h1m4 0h1m11 0h1m11 0h1m2 0h1m1 0h1m3 0h1m7 0h1m-95 1h1m9 0h1m7 0h2m3 0h1m13 0h1m5 0h1m2 0h1m4 0h1m4 0h1m30 0h2m-84 1h1m11 0h1m13 0h1m17 0h1m7 0h1m8 0h1m63 0h1m4 0h1m14 0h1m-146 1h1m25 0h1m5 0h1m21 0h1m33 0h1m3 0h1m5 0h1m4 0h1m-107 1h1m14 0h1m21 0h2m7 0h1m6 0h2m2 0h1m9 0h1m19 0h1m40 0h1m-55 1h2m42 0h1m14 0h1m-128 1h1m24 0h2m1 0h1m5 0h1m22 0h1m3 0h1m15 0h1m5 0h1m7 0h1m16 0h1m28 0h1m-132 1h1m27 0h1m29 0h1m21 0h1m3 0h1m5 0h1m-60 1h1m17 0h1m15 0h1m3 0h2m4 0h1m3 0h1m9 0h1m-102 1h1m1 0h1m7 0h1m2 0h1m16 0h2m12 0h1m1 0h1m7 0h1m5 0h1m1 0h1m6 0h2m33 0h1m-107 1h1m26 0h1m5 0h1m16 0h1m3 0h1m13 0h1m9 0h1m4 0h1m4 0h1m9 0h1m31 0h1m-131 1h1m10 0h1m4 0h1m6 0h1m7 0h1m4 0h1m3 0h2m19 0h2m11 0h1m3 0h1m16 0h1m14 0h1m7 0h1m16 0h1m-136 1h1m10 0h1m2 0h1m13 0h1m8 0h1m9 0h1m28 0h1m6 0h1m11 0h1m8 0h1m-105 1h1m17 0h1m22 0h1m7 0h1m8 0h1m9 0h1m14 0h1m2 0h1m9 0h1m-97 1h1m5 0h2m4 0h1m3 0h1m2 0h1m15 0h1m5 0h1m11 0h2m10 0h1m27 0h1m2 0h1m7 0h2m-85 1h1m18 0h1m5 0h1m1 0h1m26 0h1m44 0h1m-108 1h1m26 0h1m14 0h1m11 0h1m8 0h1m25 0h1m5 0h1m-88 1h1m6 0h1m17 0h1m10 0h1m15 0h1m10 0h1m1 0h1m-58 1h1m29 0h1m10 0h1m6 0h1m26 0h1m40 0h1m-132 1h1m12 0h1m18 0h1m29 0h1m3 0h1m14 0h1m-81 1h1m18 0h1m8 0h1m7 0h2m18 0h1m8 0h1m12 0h1m8 0h3m15 0h1m-109 1h2m1 0h1m4 0h1m11 0h1m8 0h1m10 0h1m2 0h1m1 0h1m24 0h1m25 0h1m7 0h1m13 0h1m-121 1h2m2 0h1m58 0h1m5 0h1m3 0h1m4 0h1m9 0h1m-83 1h1m6 0h1m20 0h1m13 0h1m10 0h1m4 0h1m5 0h1m5 0h1m12 0h1m-34 1h1m14 0h1m-74 1h1m14 0h1m8 0h1m4 0h1m4 0h2m5 0h1m52 0h1m2 0h1m-103 1h1m4 0h1m21 0h1m13 0h1m8 0h1m12 0h1m11 0h1m2 0h1m6 0h1m13 0h1m3 0h1m9 0h1m8 0h1m-48 1h1m1 0h1m15 0h1m7 0h1m-104 1h1m9 0h1m3 0h2m3 0h1m8 0h2m44 0h1m9 0h1m5 0h1m10 0h1m3 0h1m-107 1h1m23 0h1m4 0h1m32 0h1m7 0h1m11 0h1m17 0h1m19 0h1m4 0h1m-115 1h1m11 0h1m9 0h1m13 0h1m15 0h2m14 0h2m54 0h1m-135 1h1m14 0h1m3 0h1m8 0h1m15 0h1m14 0h1m1 0h1m-44 1h1m10 0h1m14 0h1m58 0h2m-106 1h1m4 0h1m11 0h1m1 0h1m44 0h1m34 0h1m6 0h1m-70 1h1m10 0h1m12 0h2m5 0h1m17 0h1m1 0h1m9 0h1m31 0h1m14 0h1m-145 1h1m3 0h1m41 0h1m33 0h1m14 0h1m48 0h1m-139 1h1m1 0h1m9 0h1m17 0h1m21 0h1m2 0h1m1 0h1m1 0h1m1 0h1m15 0h1m3 0h1m19 0h1m26 0h1m-136 1h1m4 0h1m27 0h1m15 0h1m12 0h1m8 0h1m6 0h1m4 0h1m7 0h1m22 0h1m20 0h1m-111 1h1m1 0h2m20 0h1m5 0h1m6 0h1m13 0h1m14 0h1m14 0h1m-91 1h1m20 0h1m5 0h2m15 0h1m8 0h1m7 0h1m4 0h1m35 0h1m-118 1h1m7 0h1m8 0h1m2 0h1m1 0h1m3 0h1m6 0h1m12 0h1m1 0h1m11 0h1m9 0h1m2 0h2m4 0h2m19 0h1m16 0h1m-119 1h1m16 0h1m4 0h1m30 0h1m11 0h3m37 0h1m12 0h1m-119 1h1m1 0h1m7 0h1m4 0h1m4 0h1m8 0h1m14 0h1m7 0h1m16 0h1m23 0h1m31 0h1m-89 1h1m2 0h1m4 0h1m17 0h1m11 0h1m4 0h1m19 0h1m-78 1h1m39 0h1m32 0h1m-83 1h1m6 0h2m7 0h1m13 0h1m34 0h1m3 0h1m3 0h1m1 0h1m45 0h1m-96 1h2m9 0h1m1 0h1m25 0h1m3 0h2m6 0h2m10 0h1m-93 1h1m5 0h1m88 0h1m9 0h1m-116 1h1m9 0h1m7 0h1m5 0h1m2 0h1m21 0h1m6 0h1m1 0h1m2 0h1m3 0h1m2 0h1m33 0h1m12 0h1m8 0h1m-107 1h1m9 0h1m20 0h1m8 0h1m18 0h1m14 0h1m5 0h1m2 0h1m7 0h1m5 0h1m-93 1h1m1 0h1m11 0h1m9 0h1m1 0h1m1 0h1m6 0h1m1 0h1m2 0h1m10 0h1m7 0h1m4 0h1m1 0h1m7 0h1m3 0h1m22 0h1m9 0h1m-121 1h2m9 0h1m4 0h1m11 0h2m3 0h1m20 0h1m23 0h1m1 0h1m1 0h2m3 0h1m1 0h1m5 0h1m-111 1h1m21 0h1m23 0h1m31 0h1m4 0h1m10 0h1m-52 1h1m27 0h1m9 0h2m9 0h1m4 0h2m13 0h1m3 0h1m-113 1h1m19 0h1m32 0h2m4 0h1m3 0h1m7 0h1m5 0h1m10 0h1m6 0h1m-77 1h2m1 0h1m11 0h2m12 0h1m1 0h1m1 0h1m1 0h1m5 0h1m40 0h1m10 0h1m-109 1h1m2 0h1m9 0h1m13 0h1m6 0h1m4 0h1m12 0h1m5 0h1m3 0h1m5 0h1m13 0h1m10 0h1m-98 1h1m10 0h1m16 0h1m4 0h1m11 0h1m53 0h1m-101 1h1m30 0h1m8 0h1m3 0h1m3 0h1m16 0h1m10 0h1m-80 1h1m11 0h1m3 0h1m3 0h1m20 0h1m5 0h1m14 0h1m24 0h3m2 0h1m11 0h1m1 0h1m43 0h1m-141 1h1m18 0h1m30 0h1m3 0h1m8 0h1m44 0h1m-117 1h2m11 0h1m20 0h1m42 0h1m6 0h1m10 0h1m18 0h1m8 0h1m-121 1h1m1 0h1m15 0h2m27 0h1m11 0h3m14 0h1m8 0h1m12 0h1m1 0h1m12 0h1m26 0h1m-145 1h1m31 0h1m28 0h2m4 0h1m17 0h1m12 0h1m3 0h1m16 0h1m-120 1h1m43 0h1m9 0h1m11 0h1m10 0h1m17 0h1m1 0h1m-99 1h1m34 0h1m3 0h1m6 0h1m2 0h1m17 0h1m31 0h1m50 0h1m-151 1h1m64 0h1m23 0h1m16 0h1m-107 1h1m6 0h1m8 0h1m24 0h1m9 0h1m6 0h1m6 0h1m9 0h2m7 0h1m25 0h1m14 0h1m-119 1h1m1 0h1m5 0h1m27 0h1m18 0h1m15 0h1m6 0h1m2 0h2m9 0h1m1 0h1m2 0h1m5 0h1m-84 1h1m6 0h1m4 0h1m17 0h1m27 0h1m10 0h3m-91 1h1m7 0h1m2 0h1m12 0h1m9 0h1m10 0h1m2 0h1m17 0h1m14 0h1m8 0h1m19 0h1m-102 1h1m7 0h1m4 0h1m15 0h2m12 0h1m3 0h1m9 0h2m3 0h1m3 0h1m5 0h1m1 0h1m28 0h1m-121 1h1m5 0h1m12 0h1m16 0h1m21 0h1m7 0h1m-67 1h1m31 0h2m12 0h1m38 0h1m19 0h1m34 0h1m-141 1h1m19 0h1m16 0h1m7 0h1m9 0h1m1 0h2m6 0h1m37 0h1m1 0h1m-103 1h1m1 0h1m6 0h1m33 0h1m3 0h1m2 0h1m4 0h1m25 0h1m4 0h1m1 0h1m11 0h1m31 0h1m-136 1h1m12 0h1m8 0h1m23 0h1m8 0h1m8 0h1m1 0h1m14 0h1m2 0h1m35 0h1m14 0h1m14 0h1m-142 1h1m22 0h1m11 0h1m7 0h1m2 0h1m21 0h1m5 0h1m1 0h2m6 0h1m3 0h1m4 0h1m1 0h1m35 0h1m-127 1h1m22 0h1m3 0h1m4 0h1m16 0h1m24 0h1m4 0h1m12 0h1m33 0h1m-136 1h1m1 0h1m13 0h1m5 0h1m20 0h1m15 0h1m7 0h1m6 0h1m3 0h1m-72 1h1m3 0h1m19 0h1m16 0h1m1 0h1m26 0h1m8 0h1m9 0h1m-95 1h1m3 0h1m27 0h1m5 0h1m6 0h1m11 0h1m12 0h2m9 0h1m4 0h1m6 0h1m-101 1h1m11 0h1m2 0h1m48 0h1m7 0h1m3 0h1m7 0h1m3 0h1m5 0h1m7 0h1m5 0h1m-105 1h1m13 0h1m19 0h1m2 0h1m24 0h2m6 0h1m14 0h1m55 0h1m-128 1h2m10 0h1m40 0h1m14 0h1m21 0h1m3 0h1m1 0h1m10 0h1m24 0h1m-144 1h1m11 0h1m10 0h1m1 0h1m12 0h1m39 0h1m5 0h1m11 0h1m-101 1h1m2 0h1m6 0h1m8 0h1m8 0h1m19 0h1m14 0h1m4 0h1m2 0h1m14 0h3m20 0h1m5 0h1m16 0h1m-130 1h1m30 0h1m3 0h1m13 0h1m23 0h2m6 0h1m13 0h1m1 0h1m-91 1h1m16 0h1m10 0h1m56 0h1m51 0h1m-104 1h1m19 0h1m15 0h1m19 0h1m6 0h1m-87 1h1m3 0h1m24 0h2m2 0h1m2 0h1m14 0h1m21 0h1m7 0h1m2 0h1m31 0h1m-107 1h1m3 0h1m8 0h1m6 0h1m1 0h1m9 0h1m1 0h1m19 0h1m13 0h1m-103 1h1m6 0h1m8 0h1m3 0h1m3 0h1m6 0h1m5 0h1m17 0h1m5 0h1m37 0h1m40 0h1m-113 1h1m6 0h1m2 0h1m3 0h1m19 0h1m10 0h1m15 0h1m6 0h1m-80 1h1m22 0h1m25 0h1m41 0h1m36 0h1m4 0h1m-136 1h1m11 0h1m3 0h1m1 0h1m27 0h1m16 0h1m3 0h1m12 0h1m9 0h1m34 0h1m-139 1h2m12 0h1m10 0h1m12 0h1m28 0h1m6 0h3m31 0h1m-108 1h1m4 0h1m4 0h1m7 0h1m19 0h1m20 0h1m20 0h1m4 0h1m31 0h1m24 0h1m-126 1h1m4 0h1m51 0h1m72 0h1m-139 1h2m55 0h1m11 0h1m8 0h1m-91 1h1m46 0h2m6 0h1m13 0h1m10 0h1m16 0h1m14 0h1m3 0h1m-113 1h3m9 0h1m12 0h1m17 0h1m6 0h1m6 0h1m2 0h1m1 0h1m2 0h2m11 0h1m-67 1h1m18 0h1m9 0h1m4 0h1m1 0h1m9 0h2m1 0h1m-63 1h1m58 0h1m32 0h1m3 0h1m5 0h1m-93 1h1m21 0h2m25 0h1m14 0h1m2 0h1m2 0h1m18 0h2m41 0h1m-119 1h3m18 0h1m2 0h1m13 0h1m1 0h1m12 0h1m9 0h1m6 0h1m22 0h1m-120 1h1m1 0h1m13 0h1m1 0h2m10 0h1m7 0h1m17 0h1m3 0h1m3 0h1m14 0h1m1 0h1m1 0h1m50 0h1m-126 1h1m17 0h1m5 0h1m13 0h1m18 0h1m9 0h1m1 0h2m9 0h1m11 0h2m-97 1h1m2 0h2m2 0h1m4 0h1m26 0h1m25 0h3m-61 1h1m2 0h1m25 0h1m17 0h1m29 0h1m5 0h1m2 0h1m2 0h1m-102 1h1m7 0h1m2 0h1m7 0h1m11 0h2m1 0h1m29 0h1m18 0h1m-73 1h1m2 0h1m36 0h1m8 0h1m29 0h1m6 0h1m3 0h1m1 0h1m8 0h1m3 0h1m-94 1h1m25 0h1m15 0h1m7 0h1m8 0h1m1 0h1m18 0h1m-100 1h1m5 0h1m6 0h1m19 0h1m2 0h1m4 0h1m15 0h1m3 0h1m2 0h1m1 0h1m1 0h2m10 0h2m17 0h1m4 0h1m29 0h1m-102 1h1m2 0h1m12 0h1m5 0h1m21 0h1m7 0h1m53 0h1m-107 1h1m4 0h1m6 0h1m3 0h1m5 0h2m1 0h1m2 0h1m3 0h1m5 0h1m3 0h1m10 0h2m10 0h1m13 0h1m-119 1h1m3 0h1m3 0h1m12 0h1m19 0h1m15 0h1m20 0h1m2 0h1m-82 1h1m9 0h1m3 0h1m3 0h1m2 0h1m7 0h1m5 0h1m3 0h3m11 0h1m3 0h1m1 0h1m21 0h1m10 0h1m2 0h1m-96 1h1m6 0h1m39 0h1m5 0h1m21 0h1m15 0h1m48 0h1m-141 1h1m2 0h1m7 0h1m18 0h1m16 0h1m3 0h1m3 0h1m8 0h1m29 0h2m-91 1h1m20 0h1m24 0h1m2 0h1m4 0h1m35 0h1m44 0h1m-115 1h1m10 0h2m2 0h1m4 0h1m1 0h1m1 0h1m16 0h1m14 0h2m9 0h1m11 0h1m-66 1h1m9 0h1m4 0h1m15 0h1m10 0h1m4 0h1m8 0h1m3 0h1m1 0h1m17 0h1m-116 1h1m17 0h1m16 0h1m12 0h1m1 0h1m25 0h1m6 0h1m16 0h1m29 0h1m-127 1h1m2 0h1m9 0h1m11 0h1m49 0h1m6 0h2m12 0h1m24 0h1m-121 1h1m13 0h1m5 0h1m3 0h1m8 0h1m1 0h1m10 0h1m4 0h2m6 0h2m3 0h1m20 0h1m2 0h1m31 0h1m-115 1h1m23 0h1m34 0h1m9 0h1m8 0h1m11 0h1m28 0h1m4 0h1m-140 1h1m19 0h1m10 0h1m1 0h1m9 0h1m6 0h1m8 0h1m8 0h1m2 0h1m3 0h1m3 0h1m4 0h1m6 0h1m-85 1h1m4 0h1m2 0h1m3 0h1m2 0h1m36 0h1m18 0h1m3 0h1m5 0h2m-87 1h1m28 0h1m4 0h1m4 0h1m3 0h1m22 0h1m26 0h1m6 0h2m-92 1h1m25 0h1m4 0h2m6 0h1m2 0h1m24 0h1m23 0h1m-105 1h1m15 0h1m7 0h1m9 0h1m9 0h1m7 0h1m1 0h1m15 0h2m10 0h1m1 0h1m9 0h1m1 0h1m16 0h1m-90 1h1m13 0h1m1 0h1m10 0h1m8 0h1m13 0h1m1 0h1m3 0h2m4 0h2m1 0h1m9 0h1m19 0h1m29 0h1m-150 1h1m14 0h2m4 0h1m17 0h1m2 0h2m27 0h1m4 0h1m15 0h1m9 0h1m6 0h1m19 0h1m-131 1h1m9 0h1m21 0h1m4 0h1m13 0h1m36 0h1m-88 1h1m14 0h1m3 0h2m17 0h1m16 0h1m32 0h1m1 0h1m1 0h1m7 0h1m-93 1h1m8 0h1m32 0h1m13 0h1m24 0h1m5 0h1m53 0h1m-131 1h1m13 0h1m3 0h1m4 0h1m9 0h1m5 0h1m17 0h1m11 0h1m4 0h1m21 0h1m-108 1h1m2 0h1m1 0h1m1 0h1m22 0h2m33 0h1m10 0h1m32 0h1m1 0h1m-121 1h1m6 0h1m1 0h1m4 0h1m29 0h1m30 0h1m20 0h1m8 0h1m10 0h1m-117 1h1m5 0h1m11 0h1m8 0h1m41 0h1m9 0h1m-78 1h1m12 0h1m59 0h1m24 0h3m-90 1h1m39 0h1m46 0h1m-90 1h1m19 0h1m4 0h1m27 0h1m27 0h1m2 0h1m14 0h1m14 0h1m-106 1h2m11 0h1m1 0h1m9 0h1m16 0h1m4 0h1m24 0h1m7 0h1m-93 1h1m21 0h1m3 0h1m10 0h1m8 0h1m13 0h1m3 0h1m4 0h1m2 0h1m10 0h1m4 0h1m-86 1h1m23 0h1m1 0h1m15 0h1m19 0h1m23 0h1m-98 1h1m1 0h1m3 0h1m10 0h1m1 0h1m12 0h1m14 0h1m31 0h1m24 0h1m3 0h1m-93 1h1m16 0h1m6 0h1m27 0h1m3 0h1m62 0h1m-118 1h1m9 0h2m26 0h1m5 0h1m43 0h1m18 0h1m-95 1h1m11 0h2m4 0h1m7 0h1m11 0h1m17 0h1m52 0h1m-135 1h1m15 0h1m25 0h1m3 0h1m15 0h1m3 0h1m6 0h1m4 0h1m27 0h1m17 0h1m-111 1h1m10 0h1m1 0h1m5 0h1m4 0h1m5 0h1m3 0h1m2 0h1m4 0h1m4 0h1m52 0h1m4 0h1m-116 1h1m47 0h1m1 0h2m23 0h1m11 0h1m3 0h1m3 0h1m14 0h1m-109 1h1m1 0h1m28 0h1m11 0h1m4 0h1m9 0h1m1 0h1m-73 1h1m5 0h1m14 0h2m4 0h2m16 0h1m12 0h1m7 0h1m23 0h1m8 0h1m12 0h1m27 0h1m-141 1h1m3 0h1m4 0h1m10 0h1m1 0h1m2 0h3m14 0h1m8 0h1m11 0h1m2 0h1m1 0h2m1 0h1m-66 1h1m42 0h1m3 0h1m1 0h1m11 0h1m5 0h1m20 0h1m7 0h1m-103 1h1m3 0h1m2 0h1m10 0h1m48 0h1m7 0h2m26 0h1m4 0h1m-109 1h1m4 0h1m17 0h1m42 0h1m8 0h1m16 0h1m15 0h1m-109 1h1m21 0h1m41 0h2m1 0h1m4 0h1m4 0h1m1 0h1m9 0h1m14 0h1m5 0h1m9 0h1m24 0h1m-146 1h1m17 0h2m4 0h1m20 0h2m6 0h1m19 0h1m8 0h1m19 0h1m27 0h1m-102 1h1m10 0h1m14 0h1m6 0h1m39 0h1m-97 1h1m11 0h1m32 0h2m13 0h1m9 0h1m17 0h1m-90 1h1m19 0h1m37 0h1m4 0h1m49 0h1m-114 1h1m9 0h1m9 0h1m2 0h1m9 0h1m4 0h1m17 0h1m13 0h1m20 0h1m4 0h1m4 0h1m7 0h1m-114 1h1m32 0h2m14 0h1m4 0h1m21 0h1m57 0h1m-123 1h1m2 0h1m5 0h1m15 0h1m7 0h1m11 0h1m20 0h1m3 0h1m7 0h1m48 0h1m-140 1h1m5 0h1m9 0h1m21 0h1m1 0h1m7 0h1m7 0h1m1 0h1m2 0h1m23 0h1m25 0h1m27 0h1m4 0h1m-146 1h1m38 0h1m3 0h1m9 0h1m2 0h1m16 0h1m10 0h1m20 0h1m8 0h1m20 0h1m-136 1h1m23 0h1m3 0h1m10 0h1m13 0h1m2 0h1m1 0h1m39 0h1m6 0h1m-106 1h1m5 0h1m6 0h1m48 0h1m9 0h1m10 0h1m8 0h1m57 0h1m-145 1h1m7 0h1m10 0h1m3 0h1m19 0h1m3 0h1m9 0h2m19 0h1m6 0h1m14 0h1m-100 1h1m23 0h1m7 0h1m15 0h1m2 0h1m17 0h1m21 0h1m46 0h1m-139 1h1m7 0h1m3 0h1m8 0h1m44 0h1m14 0h1m10 0h1m1 0h1m-100 1h1m24 0h1m4 0h1m33 0h1m2 0h1m4 0h1m12 0h1m1 0h1m9 0h1m4 0h1m-48 1h1m35 0h1m26 0h1m14 0h1m4 0h1m-123 1h1m1 0h1m7 0h1m3 0h1m6 0h1m3 0h1m28 0h1m6 0h1m55 0h1m-136 1h1m19 0h1m19 0h1m7 0h1m1 0h1m7 0h1m38 0h2m3 0h1m15 0h1m-96 1h1m7 0h1m15 0h1m5 0h1m30 0h1m16 0h1m6 0h1m-84 1h1m7 0h1m13 0h1m30 0h1m5 0h1m6 0h1m14 0h1m-107 1h1m52 0h1m5 0h1m5 0h1m15 0h1m7 0h1m5 0h1m6 0h1m2 0h1m6 0h1m7 0h1m-119 1h2m15 0h1m35 0h1m37 0h1m16 0h1m-107 1h2m15 0h1m2 0h1m3 0h1m35 0h1m14 0h1m36 0h1m3 0h1m14 0h1m-110 1h1m18 0h1m9 0h1m24 0h1m11 0h1m1 0h1m23 0h1m-87 1h1m3 0h1m14 0h1m5 0h1m16 0h1m1 0h1m10 0h2m1 0h1m11 0h1m13 0h1m23 0h1m9 0h1m-127 1h1m11 0h1m10 0h1m27 0h1m2 0h1m19 0h1m7 0h1m7 0h1m-102 1h1m8 0h1m34 0h1m4 0h1m11 0h1m12 0h1m37 0h1m14 0h1m-125 1h1m5 0h1m39 0h1m15 0h1m2 0h1m8 0h1m4 0h1m2 0h1m7 0h1m-106 1h1m17 0h1m9 0h1m2 0h1m12 0h1m16 0h1m3 0h1m7 0h1m5 0h1m15 0h1m5 0h1m-101 1h1m15 0h2m35 0h1m6 0h1m12 0h1m26 0h1m47 0h1m-136 1h1m38 0h1m9 0h1m25 0h1m17 0h1m9 0h1m6 0h1m-81 1h1m36 0h1m5 0h1m51 0h1m9 0h1m-149 1h2m46 0h1m33 0h1m4 0h1m3 0h1m2 0h1m9 0h1m7 0h1m3 0h1m-104 1h1m3 0h1m23 0h1m51 0h1m7 0h1m14 0h1m1 0h1m-117 1h1m6 0h1m3 0h1m13 0h1m7 0h1m5 0h1m19 0h2m5 0h1m9 0h1m1 0h2m1 0h1m-83 1h1m13 0h2m10 0h1m31 0h1m4 0h1m35 0h1m3 0h1m28 0h1m-122 1h1m5 0h1m2 0h1m36 0h1m3 0h1m23 0h1m3 0h1m13 0h1m5 0h1m-102 1h1m1 0h1m28 0h1m50 0h1m6 0h1m5 0h1m-81 1h1m9 0h1m5 0h1m9 0h1m-34 1h1m7 0h1m11 0h1m18 0h1m2 0h1m20 0h1m10 0h1m-90 1h1m4 0h2m2 0h1m1 0h1m3 0h1m30 0h1m1 0h1m2 0h2m57 0h1m-104 1h1m6 0h1m14 0h1m3 0h1m5 0h1m6 0h1m18 0h1m8 0h1m37 0h1m-97 1h1m38 0h1m15 0h1m38 0h1m-114 1h1m51 0h1m25 0h2m27 0h1m26 0h1m-136 1h1m3 0h1m9 0h1m8 0h1m1 0h1m25 0h1m9 0h2m1 0h1m10 0h2m2 0h1m14 0h1m10 0h1m-94 1h1m34 0h1m3 0h1m11 0h2m8 0h1m4 0h1m8 0h1m2 0h1m10 0h1m-89 1h2m29 0h1m12 0h1m56 0h1m-84 1h1m12 0h1m3 0h1m28 0h1m2 0h1m-78 1h1m11 0h1m1 0h1m6 0h1m11 0h1m12 0h1m17 0h1m2 0h1m10 0h1m4 0h1m7 0h1m-93 1h1m14 0h1m3 0h1m7 0h1m1 0h1m4 0h1m21 0h1m7 0h1m22 0h1m9 0h1m14 0h1m-111 1h1m7 0h1m21 0h1m1 0h1m18 0h1m12 0h1m45 0h1m-115 1h1m13 0h2m30 0h2m15 0h1m3 0h1m-65 1h1m14 0h1m29 0h1m1 0h1m5 0h1m17 0h1m2 0h2m15 0h1m4 0h1m4 0h1m7 0h1m5 0h1m11 0h1m14 0h1m-133 1h1m4 0h1m11 0h1m3 0h1m21 0h1m16 0h1m-47 1h1m20 0h2m2 0h1m22 0h1m5 0h1m21 0h1m-103 1h1m6 0h1m8 0h1m2 0h1m4 0h1m23 0h1m4 0h1m26 0h1m1 0h1m34 0h1m-87 1h2m19 0h2m2 0h1m-58 1h1m1 0h1m34 0h1m7 0h1m16 0h2m12 0h1m4 0h1m14 0h1m38 0h1m-133 1h1m4 0h1m4 0h1m26 0h1m37 0h1m20 0h2m44 0h1m-142 1h1m7 0h1m2 0h2m11 0h1m2 0h1m23 0h1m11 0h1m19 0h1m4 0h1m32 0h1m-112 1h1m7 0h1m4 0h1m1 0h1m4 0h1m11 0h1m9 0h1m10 0h1m9 0h1m17 0h1m16 0h1m-110 1h1m12 0h2m1 0h1m7 0h1m8 0h1m3 0h2m5 0h1m22 0h1m7 0h1m16 0h1m-82 1h1m1 0h1m9 0h1m22 0h1m2 0h1m13 0h1m5 0h1m3 0h1m2 0h1m19 0h1m18 0h1m-92 1h1m8 0h1m1 0h1m46 0h1m4 0h1m8 0h1m12 0h1m-112 1h1m5 0h1m16 0h1m4 0h1m25 0h1m5 0h1m10 0h1m1 0h1m14 0h1m-65 1h1m28 0h1m5 0h1m4 0h1m15 0h1m17 0h1m16 0h1m1 0h1m16 0h1m-129 1h1m17 0h1m27 0h1m2 0h1m20 0h1m8 0h1m21 0h1m-107 1h1m16 0h1m25 0h2m46 0h1m-85 1h1m6 0h1m3 0h1m5 0h1m1 0h1m15 0h2m28 0h1m10 0h1m7 0h1m5 0h1m1 0h2m11 0h1m3 0h1m-96 1h1m3 0h1m55 0h1m2 0h1m38 0h1m-117 1h1m19 0h1m2 0h1m10 0h1m1 0h1m15 0h1m38 0h1m13 0h1m10 0h1m-123 1h1m8 0h1m26 0h1m25 0h1m3 0h1m7 0h1m4 0h1m15 0h1m7 0h1m-102 1h1m5 0h1m4 0h1m17 0h1m12 0h1m1 0h1m10 0h1m19 0h1m2 0h1m11 0h1m24 0h1m-113 1h1m10 0h1m12 0h1m3 0h1m1 0h1m38 0h1m23 0h1m28 0h1m4 0h1m14 0h1m-142 1h1m4 0h1m13 0h2m16 0h1m8 0h1m4 0h1m12 0h1m2 0h1m2 0h1m-74 1h1m1 0h1m20 0h1m21 0h1m1 0h2m12 0h1m11 0h1m20 0h1m2 0h1m16 0h1m-113 1h1m1 0h1m5 0h1m5 0h1m21 0h1m20 0h1m11 0h1m1 0h1m55 0h1m-136 1h1m18 0h1m14 0h1m6 0h1m22 0h1m15 0h1m3 0h1m9 0h1m19 0h1m-115 1h1m18 0h1m2 0h1m16 0h1m29 0h1m-41 1h1m11 0h1m6 0h1m1 0h1m20 0h1m16 0h2m4 0h1m25 0h1m-120 1h1m13 0h1m5 0h1m4 0h1m19 0h1m1 0h1m4 0h2m2 0h1m4 0h1m2 0h1m2 0h1m18 0h1m1 0h1m1 0h1m-88 1h1m9 0h1m3 0h1m3 0h1m18 0h1m11 0h1m18 0h1m30 0h1m-102 1h1m51 0h1m3 0h1m3 0h1m10 0h1m8 0h2m17 0h1m2 0h1m7 0h1m5 0h1m-118 1h1m10 0h1m29 0h1m9 0h1m19 0h1m8 0h1m28 0h1m24 0h1m-115 1h1m9 0h1m1 0h1m34 0h1m1 0h1m20 0h1m26 0h1m-114 1h1m3 0h1m2 0h1m14 0h1m29 0h1m8 0h2m13 0h1m1 0h1m17 0h1m-89 1h1m14 0h1m5 0h2m4 0h1m2 0h1m2 0h1m4 0h1m5 0h1m10 0h1m22 0h1m6 0h1m26 0h1m-120 1h1m17 0h1m2 0h1m1 0h2m22 0h1m1 0h1m4 0h1m6 0h2m3 0h1m31 0h1m-90 1h1m9 0h1m3 0h1m18 0h1m24 0h1m19 0h1m8 0h1m-101 1h1m7 0h1m19 0h2m46 0h1m33 0h1m7 0h1m14 0h1m-132 1h1m26 0h1m15 0h1m7 0h1m28 0h1m2 0h2m11 0h1m3 0h2m39 0h1m-143 1h1m57 0h1m6 0h1m1 0h2m5 0h1m13 0h1m48 0h1m-135 1h1m7 0h1m8 0h1m6 0h1m17 0h1m13 0h1m10 0h1m5 0h1m-72 1h1m1 0h1m6 0h1m8 0h1m10 0h1m11 0h2m32 0h1m4 0h1m1 0h1m2 0h1m7 0h1m1 0h1m1 0h1m10 0h1m18 0h1m-126 1h1m12 0h1m2 0h1m19 0h1m18 0h1m12 0h1m61 0h1m-136 1h1m2 0h1m21 0h2m24 0h1m20 0h1m2 0h1m18 0h1m2 0h1m-102 1h1m4 0h1m1 0h1m6 0h1m10 0h1m17 0h1m5 0h1m15 0h1m3 0h2m14 0h1m9 0h1m53 0h1m-147 1h1m5 0h1m3 0h1m16 0h1m34 0h1m27 0h2m16 0h1m-111 1h1m28 0h1m10 0h1m15 0h1m17 0h1m3 0h1m18 0h1m2 0h2m8 0h1m-105 1h1m6 0h1m6 0h1m5 0h2m16 0h1m9 0h1m5 0h1m3 0h1m24 0h2m9 0h1m7 0h1m-97 1h1m13 0h1m9 0h1m2 0h1m38 0h1m31 0h1m32 0h1m-144 1h1m19 0h1m22 0h1m13 0h1m6 0h1m12 0h1m26 0h1m38 0h1m-141 1h1m19 0h1m12 0h1m3 0h1m3 0h1m1 0h1m47 0h1m8 0h1m12 0h1"/>
<path stroke="#472f7d" d="M125 13h1m14 0h1m-78 2h1m66 0h1m-1 1h1m-1 2h1m-1 1h1m-68 1h1m71 1h1m-63 2h1m46 0h1m-57 1h1m-1 1h1m31 1h1m21 0h1m-102 1h1m3 0h1m32 0h1m23 0h1m-70 1h1m8 0h1m10 0h2m5 0h1m22 0h1m25 0h2m6 0h1m2 0h1m3 0h1m3 0h1m-84 1h1m27 0h1m5 0h1m5 0h1m8 0h1m15 0h1m4 0h1m9 0h1m-95 1h1m15 0h1m16 0h1m20 0h1m24 0h1m17 0h2m-102 1h1m19 0h1m4 0h1m5 0h1m7 0h1m34 0h1m27 0h1m-107 1h1m19 0h1m4 0h1m22 0h1m55 0h1m-105 1h2m1 0h1m5 0h1m1 0h1m13 0h1m38 0h1m23 0h1m-60 1h1m29 0h1m5 0h1m46 0h1m-58 1h1m4 0h1m39 0h1m2 0h1m-69 1h2m8 0h1m31 0h1m21 0h1m45 0h1m-110 1h1m34 0h1m40 0h1m-69 1h1m36 0h2m3 0h1m7 0h1m1 0h2m1 0h2m-94 1h1m20 0h1m7 0h1m17 0h1m7 0h1m4 0h1m23 0h1m2 0h1m3 0h1m-94 1h1m11 0h1m9 0h1m6 0h1m33 0h1m-46 1h1m2 0h1m2 0h1m71 0h1m4 0h1m-80 1h1m34 0h1m14 0h1m25 0h2m-71 1h1m65 0h1m7 0h1m-96 1h1m33 0h2m-42 1h1m22 0h1m41 0h1m-56 1h1m1 0h1m42 0h1m-62 1h1m4 0h1m60 0h1m20 0h1m12 1h1m-92 1h1m15 0h1m5 0h1m6 0h1m30 0h2m73 0h1m-132 1h1m64 0h1m13 0h1m12 0h1m-27 1h1m19 0h1m-72 1h1m30 0h1m59 0h1m4 0h1m-87 1h1m65 0h1m-105 1h1m9 0h2m43 0h1m11 0h1m12 0h1m-70 1h1m24 0h1m60 0h1m5 0h1m9 0h1m-90 1h1m11 0h1m7 0h1m17 0h1m11 0h1m8 0h1m14 0h1m-100 1h1m26 0h2m31 0h1m2 0h1m-64 1h1m11 0h1m3 0h1m30 0h1m3 1h1m10 0h1m43 0h1m-86 1h1m50 0h1m37 0h1m-83 1h1m12 0h1m59 0h1m3 0h1m-72 1h1m8 0h1m8 0h1m1 0h1m46 0h1m-41 1h1m-40 1h1m12 0h1m67 0h1m-100 1h1m15 0h1m35 1h1m11 0h1m43 0h1m-102 1h1m20 0h1m27 0h1m-23 1h1m47 0h1m-82 1h1m31 0h1m18 0h1m57 0h1m-110 1h1m31 0h2m17 0h1m5 0h1m37 0h1m49 0h1m-121 1h1m14 0h1m16 0h1m12 0h1m-63 2h1m23 0h1m9 0h1m38 0h1m11 0h1m-90 1h1m130 0h1m-87 1h1m34 0h1m-83 1h1m7 0h1m11 0h1m13 0h1m3 0h1m41 0h1m13 0h1m-95 1h1m19 0h1m23 0h1m2 0h1m25 0h1m-52 1h1m8 0h1m15 0h1m95 0h1m-124 1h1m3 0h2m14 0h1m18 0h1m53 0h1m-117 1h1m11 0h1m5 0h1m25 0h1m-43 1h1m10 0h1m14 0h1m15 0h1m14 0h1m40 0h1m1 0h1m3 0h1m-105 1h1m35 0h1m27 0h1m22 0h1m-91 1h1m14 0h1m28 0h1m-5 1h1m43 0h1m-70 1h1m5 0h1m25 0h1m54 0h2m-105 1h1m2 0h1m54 0h1m69 0h1m-83 1h1m14 0h1m81 0h1m-100 1h1m15 0h1m-60 1h1m5 0h1m10 0h1m30 0h1m51 0h1m-48 1h1m2 0h1m2 0h1m-52 1h1m22 0h1m3 0h1m23 0h1m15 0h1m39 0h1m11 0h1m14 0h1m-145 1h1m12 0h1m21 0h2m32 0h1m10 0h1m6 0h1m3 0h1m25 0h1m26 0h1m-140 1h1m22 0h1m4 0h1m33 0h1m27 0h1m8 0h1m44 0h1m-85 1h1m6 0h1m4 0h1m-52 1h1m10 0h1m22 0h1m4 0h1m7 0h1m19 0h1m-70 1h1m26 0h1m10 0h1m15 0h1m-60 1h1m11 0h1m17 0h1m15 0h1m49 0h1m-87 1h1m4 0h1m5 0h1m21 0h1m81 0h1m-136 1h1m3 0h1m1 1h1m24 0h1m20 0h1m16 0h1m15 0h1m2 0h1m-84 1h1m24 0h1m31 0h2m-12 1h1m40 0h1m-52 1h1m46 0h1m-54 1h1m5 0h1m1 0h1m13 0h1m12 0h1m22 0h1m-89 1h1m9 0h1m5 0h1m10 0h1m30 0h1m12 0h1m1 0h1m35 0h1m-59 1h1m57 0h1m-126 1h1m3 0h1m20 0h1m3 0h2m55 0h1m-69 1h1m3 0h1m2 0h1m15 0h1m29 0h2m-71 1h1m50 0h1m9 0h1m17 0h1m13 0h2m-59 1h1m6 0h1m-5 1h1m2 0h1m21 0h1m43 0h1m-68 1h1m42 0h1m13 0h1m3 0h2m-98 1h1m25 0h1m15 0h1m20 0h1m2 0h1m4 0h1m22 0h1m-75 1h1m12 0h1m21 0h1m10 0h1m4 0h1m65 0h1m-131 1h1m76 0h1m7 0h1m34 0h1m-123 1h1m2 0h1m36 0h1m5 0h1m14 0h1m-66 1h1m42 0h1m31 0h1m-53 1h1m20 0h1m86 0h1m-92 1h1m51 0h1m-1 1h1m10 0h1m-60 1h1m8 0h1m27 0h1m-71 1h1m9 0h1m32 0h1m17 0h1m-79 1h1m8 0h2m9 0h1m1 0h1m25 0h1m52 0h1m30 0h1m-112 1h1m22 0h1m45 0h1m9 0h1m-29 1h1m34 0h1m-89 1h1m31 0h1m9 0h1m10 0h1m-63 1h1m6 0h1m30 0h1m1 0h1m15 0h1m60 0h1m14 0h1m-123 1h1m5 0h1m32 0h2m27 0h1m-11 1h1m18 0h1m15 0h1m-116 1h1m1 0h1m35 0h1m25 0h1m17 0h1m18 0h1m-66 1h1m20 0h1m10 0h1m-64 1h1m19 0h1m1 0h1m4 0h1m3 0h1m9 0h1m47 0h1m44 0h1m-132 1h1m12 0h1m3 0h1m33 0h1m36 0h1m1 0h1m5 0h1m-96 1h1m5 0h1m4 0h1m13 0h1m18 0h1m11 0h1m27 0h1m-95 1h1m15 0h1m7 0h1m37 0h1m3 0h1m35 0h1m-103 1h1m75 0h1m26 0h1m-100 1h1m33 0h1m11 0h1m9 0h1m-46 1h1m34 0h1m5 0h1m8 0h2m19 0h1m6 0h1m-85 1h1m8 0h1m73 0h1m25 0h1m-114 1h1m3 0h1m83 0h1m18 0h1m-78 1h1m30 0h1m63 1h1m14 0h1m-143 1h1m28 0h1m97 0h1m-128 1h1m19 0h1m36 0h1m2 0h1m76 0h1m-140 1h1m15 0h1m3 0h1m17 0h1m2 0h1m19 0h1m53 0h1m-32 1h1m4 0h1m3 0h1m-88 1h1m20 0h1m71 0h1m-83 1h1m2 0h1m1 0h1m96 0h1m-58 1h1m2 0h1m12 0h1m4 0h1m40 0h1m-111 1h1m9 0h2m5 0h1m29 0h1m-58 1h1m35 0h1m11 0h1m27 0h1m6 0h1m4 0h1m8 0h1m1 0h1m-76 1h1m21 0h1m6 0h1m51 0h1m1 0h1m-109 1h1m12 0h1m76 0h1m1 0h1m-46 1h1m6 0h2m12 0h1m-70 1h1m40 0h1m17 0h1m26 0h1m1 0h1m7 0h1m-60 1h1m26 0h1m27 0h1m-87 2h1m34 0h1m18 0h1m-55 1h1m30 0h1m36 0h1m17 0h1m-57 1h2m5 0h1m17 0h1m-28 1h1m11 0h1m18 1h1m14 0h1m-70 1h1m30 0h1m37 0h1m5 0h1m-38 1h1m2 0h1m9 0h1m37 0h1m12 0h1m-117 1h1m48 0h1m12 0h1m-1 1h2m50 0h1m10 0h1m-107 1h1m55 1h1m11 0h1m-55 1h1m17 0h1m14 0h1m5 0h1m-68 1h1m13 0h1m3 0h1m12 0h1m27 0h1m9 0h1m4 0h1m-71 1h1m22 0h1m23 0h1m2 0h1m3 0h1m13 0h1m18 0h2m20 0h1m16 0h1m-136 1h1m21 0h1m30 0h1m47 0h1m-102 1h1m42 0h1m52 0h1m-97 1h1m26 0h1m13 0h1m66 0h1m-47 1h1m30 0h1m-74 1h1m28 0h1m43 0h1m-50 1h1m48 0h1m4 0h1m7 0h1m-73 1h1m58 0h1m3 0h1m6 0h1m35 0h1m-123 1h1m6 0h1m32 0h1m34 0h1m7 0h1m-92 1h2m42 0h1m22 0h1m9 0h1m-46 1h1m-35 1h1m27 0h1m4 0h1m8 0h1m11 0h1m30 0h1m-86 1h1m1 0h1m21 0h1m62 0h1m1 0h1m12 0h1m-62 1h1m12 0h1m10 0h1m6 0h1m16 0h1m42 0h1m-126 1h1m46 0h1m10 0h1m15 0h1m-87 1h1m2 0h1m37 0h1m17 0h1m55 0h1m-63 1h2m19 0h1m28 0h1m-45 1h1m7 0h1m37 0h1m-89 1h1m40 0h1m2 0h2m3 0h1m1 0h1m6 0h1m4 0h1m8 0h1m-87 1h1m36 0h1m21 0h1m-26 1h1m1 0h1m9 0h1m51 0h1m-105 1h1m35 0h2m40 0h2m-80 1h1m24 0h1m24 0h1m19 0h1m28 0h1m-66 1h2m12 0h1m53 0h1m1 0h1m5 0h1m5 0h1m-100 1h1m7 0h1m1 0h1m9 0h1m4 0h1m-36 1h1m63 0h1m33 0h1m24 0h1m19 0h1m-143 1h1m25 0h1m7 0h1m30 0h1m-62 1h1m45 0h1m41 0h1m7 0h1m-109 1h1m37 0h1m4 0h1m42 0h1m-74 1h1m47 0h1m43 0h1m-96 1h1m2 0h1m16 0h1m9 0h1m-40 1h1m35 0h1m36 0h1m11 0h1m6 0h1m24 1h1m-106 1h1m83 0h1m2 0h1m15 0h1m13 0h1m-126 1h1m67 0h1m28 0h1m42 0h1m-104 1h1m1 0h1m19 0h1m-61 1h1m72 0h1m12 0h1m-64 1h1m5 0h1m43 0h1m14 0h1m10 0h1m4 0h1m5 0h1m3 0h1m-90 1h1m22 0h1m1 0h1m9 0h1m-63 1h1m8 0h1m12 0h1m26 0h1m-33 1h1m12 0h1m29 0h1m1 0h1m65 0h1m-92 1h2m50 0h1m33 0h1m-107 1h1m34 0h1m10 0h1m50 0h1m-75 1h1m12 0h2m19 0h1m-59 1h1m72 0h1m-74 1h1m43 0h1m-49 1h1m10 0h1m36 0h1m23 0h1m-40 1h1m49 0h1m18 0h1m-98 1h1m15 0h1m2 0h1m34 0h1m42 0h1m28 0h1m-141 1h1m4 0h1m1 0h1m16 0h1m43 0h1m16 0h1m-49 1h1m11 0h1m8 0h1m1 0h1m34 0h1m17 0h1m26 0h1m-131 1h1m46 0h1m31 0h1m25 0h1m-117 1h1m46 0h1m14 0h1m23 0h2m-34 1h1m3 0h1m24 0h1m12 0h1m2 0h1m-60 1h1m17 0h1m38 0h1m-37 1h1m1 0h2m5 0h1m-73 1h2m14 0h1m23 0h1m6 0h1m17 0h2m5 0h1m18 0h1m18 0h1m-92 1h1m61 0h1m36 0h1m-114 1h1m32 0h1m16 0h1m58 0h1m-116 1h1m14 0h1m64 0h1m20 0h1m9 0h1m-77 1h1m5 0h1m-25 1h1m28 0h1m10 0h1m3 0h1m28 1h1m4 0h1m7 0h1m-102 1h1m2 0h1m71 0h1m-72 1h1m1 0h1m13 0h1m60 0h2m7 0h1m-92 1h1m38 0h1m3 0h1m10 0h1m10 0h1m-27 1h1m27 0h1m9 0h1m21 0h1m-93 1h1m70 0h1m1 0h1m8 0h1m-87 1h1m3 0h1m9 0h1m9 0h1m3 0h1m-34 1h1m14 0h1m34 0h1m47 0h1m21 0h1m24 0h1m-146 1h1m53 0h1m27 0h1m47 0h1m-67 1h1m41 0h1m13 0h1m-98 1h1m38 0h1m43 0h1m-40 1h1m4 0h1m5 0h1m16 0h1m-92 1h1m30 0h1m19 0h1m-50 1h2m4 0h1m20 0h1m19 0h1m40 0h1m-37 1h1m12 0h1m32 0h1m-47 1h1m1 0h1m6 0h1m-3 1h1m39 0h1m24 0h1m-108 1h1m3 0h1m50 0h1m33 0h1m-55 1h1m3 0h1m72 0h1m-76 1h1m14 0h1m34 0h1m3 0h1m35 0h1m-51 1h1m-92 1h1m32 0h1m23 1h1m58 0h1m9 0h1m-136 1h1m40 0h1m34 0h1m-77 1h1m28 0h1m18 0h1m21 0h1m18 0h1m13 0h1m-39 1h1m-63 1h1m30 0h1m38 0h1m76 0h1m-108 1h1m19 0h1m41 0h1m44 0h1m-131 1h1m82 0h1m-96 1h1m24 0h1m8 0h1m18 0h1m44 0h1m-73 1h1m34 0h1m28 0h1m46 0h1m-132 1h1m14 0h1m1 0h1m13 0h1m49 0h1m34 0h1m-69 1h1m12 0h1m2 0h1m15 0h1m1 0h1m-96 1h1m53 0h1m6 0h1m5 0h2m5 0h1m27 0h1m-90 1h1m6 0h1m5 0h1m4 0h1m3 0h1m27 0h1m-24 1h1m21 0h1m17 0h1m36 0h1m6 0h1m4 0h1m-115 1h1m10 0h1m14 0h1m44 0h1m17 0h1m-88 1h1m14 0h1m11 0h1m9 0h1m41 0h1m-95 1h1m46 0h1m26 0h1m-74 1h1m13 0h1m85 0h1m20 0h1m-114 1h1m9 0h1m15 0h1m62 0h1m4 0h1m-87 1h1m1 0h1m20 0h1m27 0h1m38 0h1m-104 1h1m6 0h1m4 0h1m9 0h1m5 0h1m16 0h2m6 0h1m12 0h1m-58 1h1m10 0h1m41 0h1m10 0h1m-78 1h1m6 0h1m6 0h1m1 0h1m27 0h1m16 0h1m2 0h1m5 0h1m16 0h1m-75 1h1m60 0h1m57 0h1m-123 1h1m49 0h1m26 0h1m13 0h1m13 0h1m-96 1h1m29 0h1m23 0h1m14 0h1m-91 1h1m30 0h1m13 0h2m3 0h1m1 0h1m7 0h1m-38 1h1m68 0h1m25 0h1m4 0h1m4 0h1m-105 1h1m11 0h1m14 0h1m7 0h1m5 0h1m27 0h1m34 0h1m-130 1h1m6 0h1m15 0h1m31 0h1m45 0h1m1 0h1m3 0h1m-105 1h1m14 0h2m14 0h1m21 0h1m32 0h1m6 0h1m2 0h1m-100 1h1m13 0h1m16 0h1m10 0h1m7 0h1m-51 1h2m9 0h1m9 0h1m25 0h1m40 0h1m-30 1h1m1 0h1m37 0h1m9 0h1m-103 1h1m19 0h1m52 0h2m-55 1h1m2 0h2m3 0h1m19 0h1m13 0h1m17 0h1m-36 1h1m16 0h1m2 0h1m76 0h1m-148 1h1m1 0h1m3 0h1m5 0h1m19 0h1m43 0h1m40 0h1m-109 1h1m2 0h1m17 0h1m1 0h1m35 0h1m5 0h1m-72 1h1m62 0h1m21 0h1m-51 1h1m36 0h1m10 0h1m-7 1h1m-80 1h1m14 0h1m23 0h1m18 0h1m-49 1h1m28 0h1m14 0h1m14 0h1m-49 1h1m10 0h1m14 0h1m98 0h1m-112 1h1m13 0h1m-48 1h1m11 0h1m58 0h1m-55 1h1m13 0h1m68 0h1m-97 1h1m11 0h1m8 0h1m6 0h1m1 0h1m11 0h1m10 0h1m21 0h1m-67 1h1m2 0h1m7 0h1m22 0h1m26 0h1m1 0h1m67 0h1m-33 1h1m-90 1h1m34 0h1m28 0h1m4 0h1m-62 1h1m47 0h1m1 0h1m-63 1h1m52 0h1m-64 1h1m13 0h1m21 0h1m11 0h1m32 0h1m1 0h1m6 0h1m-106 1h1m80 0h1m21 0h1m4 0h1m-90 1h1m37 0h1m17 0h1m28 0h1m1 0h1m-94 1h1m6 0h1m12 0h1m11 0h1m27 0h1m10 0h1m6 0h1m2 0h1m-93 1h1m30 0h1m3 0h1m15 0h1m21 0h1m-76 1h1m91 0h1m7 0h1m15 0h1m-103 1h1m8 0h1m40 0h1m31 0h1m33 0h1m-93 1h1m1 0h1m20 0h1m-43 1h1m3 0h1m18 0h1m50 0h1m-62 1h1m14 0h1m5 0h1m11 0h1m23 0h1m-39 1h1m3 0h1m9 0h1m29 0h1m-84 1h1m1 0h1m14 0h1m23 0h1m45 0h1m5 0h1m34 0h1m-141 1h1m20 0h1m20 0h1m26 0h1m25 0h1m7 0h1m-104 1h1m49 0h1m20 0h1m29 0h1m-101 1h1m89 0h1m38 0h1m-90 1h1m23 0h1m-63 1h1m10 0h1m10 0h1m20 0h1m20 0h1m14 0h1m25 0h1m-93 1h1m5 0h1m2 0h1m1 0h1m39 0h1m82 0h1m-110 1h1m21 0h1m8 0h1m16 0h1m24 0h1m-111 1h1m27 0h1m53 0h1m8 0h1m3 0h1m35 0h1m-67 1h1m6 0h1m11 0h1m19 0h1m36 0h1m-136 1h1m40 0h1m48 0h1m24 0h1m14 0h1m-139 1h1m44 0h1m3 0h1m31 1h1m12 0h1m-72 1h1m1 0h1m21 0h1m7 0h1m18 0h1m-60 1h1m16 0h1m16 0h2m2 0h1m79 0h1m-127 1h1m42 0h2m5 0h1m17 0h1m4 0h1m3 0h1m-76 1h1m13 0h1m49 0h1m-73 1h1m40 0h1m36 0h1m-74 1h2m1 0h1m36 0h1m25 0h1m5 0h1m9 0h1m-38 1h1m49 0h1m-96 1h1m14 0h1m9 0h1m1 0h1m42 0h1m-74 1h1m23 0h2m41 0h1m-62 1h1m17 0h1m25 0h1m6 0h1m12 0h1m38 0h1m-92 1h1m4 0h1m15 0h1m8 0h1m41 0h1m5 0h1m-34 1h1m20 0h1m-75 1h1m10 0h1m10 0h1m14 0h2m13 0h1m22 0h1m-65 1h1m13 0h1m3 0h1m14 0h1m-52 1h1m11 0h1m22 0h1m9 0h1m13 0h1m20 0h1m12 0h1m-92 1h1m13 0h1m12 0h1m29 0h1m16 0h1m7 0h1m12 0h2m13 0h1m-92 1h1m33 0h1m9 0h1m19 0h1m36 0h1m-128 1h1m11 0h1m18 0h2m10 0h1m21 0h1m33 0h1m22 0h1m-117 1h1m16 0h1m15 0h1m10 0h1m8 0h1m5 0h1m8 0h1m15 0h1m1 0h1m18 0h1m35 0h1m-131 1h1m1 0h1m4 0h1m26 0h1m36 0h1m13 0h1m44 0h1m-105 1h1m19 0h1m32 0h1m-80 1h1m30 0h1m25 0h1m21 0h1m-100 1h1m12 0h1m3 0h1m2 0h1m1 0h1m45 0h1m13 0h1m52 0h1m-136 1h1m21 0h1m52 0h1m4 0h1m64 0h1m-111 1h1m-22 1h1m7 0h1m48 0h1m7 0h1m18 0h1m-64 1h1m13 0h1m31 0h1m26 0h1m-106 1h1m7 0h1m29 0h1m1 0h1m26 0h1m22 0h1m5 0h1m20 0h1m-97 1h1m-8 1h1m17 0h1m18 0h1m27 0h1m7 0h1m-70 1h1m16 0h1m-33 1h1m14 0h1m35 0h1m18 0h1m20 0h1m-71 1h1m36 0h1m2 0h1m2 0h1m21 0h1m8 0h1m-98 1h1m69 0h1m-63 1h2m23 0h1m6 0h1m23 0h1m45 0h1m3 0h1m31 0h1m-135 1h1m45 0h1m8 0h1m5 0h1m52 0h1m-129 1h2m15 0h1m8 0h1m4 0h1m32 0h1m1 0h1m19 0h1m41 0h1m-125 1h1m13 0h1m11 0h1m4 0h1m19 0h1m4 0h2m25 0h1m4 0h1m50 0h1m-144 1h1m4 0h1m26 0h1m1 0h1m38 0h1m18 0h1m35 0h1m-122 1h1m35 0h1m9 0h1m4 0h1m1 0h1m17 0h1m-53 1h1m81 0h1m-76 1h2m11 0h1m15 0h1m30 0h1m4 0h1m-62 1h1m4 0h2m54 0h1m1 0h1m7 0h1m34 0h1m-88 1h1m24 0h2m12 0h1m-96 1h1m5 0h1m44 0h1m43 0h1m7 0h1m-48 1h1m71 0h1m-130 1h1m3 0h1m46 0h1m10 0h1m12 0h1m7 0h1m16 0h1m1 0h1m-100 1h1m28 0h1m86 0h1m9 0h1m9 0h1m-139 1h1m6 0h1m23 0h1m7 0h1m17 0h1m3 0h1m27 0h2m15 0h1m-89 1h1m32 0h1m16 1h1m-70 1h1m46 0h1m13 0h1m34 0h1m37 0h1m-91 1h1m5 0h1m15 0h1m31 0h1m-85 1h1m16 0h1m71 0h1m25 0h1m-123 1h1m4 0h1m44 0h1m3 0h1m27 0h1m21 0h1m32 0h1m-128 1h1m10 0h1m26 0h1m-36 1h1m31 0h1m8 0h1m11 0h1m25 0h1m-54 1h1m8 0h1m28 0h1m-70 1h1m8 1h1m36 0h1m6 0h1m-40 1h1m4 0h1m17 0h1m9 0h1m6 0h1m21 0h1m-74 1h1m38 0h1m29 0h1m5 0h1m-40 1h2m10 0h1m13 0h1m4 0h1m-54 1h1m26 0h1m16 0h1m-77 1h1m10 0h1m3 0h1m3 0h1m23 0h1m63 0h1m26 0h1m-101 1h1m-7 1h1m35 0h1m10 0h1m14 0h1m12 0h1m-63 1h1m9 0h1m27 0h1m35 0h1m3 0h1m-118 1h1m6 0h1m11 0h1m39 0h1m1 0h1m18 0h1m41 0h1m14 0h1m-136 1h2m5 0h1m13 0h1m24 0h1m33 0h1m-84 1h1m1 0h1m7 0h1m11 0h1m9 0h1m23 0h1m37 0h1m-78 1h1m35 0h1m13 0h1m-67 1h1m3 0h1m5 0h1m20 0h1m27 0h1"/>
<path stroke="#443983" d="M87 17h1m12 0h1m29 0h1m-13 3h1m1 1h1m-96 2h1m48 0h1m3 0h1m41 1h1m-41 1h1m-60 1h1m4 0h1m53 0h1m-78 2h1m3 0h1m4 0h1m15 0h1m26 0h1m4 0h1m6 0h1m2 0h1m1 0h1m1 0h1m8 0h1m-68 1h1m19 0h1m22 0h1m22 0h2m16 0h1m5 0h1m-71 1h1m5 0h2m8 0h1m3 0h1m46 0h1m-97 1h1m4 0h1m19 0h1m24 0h1m8 0h1m2 0h1m9 0h1m9 0h1m12 0h1m5 0h1m-106 1h1m5 0h1m8 0h1m10 0h1m13 0h1m1 0h1m8 0h1m-50 1h1m4 0h1m19 0h1m6 0h1m5 0h2m-19 1h1m0 1h1m84 0h1m-105 1h1m28 0h1m9 0h1m52 0h1m4 0h1m2 0h1m-9 1h1m7 0h1m-30 1h1m-48 3h1m52 0h1m-57 1h1m1 0h1m26 0h1m49 0h1m-79 2h1m23 0h1m0 2h1m-45 1h1m38 0h1m55 0h1m-88 1h1m10 0h1m1 0h1m1 0h1m-5 1h1m31 0h1m17 0h1m13 0h1m-65 1h1m57 1h1m25 0h1m-95 1h1m104 1h1m-100 1h1m67 0h1m-84 1h1m48 0h1m11 0h1m2 0h1m-57 2h1m26 0h1m17 0h1m29 0h1m-27 1h1m7 0h1m-70 1h1m39 0h1m33 0h1m-58 1h1m54 1h1m4 0h1m-83 1h1m74 0h1m36 0h1m-96 1h1m20 0h1m77 0h1m-1 2h1m-115 1h1m46 0h1m73 2h1m-112 1h1m17 0h1m29 0h1m34 0h1m-16 1h1m12 1h1m-62 3h1m3 1h1m62 0h1m-88 1h1m-11 1h1m31 2h1m25 0h1m-43 1h1m6 0h1m19 0h1m-39 1h1m130 0h1m-110 1h2m7 0h1m41 0h1m-38 1h1m23 0h1m65 0h1m-106 1h1m30 0h1m73 0h1m-79 1h1m41 1h1m2 0h1m-18 1h1m-41 2h1m3 0h1m55 0h1m-8 1h1m31 0h1m-115 1h1m19 0h1m43 0h1m23 0h1m-63 1h1m17 0h1m-11 4h1m-7 1h1m37 1h1m2 0h1m-56 1h1m49 0h1m64 0h1m-28 1h1m-74 1h1m-6 1h1m39 0h1m-16 1h1m46 0h1m-29 3h1m-79 1h1m50 0h1m-46 2h1m42 1h1m-49 2h1m7 0h1m92 0h1m-13 1h1m7 0h1m-102 1h1m42 0h1m28 0h1m-14 1h1m23 0h1m8 0h1m-30 1h1m15 0h1m-77 1h1m86 1h1m20 0h1m10 0h1m-88 1h1m63 0h1m-25 1h1m-57 1h1m4 1h1m15 1h1m13 0h1m23 0h1m-25 1h1m4 0h1m6 0h1m8 1h1m-52 1h1m25 0h1m-31 1h1m-21 1h1m39 1h1m18 0h1m39 0h1m13 1h1m-42 1h1m32 0h1m-100 1h1m50 0h1m14 0h1m-27 1h1m54 1h1m-95 2h1m2 1h1m38 0h1m32 0h1m10 0h1m-19 1h1m17 0h1m-82 1h1m62 0h1m14 0h1m-71 1h1m36 0h1m-5 1h1m36 0h1m14 0h1m-102 2h1m32 0h1m6 0h1m15 0h1m5 0h1m24 0h1m-47 1h1m69 0h1m-51 1h1m81 0h1m-59 1h1m-6 1h1m7 0h2m-84 1h1m54 1h1m-41 1h1m26 0h1m46 0h1m-64 1h1m22 1h1m43 0h1m43 0h1m-70 2h1m48 0h1m-68 1h1m16 0h1m35 0h1m-85 1h1m5 0h1m12 1h1m29 0h1m32 0h1m-103 2h1m68 0h1m18 0h1m39 0h1m-89 1h1m9 0h1m-1 1h1m19 0h1m-26 1h1m4 0h1m-1 1h1m4 1h1m-26 1h1m59 1h1m47 0h1m-56 2h1m8 0h1m1 1h1m28 1h1m-116 1h1m28 0h1m25 0h1m-69 1h1m106 0h1m-82 1h1m106 0h1m-96 2h1m11 1h1m46 0h1m-59 1h1m-3 1h1m30 1h1m32 0h1m-77 1h1m11 0h1m45 0h1m-76 2h1m50 0h1m19 0h1m-69 1h1m27 0h1m-28 1h1m11 0h1m66 1h1m-78 3h1m46 0h1m-3 1h1m-57 1h1m12 0h2m63 0h1m13 0h1m5 1h1m11 2h1m-119 1h1m56 1h1m48 0h1m-32 1h1m25 0h1m-82 1h1m54 0h1m3 0h1m-65 1h1m14 0h1m29 0h1m-56 1h2m-3 1h1m55 0h1m55 1h1m-54 1h1m69 0h1m-64 1h1m-58 1h1m69 0h1m-77 1h1m38 0h1m4 1h1m34 0h1m-74 1h1m70 1h1m-9 1h1m-1 2h1m-54 1h1m36 0h1m51 0h1m15 3h1m-67 2h1m-62 1h1m22 0h1m76 0h1m-82 2h1m58 0h1m-16 1h1m26 0h1m-66 1h1m28 0h1m3 0h1m8 0h1m-9 1h1m18 0h1m-75 1h1m1 0h1m67 0h1m-77 1h1m13 0h1m53 0h1m-38 1h1m50 1h1m14 0h1m15 0h1m3 0h1m-88 2h1m17 0h1m66 1h1m13 1h1m19 0h1m-41 1h1m-28 2h1m66 1h1m-149 4h1m70 0h1m-50 1h1m2 0h1m13 0h1m34 0h1m-16 1h1m11 0h1m5 0h1m6 1h1m-77 1h1m85 0h1m17 0h1m-49 1h1m-4 1h1m-60 1h1m29 1h1m21 0h1m5 0h1m-57 2h1m14 0h1m33 0h1m-30 1h1m56 0h1m28 1h1m-83 1h1m87 0h1m-48 3h1m-10 1h1m-23 1h1m-1 1h1m28 0h1m42 0h1m-67 1h1m15 0h1m39 1h1m-57 1h1m19 0h1m30 0h1m42 0h1m-138 2h1m49 1h1m-46 1h1m8 1h1m1 0h1m28 1h1m44 0h1m-89 1h1m12 0h1m65 0h1m-66 1h1m110 0h1m-35 1h1m-81 1h1m8 0h1m72 0h1m15 0h1m-53 1h1m-36 1h1m-10 2h1m34 1h1m-30 1h1m81 0h1m-105 1h1m20 0h1m1 0h1m37 0h1m-42 1h1m21 1h1m105 0h1m-137 2h1m22 0h1m-30 1h1m10 0h1m86 0h1m-96 1h1m14 1h1m35 0h1m5 1h1m-42 1h1m18 0h1m7 1h1m7 1h1m1 0h1m70 0h1m-72 2h1m-9 1h1m-20 1h1m14 1h1m48 0h1m2 0h1m-80 2h1m-12 1h1m54 0h1m-36 1h1m-6 1h1m30 0h1m24 0h1m-67 1h1m8 0h1m-4 2h1m42 0h1m-15 1h1m-30 1h1m12 1h1m-2 1h1m24 0h1m18 1h1m-12 1h1m7 1h1m31 0h1m-101 2h1m134 0h1m-67 1h1m7 0h1m-85 1h1m48 0h1m42 0h1m7 0h1m-100 1h1m16 0h1m33 2h1m8 0h1m31 0h1m1 0h1m-84 1h1m78 1h1m-84 1h1m32 0h1m2 0h1m40 0h1m8 0h1m-62 1h1m-16 2h1m54 0h1m-30 1h1m26 1h1m37 0h1m-81 1h1m29 0h1m30 0h1m-89 1h1m18 0h1m37 0h1m30 1h1m-5 1h1m-59 1h1m-27 2h1m25 0h1m53 0h1m8 1h1m-76 1h1m26 0h1m9 0h1m42 0h1m-35 1h1m17 1h1m17 0h1m-81 1h1m57 1h1m-18 1h1m-55 1h1m-4 1h1m4 0h1m99 0h1m-110 1h1m0 1h1m45 0h1m15 0h1m-23 1h1m6 0h1m9 0h2m1 0h1m38 2h1m-31 2h1m-71 2h1m44 0h1m4 0h1m-26 1h1m15 0h1m2 0h1m66 1h1m-72 1h1m20 0h1m20 0h1m-22 1h1m-1 1h1m25 1h1m-38 1h1m6 1h1m7 0h1m-5 2h1m3 0h1m20 0h1m15 0h1m-85 1h1m10 0h1m1 0h1m53 0h1m-44 1h1m70 2h1m-46 1h1m60 0h1m-74 1h1m-5 1h1m86 0h1m-105 1h1m25 0h1m36 0h1m-11 1h1m30 0h1m-52 1h1m26 0h1m-38 1h1m14 0h1m8 1h1m-4 2h1m-53 1h1m9 0h1m20 0h1m45 0h1m6 0h1m-10 1h1m-51 1h1m25 0h1m30 0h1m-91 1h1m4 0h1m13 1h1m54 0h1m9 0h1m35 1h1m-131 2h1m9 0h1m40 1h1m-44 1h1m17 0h1m27 0h1m4 0h1m-31 1h1m59 0h1m-26 2h1m-57 1h1m-9 1h1m-9 1h1m12 0h1m33 0h1m32 0h1m-66 1h1m28 0h1m15 0h1m42 0h1m-79 1h1m66 1h1m-78 1h1m38 0h1m-4 1h1m3 0h1m-8 1h1m26 0h1m13 0h1m-61 1h1m-28 2h1m28 0h1m15 0h1m-31 2h1m61 0h1m16 0h1m-88 1h1m6 0h1m63 0h1m-80 1h1m34 0h1m26 0h1m17 0h1m4 1h1m41 0h1m-92 1h1m50 0h1m9 0h1"/>
<path stroke="#414487" d="M130 9h1m-1 4h1m-69 1h2m66 0h1m9 3h1m-78 1h1m50 2h1m30 2h1m-129 1h1m39 0h1m-4 2h1m41 0h1m21 0h1m26 0h1m-94 1h1m57 0h1m1 0h1m3 0h1m-77 1h1m-40 1h1m36 0h1m4 0h1m3 0h1m43 0h1m14 0h1m13 0h1m24 0h1m-133 1h1m9 0h2m3 0h1m6 0h1m4 0h2m4 0h1m9 0h1m8 0h1m18 0h1m2 0h1m-86 1h1m21 0h1m9 0h2m15 0h1m5 0h1m12 0h1m5 0h1m7 0h1m6 0h1m-82 1h2m1 0h1m9 0h1m4 0h1m8 0h1m37 0h1m8 0h1m12 0h1m-93 1h1m9 0h1m1 0h1m14 0h1m26 0h1m12 0h1m2 0h1m9 5h1m-59 2h1m-4 13h1m76 2h1m-40 1h1m-7 4h1m-37 3h1m2 4h1m70 0h1m-79 4h1m51 1h1m-9 1h1m1 1h1m42 4h1m-63 8h1m55 0h1m-75 3h1m10 1h1m38 2h1m-1 1h1m-14 2h1m-9 2h1m-48 1h1m54 0h1m29 2h1m-63 1h1m12 0h1m81 1h1m-111 2h1m16 1h1m38 3h1m42 10h1m-11 5h1m-93 6h1m6 0h1m42 3h1m-56 11h1m10 0h1m1 1h1m74 3h1m-13 5h1m-9 4h1m-51 1h1m119 7h1m-87 1h1m-20 1h1m84 2h1m-81 2h1m-32 4h1m-12 1h1m70 0h1m-23 7h1m52 4h1m-23 6h1m16 4h1m1 0h1m-69 4h1m31 6h1m-40 2h1m67 5h1m-95 9h1m60 0h1m67 4h1m-23 5h1m-67 2h1m-43 3h1m-1 1h1m25 0h1m35 0h1m41 0h1m-1 1h1m0 3h1m-69 1h1m24 9h1m20 1h1m-39 3h1m25 0h1m73 4h1m-87 2h1m-6 1h1m-31 2h1m45 3h1m-53 1h1m-1 2h1m0 2h1m-1 3h1m-3 2h1m5 1h1m-10 2h1m4 5h1m4 1h1m0 1h1m-1 1h1m27 0h1m8 0h1m23 2h1m-62 1h1m16 1h1m-18 2h1m-4 1h1m2 0h1m-4 2h1m6 2h1m-8 2h1m2 0h1m-3 3h1m1 0h1m11 0h1m-17 1h1m40 1h1m-43 1h1m119 2h1m-104 4h1m12 4h1m55 3h1m-37 3h1m-59 9h1m25 1h1m-33 6h1m22 5h1m23 1h1m-10 1h1m17 0h1m53 0h1m-92 1h1m20 5h1m-19 1h1m53 4h1m11 0h1m-28 3h1m82 2h1m-131 1h1m57 1h1m1 1h1m25 0h1m-84 9h1m12 4h1m20 0h1m0 2h1m35 8h1m-39 4h1m-9 5h1m-3 2h1m52 2h1m-5 5h1"/>
<path stroke="#3d4d8a" d="M125 15h1m-64 1h1m-1 1h2m-2 1h1m62 0h1m-63 1h1m44 1h1m3 0h1m3 0h1m-72 3h1m2 0h1m5 0h1m53 1h1m9 0h1m26 0h1m-94 1h1m97 0h1m-97 1h1m53 0h1m-107 2h1m1 0h1m1 0h1m13 0h1m1 0h1m27 0h1m5 0h1m18 0h2m11 0h1m13 0h1m15 0h1m31 0h1m-126 1h1m42 0h1m16 0h1m16 0h1m-92 1h1m8 0h1m11 0h1m54 0h1m14 0h1m-89 1h1m16 0h1m10 0h1m1 0h2m15 0h1m-48 1h1m-13 1h1m59 50h1m-58 37h1m49 19h1m-3 56h1m-24 30h1m-11 6h1m3 11h1m-6 28h1m-2 1h1m0 1h1m-1 1h1m-1 9h1m5 7h1m-1 12h1m36 2h1m25 3h1m17 14h1m-44 8h1m-2 30h1m-30 28h1"/>
<path stroke="#39568c" d="M130 11h1m-6 3h1m9 2h1m-44 1h2m31 0h1m14 1h1m-51 1h1m34 0h1m14 0h1m-31 1h1m9 0h1m-104 1h1m5 0h1m94 2h1m-51 1h1m41 0h1m1 0h1m3 0h1m33 0h1m-134 1h1m47 0h1m48 0h1m-75 1h1m14 0h1m4 0h2m3 0h1m13 0h1m1 0h1m19 0h1m12 0h1m30 0h1m-87 1h1m5 0h1m2 0h1m10 0h1m-69 1h1m7 0h1m12 0h1m6 0h1m4 0h1m6 0h1m5 0h1m47 0h1m-105 1h1m5 0h1m10 0h1m78 0h2m6 0h1m-100 1h1m6 0h1m17 0h1m15 0h1m19 0h1m27 0h1m-91 1h1m19 0h1m4 0h1m8 0h1m36 0h1m-67 1h4m17 0h1m30 226h1m-44 9h1m-1 9h1m-1 2h1m-1 2h1m-1 1h1m5 36h1m36 29h1"/>
<path stroke="#355f8d" d="M135 14h1m4 0h1m-79 1h1m1 0h1m-2 1h1m20 1h2m49 2h1m-128 2h1m25 0h1m19 0h1m9 0h2m-49 1h1m100 0h1m1 0h1m-105 1h1m4 0h1m28 0h1m14 0h1m-49 1h1m34 0h1m12 0h1m14 0h1m33 0h1m-89 1h1m51 0h1m29 0h1m3 0h1m3 0h1m-101 1h2m9 0h1m23 0h1m15 0h1m14 0h1m19 0h1m47 0h1m-122 1h1m6 0h1m6 0h1m12 0h2m23 0h1m14 0h1m4 0h1m-87 1h1m29 0h1m70 0h1m-97 1h1m22 0h1m6 0h2m8 0h1m14 0h1m-66 1h1m1 0h1m6 0h1m10 0h1m7 0h2m8 0h1m9 0h1m7 0h1m10 0h1m-77 1h1m1 0h1m2 0h1m2 0h1m8 0h2m83 0h2m-104 1h1m36 0h1m19 0h1"/>
<path stroke="#31688e" d="M53 10h1m71 6h1m-31 1h1m39 1h1m-81 1h1m11 1h1m-39 1h1m11 0h1m1 0h1m2 0h1m14 0h1m11 0h2m4 0h1m16 1h1m-90 1h1m18 0h2m32 0h1m-34 1h1m-1 1h1m27 0h1m5 0h1m17 0h1m2 0h1m27 0h1m-88 1h1m26 0h1m22 0h1m-66 1h1m14 0h1m23 0h1m7 0h1m10 0h1m2 0h2m11 0h1m20 0h1m-96 1h1m5 0h1m16 0h1m5 0h1m10 0h1m9 0h1m10 0h1m38 0h1m3 0h1m-110 1h1m6 0h1m11 0h1m9 0h1m6 0h1m8 0h1m17 0h1m36 0h1m-104 1h1m14 0h1m9 0h1m11 0h1m31 0h1m5 0h1m-61 1h1m-14 1h1m41 0h1"/>
<path stroke="#2d708e" d="M53 9h1m-1 3h1m-1 1h1m86 2h1m-44 2h1m37 0h1m-72 2h1m-25 1h1m11 0h1m11 0h1m-43 1h1m28 0h1m18 0h1m32 0h2m-79 1h1m27 0h1m23 0h1m-69 1h1m36 0h1m8 0h1m10 0h1m12 0h2m19 0h1m-76 1h1m27 0h1m-39 1h1m6 0h1m49 0h1m-61 1h1m84 0h1m5 0h1m-85 1h1m4 0h1m15 0h2m3 0h1m14 0h1m11 0h1m1 0h2m12 0h1m-49 1h1m68 0h1m3 0h1m-115 1h1m3 0h1m4 0h1m4 0h1m4 0h1m9 0h1m27 0h1m11 0h1m2 0h1m31 0h1m-104 1h1m7 0h1m4 0h1m29 0h2m13 0h1m-60 1h1m37 0h1"/>
<path stroke="#2a788e" d="M125 0h1m-73 2h1m-1 6h1m9 0h1m-1 1h1m32 5h1m38 1h1m-72 3h1m-38 1h1m52 0h1m39 0h1m-98 1h1m25 0h1m20 0h1m35 0h1m-100 1h1m28 0h1m15 0h1m3 0h2m2 0h1m7 0h1m2 0h1m29 0h2m3 0h1m-52 1h2m11 0h1m20 0h1m5 0h1m5 0h1m-82 1h1m19 0h1m65 0h1m-91 1h1m64 0h1m-61 1h1m2 0h1m18 0h1m6 0h1m17 0h1m16 0h1m6 0h1m-85 1h1m32 0h1m14 0h1m31 0h1m14 0h1m-92 1h1m6 0h1m2 0h1m27 0h2m20 0h1m1 0h1m29 0h1m-105 1h1m4 1h2m24 0h1m6 0h1m35 0h1m1 0h1m-73 1h1m13 0h1m53 0h1"/>
<path stroke="#27808e" d="M53 1h1m-27 1h1m36 0h1m-2 9h1m29 1h1m-34 2h1m3 0h2m-2 3h1m25 0h1m29 1h1m-95 1h1m22 0h1m31 0h1m14 0h1m-80 1h1m36 0h1m10 0h1m2 0h1m-53 1h1m1 0h1m21 0h1m14 0h1m21 0h1m2 0h1m24 0h1m-66 1h1m11 0h1m27 0h1m11 0h1m6 0h2m-87 1h1m53 0h1m2 0h1m3 0h1m3 0h1m2 0h1m22 0h1m8 0h1m-79 1h1m24 0h1m8 0h1m7 0h1m17 0h1m3 0h1m-73 1h1m37 0h1m14 0h1m-78 1h1m52 0h1m12 0h2m4 0h1m8 0h1m5 0h1m-85 1h1m16 0h1m5 0h1m3 0h1m4 0h1m8 0h2m21 0h1m14 0h1m11 0h1m7 0h1m-102 1h1m31 1h1m33 0h1m-69 1h1m1 0h1m23 0h1"/>
<path stroke="#23888e" d="M53 0h1m9 1h1m66 1h1m-78 5h1m10 2h1m65 1h1m-78 1h1m0 1h1m-51 3h1m85 0h1m-27 1h1m17 0h1m-70 1h1m80 0h1m25 0h1m-48 1h1m-64 1h1m43 0h1m-48 1h1m8 0h1m10 0h1m15 0h1m7 0h1m3 0h1m10 0h1m6 0h1m8 0h1m13 0h1m-71 1h2m7 0h1m3 0h1m2 0h1m24 0h1m1 0h1m12 0h1m-56 1h1m37 0h1m7 0h1m13 0h1m9 0h1m8 0h1m-58 1h1m1 0h2m8 0h1m21 0h1m12 0h1m11 0h1m3 0h1m3 0h1m28 0h1m-125 1h1m12 0h1m20 0h1m1 0h1m15 0h1m8 0h1m1 0h1m-14 1h1m19 0h1m9 0h2m-91 1h1m9 0h1m1 0h2m2 0h1m7 0h1m5 0h1m4 0h1m1 0h1m18 0h1m17 0h1m2 0h1m5 0h1m-86 1h1m2 0h1m4 0h1m12 0h1m5 0h1m45 0h1m7 0h1m2 0h1m-84 2h1m18 0h1m13 0h2m12 2h1"/>
<path stroke="#21918c" d="M80 2h1m-18 8h1m-1 2h1m9 2h1m71 0h1m-139 1h1m70 1h1m41 0h1m-43 1h1m7 0h1m-9 1h1m1 0h1m37 0h1m-112 1h1m63 0h1m6 0h1m39 0h1m-98 1h1m4 0h1m7 0h1m11 0h1m14 0h1m9 0h1m6 0h1m-55 1h2m33 0h1m85 0h1m-125 1h1m49 0h1m14 0h1m7 0h1m-90 1h1m5 0h1m17 0h1m9 0h1m26 0h1m26 0h1m1 0h1m1 0h1m1 0h1m2 0h1m7 0h1m-103 1h1m5 0h1m25 0h1m1 0h1m6 0h1m29 0h1m14 0h1m7 0h1m3 0h1m-71 1h1m4 0h1m27 0h2m15 0h1m12 0h1m6 0h1m-107 1h1m10 0h1m20 0h1m13 0h1m12 0h1m15 0h1m21 0h1m7 0h1m-103 1h2m10 0h1m12 0h1m3 0h1m12 0h1m31 0h1m17 0h1m1 0h1m1 0h1m2 0h1m2 0h1m-104 2h1m9 0h1m2 0h1m31 0h1m10 0h1"/>
<path stroke="#1f988b" d="M125 8h1m-1 4h1m4 0h1m-54 2h1m42 0h1m-43 1h1m41 0h1m-94 2h1m26 0h1m44 0h1m1 0h1m16 0h1m-67 1h1m12 0h1m2 0h1m76 0h1m-138 1h1m7 0h1m17 0h1m17 0h1m14 0h2m76 0h1m-122 1h1m3 0h1m50 0h2m-61 1h1m28 0h1m16 0h1m9 0h1m4 0h1m-59 1h1m46 0h1m11 0h2m14 0h1m-84 1h1m2 0h1m4 0h2m10 0h1m19 0h1m13 0h2m18 0h1m-77 1h1m8 0h2m15 0h1m10 0h2m7 0h1m6 0h1m24 0h1m5 0h1m7 0h1m-99 1h1m5 0h1m4 0h1m1 0h1m11 0h1m9 0h1m6 0h1m25 0h3m16 0h2m7 0h1m-97 1h1m11 0h2m9 0h2m2 0h1m23 0h1m10 0h1m7 0h1m6 0h1m2 0h1m4 0h2m12 0h1m-102 1h1m3 0h1m34 0h1m47 0h2m6 0h1"/>
<path stroke="#1fa188" d="M135 12h1m-73 1h1m56 0h1m29 1h1m-70 1h1m36 0h1m26 0h1m-81 1h1m24 0h1m-51 1h1m24 0h1m14 0h2m14 0h1m-81 1h1m10 0h1m12 0h1m13 0h2m5 0h1m20 0h1m-37 1h1m18 0h1m35 0h1m-61 1h2m13 0h2m46 0h1m-92 1h1m33 0h1m30 0h1m39 0h1m-103 1h1m26 0h1m15 0h1m19 0h1m1 0h1m11 0h1m11 0h1m-98 1h1m23 0h1m9 0h1m1 0h1m53 0h1m4 0h1m46 0h1m-144 1h1m21 0h2m13 0h1m22 0h1m3 0h1m14 0h1m-79 1h1m2 0h1m3 0h1m6 0h1m11 0h1m22 0h1m9 0h1m20 0h1m4 0h1m3 0h1m6 0h2m-88 1h1m16 0h1m3 0h1m3 0h2m27 0h1m10 0h1m10 0h1m5 0h1m-100 1h2m32 0h1m24 0h1m6 0h1m16 0h2m1 0h2m-64 291h1"/>
<path stroke="#22a884" d="M79 14h1m-28 1h1m63 0h1m-91 1h1m25 0h1m65 0h1m-112 1h1m9 0h1m8 0h1m62 0h1m26 0h1m-96 1h1m4 0h1m69 0h1m4 0h1m14 0h1m-94 1h1m12 0h1m24 0h1m11 0h1m5 0h1m26 0h1m7 0h1m1 0h1m-109 1h1m27 0h1m13 0h1m9 0h1m13 0h1m26 0h3m41 0h1m-50 1h1m19 0h1m-113 1h1m2 0h1m10 0h1m5 0h1m16 0h1m7 0h2m23 0h1m10 0h1m17 0h1m4 0h1m1 0h1m1 0h1m1 0h1m1 0h1m-108 1h1m2 0h1m9 0h1m13 0h2m3 0h1m42 0h1m2 0h1m-51 1h1m5 0h1m2 0h1m9 0h1m26 0h1m1 0h1m2 0h1m4 0h1m5 0h1m1 0h1m2 0h1m-93 1h1m12 0h1m3 0h1m5 0h1m24 0h1m22 0h1m3 0h1m10 0h1m1 0h1m-95 1h1m2 0h1m5 0h1m29 0h1m28 0h1m24 0h1m-89 1h1m2 0h1m23 0h1"/>
<path stroke="#2ab07f" d="M140 12h1m-23 2h1m-102 1h1m8 0h1m53 0h1m69 0h1m-134 1h1m61 0h1m1 0h1m-61 1h1m30 0h1m29 0h1m-66 1h1m63 0h1m24 0h1m7 0h1m-98 1h1m3 0h1m2 0h1m18 0h1m12 0h1m13 0h1m37 0h1m3 0h1m-91 1h1m82 0h1m-85 1h1m28 0h1m59 0h1m1 0h1m-105 1h1m11 0h1m7 0h1m3 0h1m9 0h1m8 0h1m9 0h1m22 0h1m3 0h1m2 0h1m-79 1h1m14 0h1m1 0h1m46 0h1m7 0h1m2 0h1m-77 1h1m6 0h1m12 0h1m5 0h1m9 0h1m25 0h1m12 0h1m4 0h1m5 0h1m-93 1h1m23 0h1m7 0h3m5 0h2m3 0h1m7 0h1m12 0h1m11 0h1m4 0h1m-76 1h1m51 0h1m-67 1h1"/>
<path stroke="#35b779" d="M135 0h1m-6 7h1m-1 1h1m-110 2h1m40 1h1m1 0h1m53 2h1m-48 1h1m44 0h1m-44 1h1m-20 1h1m57 0h1m3 0h1m-101 1h1m95 0h1m-106 1h1m82 0h1m17 0h1m3 0h1m-73 1h1m1 0h1m39 0h2m7 0h1m-67 1h1m55 0h1m26 1h1m5 0h1m-103 1h1m22 0h2m65 0h1m47 0h1m-145 1h1m12 0h1m23 0h1m15 0h1m12 0h1m3 0h1m9 0h1m4 0h1m2 0h1m-67 1h1m6 0h1m11 0h1m21 0h1m2 0h1m16 0h1m5 0h1m-91 1h1m4 0h1m20 0h1m24 0h1m-20 1h2m9 0h1"/>
<path stroke="#44bf70" d="M64 8h1m25 2h1m34 1h1m-62 1h1m29 0h1m-62 2h1m20 0h1m4 0h1m18 0h1m12 0h1m-38 1h1m10 0h1m-45 1h1m123 0h1m-78 1h1m4 0h1m5 0h1m28 0h1m-73 1h1m33 0h1m8 0h1m5 0h1m-58 1h1m28 0h1m8 0h1m83 0h1m-139 2h1m137 0h1m-129 1h1m23 0h1m13 0h1m5 0h2m7 0h1m28 0h1m-101 1h1m26 0h1m60 0h1m7 0h1m-92 1h2m13 0h1m20 0h1m29 0h1m1 0h1m-64 1h1m22 0h1m36 0h1m-70 1h1m52 1h1"/>
<path stroke="#54c568" d="M140 0h1m-77 1h1m-32 1h1m28 0h1m-30 5h1m-7 1h1m-2 1h1m6 0h1m28 0h1m27 0h1m34 0h1m-36 2h1m49 0h1m-63 2h1m-62 1h1m8 0h1m49 0h1m13 0h1m21 0h1m-34 1h1m16 0h1m15 0h1m1 0h1m-103 1h1m67 0h1m15 0h1m17 0h1m-1 1h1m30 0h1m-54 1h1m-4 1h1m3 0h2m5 0h1m9 0h1m-52 1h1m17 0h1m-78 2h1m8 0h1m4 0h1m10 0h1m3 0h1m7 0h3m64 1h1m-94 1h1m3 0h1m4 0h1m20 0h1m16 0h1m1 0h1m42 0h1m-95 1h1m9 0h1m24 0h1m3 0h1m-39 1h1m-5 1h1"/>
<path stroke="#67cc5c" d="M33 8h1m-7 1h1m107 0h1m4 0h1m-77 1h1m70 0h1m-1 1h1m-16 1h1m-69 2h1m27 0h1m1 1h1m-67 1h1m51 0h1m4 0h1m27 0h1m-79 2h1m19 0h1m7 0h1m4 0h1m9 0h1m21 0h1m4 0h2m55 0h1m-100 1h1m34 0h1m10 0h2m5 0h2m-30 1h1m73 0h1m-123 1h1m3 0h1m-14 1h1m14 0h1m22 0h2m10 0h1m-70 1h1m37 0h1m-34 1h1m19 0h1m5 0h1m44 0h1m-73 1h1m40 0h1m12 0h1m-30 1h1"/>
<path stroke="#7ad151" d="M27 1h1m25 2h1m-28 5h1m98 2h1m14 0h1m-115 3h1m6 0h1m20 0h1m35 0h1m-64 1h1m38 0h1m47 0h1m-99 1h1m10 1h1m80 0h1m-86 1h1m31 0h1m15 0h1m16 0h1m2 0h1m-43 1h2m20 0h1m15 0h1m10 0h1m11 0h1m-70 1h1m43 0h1m1 0h2m-71 1h1m1 0h1m65 0h1m-77 2h1m4 0h1m28 0h2m2 0h1m23 0h1m4 0h1m-78 2h1m17 0h1"/>
<path stroke="#90d743" d="M62 1h1m62 0h1m-105 1h1m4 0h1m30 0h1m21 0h1m10 0h1m34 0h1m4 1h1m-68 4h1m-47 6h1m94 0h1m3 0h1m-113 1h1m103 0h1m-75 4h1m48 0h1m5 0h1m1 0h1m3 0h1m1 0h1m1 0h1m-40 1h1m34 0h1m7 0h1m-75 1h1m17 0h1m35 0h1m4 0h1m5 0h1m4 0h1m-70 1h1m44 0h1m-63 1h1m16 0h2m44 0h1m-73 2h1"/>
<path stroke="#a5db36" d="M130 0h1m-1 1h1m-110 2h1m96 9h1m-5 1h1m-60 3h1m5 1h1m21 0h1m26 0h1m39 0h1m-110 1h1m42 0h1m1 0h1m13 0h1m-79 1h1m51 0h1m9 0h1m7 0h1m9 0h1m-90 1h1m25 0h1m60 0h1m-43 3h1m-53 1h1m-7 1h1"/>
<path stroke="#bddf26" d="M120 2h1m-1 7h1m-57 4h1m43 0h1m36 0h1m-64 1h1m27 0h1m-3 1h1m1 0h1m-1 1h1m-13 1h1m-53 1h1m52 1h1m-31 1h1m14 0h1m2 0h1"/>
<path stroke="#d2e21b" d="M135 1h1m-109 12h1m82 0h1m-90 2h1m18 1h1m65 1h1m-99 1h1m15 0h1m32 0h1m-8 1h1m34 1h1m3 0h1m3 0h1m1 0h1m1 0h2"/>
<path stroke="#eae51a" d="M80 13h1m0 1h1m19 1h1m-60 3h1m24 0h1m-33 2h1m55 0h2m-89 1h1m32 0h1m-27 1h1m35 0h1"/>
<path stroke="#fde725" d="M0 0h53m1 0h53m1 0h1m1 0h1m1 0h1m1 0h1m1 0h1m1 0h1m1 0h1m24 0h1m4 0h1m-151 1h27m1 0h25m1 0h8m3 0h42m1 0h1m1 0h1m1 0h1m1 0h1m1 0h1m1 0h1m1 0h1m19 0h1m4 0h1m4 0h1m-151 1h21m1 0h4m2 0h5m1 0h19m1 0h3m1 0h4m3 0h14m2 0h9m1 0h16m1 0h1m1 0h1m1 0h1m1 0h1m1 0h1m1 0h1m16 0h1m4 0h1m4 0h1m4 0h1m-151 1h21m1 0h31m1 0h53m1 0h1m1 0h1m1 0h1m1 0h1m1 0h1m1 0h1m1 0h1m4 0h1m9 0h1m4 0h1m4 0h1m4 0h1m-151 1h107m1 0h1m1 0h1m1 0h1m1 0h1m1 0h1m1 0h1m1 0h1m4 0h1m4 0h1m4 0h1m4 0h1m4 0h1m4 0h1m-151 1h107m1 0h1m1 0h1m1 0h1m1 0h1m1 0h1m1 0h1m1 0h1m4 0h1m4 0h1m4 0h1m4 0h1m4 0h1m4 0h1m-151 1h107m1 0h1m1 0h1m1 0h1m1 0h1m1 0h1m1 0h1m1 0h1m4 0h1m4 0h1m4 0h1m4 0h1m4 0h1m4 0h1m-151 1h33m1 0h19m1 0h9m1 0h43m1 0h1m1 0h1m1 0h1m1 0h1m1 0h1m1 0h1m1 0h1m4 0h1m9 0h1m4 0h1m4 0h1m4 0h1m-151 1h26m2 0h5m1 0h19m1 0h9m2 0h42m1 0h1m1 0h1m1 0h1m1 0h1m1 0h1m1 0h1m1 0h1m14 0h1m4 0h1m4 0h1m4 0h1m-151 1h26m2 0h5m1 0h19m1 0h8m3 0h25m1 0h16m1 0h1m1 0h1m1 0h1m1 0h1m1 0h1m1 0h1m26 0h1m4 0h1m-151 1h21m1 0h31m1 0h9m2 0h25m1 0h16m1 0h1m1 0h1m1 0h1m1 0h1m1 0h1m1 0h1m1 0h1m24 0h1m4 0h1m-151 1h53m1 0h8m3 0h25m1 0h16m1 0h1m1 0h1m1 0h1m1 0h1m1 0h1m1 0h1m1 0h1m24 0h1m4 0h1m-151 1h53m2 0h8m2 0h28m2 0h12m1 0h1m1 0h1m1 0h1m1 0h1m1 0h1m28 0h1m4 0h1m-151 1h17m1 0h8m2 0h5m1 0h19m2 0h8m2 0h13m1 0h1m1 0h9m1 0h16m43 0h1m-151 1h4m1 0h12m1 0h8m2 0h5m1 0h18m3 0h4m2 0h1m5 0h4m1 0h1m1 0h2m7 0h7m2 0h4m1 0h10m-107 1h4m1 0h2m1 0h8m2 0h3m1 0h4m2 0h5m1 0h18m3 0h7m4 0h7m1 0h4m5 0h7m1 0h5m1 0h4m1 0h5m-107 1h12m1 0h3m2 0h3m1 0h4m2 0h5m1 0h6m1 0h11m4 0h6m4 0h2m1 0h4m1 0h4m5 0h7m1 0h5m1 0h4m1 0h5m43 0h1m-151 1h7m1 0h5m1 0h2m2 0h3m1 0h1m1 0h2m2 0h5m1 0h6m1 0h11m4 0h5m5 0h2m1 0h2m1 0h1m1 0h4m24 0h4m-106 1h7m2 0h7m2 0h3m1 0h1m2 0h1m2 0h5m2 0h1m1 0h3m4 0h2m1 0h2m9 0h3m8 0h1m2 0h1m1 0h4m24 0h4m-106 1h7m2 0h1m1 0h5m2 0h3m4 0h1m3 0h4m2 0h1m1 0h3m4 0h2m1 0h2m9 0h2m9 0h1m2 0h1m2 0h3m-78 1h7m2 0h4m1 0h2m3 0h1m10 0h3m4 0h2m5 0h2m2 0h1m9 0h1m13 0h1m2 0h1m-76 1h4m1 0h2m2 0h3m2 0h2m3 0h1m11 0h1m6 0h1m5 0h2m2 0h1m9 0h1m13 0h1m10 0h7m1 0h5m1 0h4m-100 1h3m1 0h2m-6 1h3m-3 1h3m-3 1h3m-3 1h3"/>
</g></g>
<g stroke="#000" stroke-width="1.1" fill="none">
<rect x="98.5" y="85.5" width="864.0" height="737.0"/>
<path d="M179.5 822.5v5.40M287.5 822.5v5.40M395.5 822.5v5.40M503.5 822.5v5.40M611.5 822.5v5.40M719.5 822.5v5.40M827.5 822.5v5.40M935.5 822.5v5.40M98.5 810.5h-5.40M98.5 689.5h-5.40M98.5 569.5h-5.40M98.5 448.5h-5.40M98.5 327.5h-5.40M98.5 206.5h-5.40M98.5 85.5h-5.40"/>
</g>
<rect x="1017.0" y="86.0" width="35.0" height="736.0" fill="url(#vg)"/>
<g stroke="#000" stroke-width="1.1" fill="none"><rect x="1016.5" y="85.5" width="36.0" height="737.0"/>
<path d="M1052.5 822.5h5.40M1052.5 699.5h5.40M1052.5 577.5h5.40M1052.5 454.5h5.40M1052.5 331.5h5.40M1052.5 208.5h5.40M1052.5 85.5h5.40"/></g>
<g font-size="20.833">
<text x="88.0" y="818.10" text-anchor="end" letter-spacing="-0.3">0</text>
<text x="87.0" y="697.10" text-anchor="end" letter-spacing="-0.3">100</text>
<text x="87.0" y="577.10" text-anchor="end" letter-spacing="-0.3">200</text>
<text x="87.0" y="456.10" text-anchor="end" letter-spacing="-0.3">300</text>
<text x="87.0" y="335.10" text-anchor="end" letter-spacing="-0.3">400</text>
<text x="87.0" y="214.10" text-anchor="end" letter-spacing="-0.3">500</text>
<text x="87.0" y="93.10" text-anchor="end" letter-spacing="-0.3">600</text>
<text x="178.60" y="848.4" text-anchor="middle" letter-spacing="0">2</text>
<text x="286.60" y="848.4" text-anchor="middle" letter-spacing="0">4</text>
<text x="394.60" y="848.4" text-anchor="middle" letter-spacing="0">6</text>
<text x="502.60" y="848.4" text-anchor="middle" letter-spacing="0">8</text>
<text x="610.20" y="848.4" text-anchor="middle" letter-spacing="-1">10</text>
<text x="718.20" y="848.4" text-anchor="middle" letter-spacing="-1">12</text>
<text x="826.20" y="848.4" text-anchor="middle" letter-spacing="-1">14</text>
<text x="934.20" y="848.4" text-anchor="middle" letter-spacing="-1">16</text>
<text x="1062.4" y="830.10" letter-spacing="-0.3">0</text>
<text x="1062.4" y="707.10" letter-spacing="-0.3">5</text>
<text x="1062.4" y="585.10" letter-spacing="-0.3">10</text>
<text x="1062.4" y="462.10" letter-spacing="-0.3">15</text>
<text x="1062.4" y="339.10" letter-spacing="-0.3">20</text>
<text x="1062.4" y="216.10" letter-spacing="-0.3">25</text>
<text x="1062.4" y="93.10" letter-spacing="-0.3">30</text>
<text x="529.4" y="874.3" text-anchor="middle">Frequency (MHz)</text>
<text transform="translate(37.6 455) rotate(-90)" text-anchor="middle">Virtual range (km)</text>
<text transform="translate(1108.5 454.3) rotate(-90)" text-anchor="middle">SNR (dB)</text>
</g>
<g font-size="27.778" text-anchor="middle"><text x="530" y="44" style="white-space:pre">IRF Kiruna Ionosonde KI167 2025-11-13 21:55:00  UT</text><text x="529.2" y="77.2">noise_floor=-120.60 (dB) peak SNR=98.96</text></g>
</svg>
</body></html>
